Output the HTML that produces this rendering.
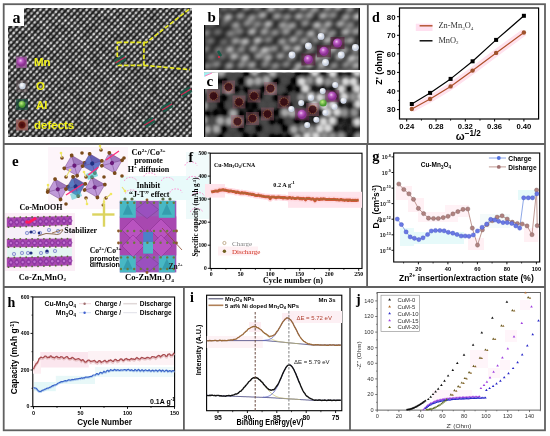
<!DOCTYPE html>
<html><head><meta charset="utf-8"><style>
html,body{margin:0;padding:0;background:#fff;width:550px;height:436px;overflow:hidden;}
svg{display:block;will-change:transform;}
</style></head><body>
<svg width="550" height="436" viewBox="0 0 550 436">
<rect width="550" height="436" fill="#fff"/>
<defs>
<radialGradient id="dotg"><stop offset="0" stop-color="#f6f6f6"/><stop offset="0.5" stop-color="#c4c4c4"/><stop offset="1" stop-color="#707070" stop-opacity="0"/></radialGradient>
<linearGradient id="strg" x1="0" y1="0" x2="0" y2="1"><stop offset="0" stop-color="#6a6a6a" stop-opacity="0"/><stop offset="0.5" stop-color="#7a7a7a"/><stop offset="1" stop-color="#6a6a6a" stop-opacity="0"/></linearGradient>
<pattern id="latt" width="4.4" height="4.3" patternUnits="userSpaceOnUse" patternTransform="rotate(-48)">
<rect width="4.4" height="4.3" fill="#2a2a2a"/>
<rect x="0" y="0.7" width="4.4" height="2.9" fill="url(#strg)"/>
<ellipse cx="2.2" cy="2.15" rx="2.15" ry="1.85" fill="url(#dotg)"/>
</pattern>
<filter id="noiseA" x="0" y="0" width="100%" height="100%"><feTurbulence type="fractalNoise" baseFrequency="0.12" numOctaves="2" seed="4" result="n"/><feColorMatrix in="n" type="matrix" values="0 0 0 0 0  0 0 0 0 0  0 0 0 0 0  1.6 0 0 0 -0.55"/></filter>
<radialGradient id="ballMn" cx="0.4" cy="0.35"><stop offset="0" stop-color="#f0c8f0"/><stop offset="0.4" stop-color="#c060c8"/><stop offset="1" stop-color="#8a3090"/></radialGradient>
<radialGradient id="ballO" cx="0.4" cy="0.35"><stop offset="0" stop-color="#ffffff"/><stop offset="1" stop-color="#c8d0e0"/></radialGradient>
<radialGradient id="ballAl" cx="0.4" cy="0.35"><stop offset="0" stop-color="#c0f080"/><stop offset="1" stop-color="#4a9a30"/></radialGradient>
<radialGradient id="ballD" cx="0.5" cy="0.5"><stop offset="0" stop-color="#3a0808"/><stop offset="0.7" stop-color="#601818"/><stop offset="1" stop-color="#a06040"/></radialGradient>
<filter id="blur1" x="-5%" y="-5%" width="110%" height="110%"><feGaussianBlur stdDeviation="2.2"/></filter>
<filter id="blur2" x="-5%" y="-5%" width="110%" height="110%"><feGaussianBlur stdDeviation="1.5"/></filter>
<filter id="blur05"><feGaussianBlur stdDeviation="0.5"/></filter>
<clipPath id="clipA"><rect x="8" y="8" width="184" height="129"/></clipPath>
<clipPath id="clipB"><rect x="204" y="8" width="156" height="62"/></clipPath>
<clipPath id="clipC"><rect x="204" y="72.5" width="156" height="64.5"/></clipPath>
</defs>
<rect x="3.7" y="4.2" width="541.3" height="426.1" fill="none" stroke="#606060" stroke-width="1.8" />
<line x1="3.7" y1="144" x2="545" y2="144" stroke="#606060" stroke-width="1.8" />
<line x1="3.7" y1="287" x2="545" y2="287" stroke="#606060" stroke-width="1.8" />
<line x1="367.8" y1="4.2" x2="367.8" y2="144" stroke="#606060" stroke-width="1.8" />
<line x1="367.1" y1="144" x2="367.1" y2="287" stroke="#606060" stroke-width="1.8" />
<line x1="183.9" y1="287" x2="183.9" y2="430.3" stroke="#606060" stroke-width="1.8" />
<line x1="350" y1="287" x2="350" y2="430.3" stroke="#606060" stroke-width="1.8" />
<rect x="48" y="147" width="80" height="62" fill="#fdf5fa" stroke="none" stroke-width="1" />
<rect x="120" y="176" width="89" height="24" fill="#e8fafa" stroke="none" stroke-width="1" />
<rect x="186" y="152" width="23" height="24" fill="#f2fbfb" stroke="none" stroke-width="1" />
<rect x="186" y="200" width="23" height="19" fill="#eefafa" stroke="none" stroke-width="1" />
<path d="M124.5 181 a6 3.6 0 0 1 12 0" fill="none" stroke="#ff94d4" stroke-width="1" stroke-dasharray="1.6,1.3"/>
<path d="M161.5 181 a6 3.6 0 0 1 12 0" fill="none" stroke="#ff94d4" stroke-width="1" stroke-dasharray="1.6,1.3"/>
<path d="M187 180 a6 3.6 0 0 1 12 0" fill="none" stroke="#ff94d4" stroke-width="1" stroke-dasharray="1.6,1.3"/>
<path d="M185 165.5 a6 3.6 0 0 1 12 0" fill="none" stroke="#ff94d4" stroke-width="1" stroke-dasharray="1.6,1.3"/>
<path d="M125.5 193.5 a6 3.6 0 0 1 12 0" fill="none" stroke="#ff94d4" stroke-width="1" stroke-dasharray="1.6,1.3"/>
<path d="M170 192.5 a6 3.6 0 0 1 12 0" fill="none" stroke="#ff94d4" stroke-width="1" stroke-dasharray="1.6,1.3"/>
<path d="M190.5 212 a6 3.6 0 0 1 12 0" fill="none" stroke="#ff94d4" stroke-width="1" stroke-dasharray="1.6,1.3"/>
<path d="M192 196 a6 3.6 0 0 1 12 0" fill="none" stroke="#ff94d4" stroke-width="1" stroke-dasharray="1.6,1.3"/>
<path d="M144 176.5 a6 3.6 0 0 1 12 0" fill="none" stroke="#ff94d4" stroke-width="1" stroke-dasharray="1.6,1.3"/>
<g clip-path="url(#clipA)">
<rect x="8" y="8" width="184" height="129" fill="url(#latt)" stroke="none" stroke-width="1" />
<rect x="8" y="8" width="184" height="129" fill="#000" stroke="none" stroke-width="1" filter="url(#noiseA)" opacity="0.4"/>
</g>
<rect x="8" y="8" width="16" height="18" fill="#ffffff" stroke="none" stroke-width="1" />
<text x="12.5" y="22.5" font-family='"Liberation Serif",serif' font-size="16" font-weight="bold" fill="#000" text-anchor="start" >a</text>
<g fill="none" stroke="#e8e820" stroke-width="1.7" stroke-dasharray="4.5,2">
<rect x="117.3" y="42.3" width="26.6" height="23"/>
<polyline points="143.9,42.3 146.2,42.7 190,8.6"/>
<polyline points="143.9,65.3 190,69.7"/>
</g>
<rect x="16" y="56.5" width="11" height="11.5" fill="#9a5a9a" stroke="none" stroke-width="1" opacity="0.8"/>
<rect x="16" y="80" width="12" height="12" fill="#6a5a60" stroke="none" stroke-width="1" opacity="0.45"/>
<rect x="16" y="99" width="12" height="11" fill="#1a4a3a" stroke="none" stroke-width="1" opacity="0.75"/>
<rect x="16" y="119.5" width="12" height="11" fill="#9a6060" stroke="none" stroke-width="1" opacity="0.85"/>
<circle cx="21.5" cy="62" r="4.6" fill="url(#ballMn)" stroke="none" stroke-width="0.5" />
<circle cx="22.4" cy="86" r="3.2" fill="url(#ballO)" stroke="none" stroke-width="0.5" />
<circle cx="22" cy="104.3" r="3.4" fill="url(#ballAl)" stroke="none" stroke-width="0.5" />
<circle cx="22" cy="125" r="4.2" fill="url(#ballD)" stroke="none" stroke-width="0.5" />
<text x="34" y="66" font-family='"Liberation Sans",sans-serif' font-size="11.5" font-weight="bold" fill="#f2f21a" text-anchor="start" >Mn</text>
<text x="36" y="90.3" font-family='"Liberation Sans",sans-serif' font-size="11.5" font-weight="bold" fill="#f2f21a" text-anchor="start" >O</text>
<text x="36" y="108.5" font-family='"Liberation Sans",sans-serif' font-size="11.5" font-weight="bold" fill="#f2f21a" text-anchor="start" >Al</text>
<text x="34" y="129" font-family='"Liberation Sans",sans-serif' font-size="11.5" font-weight="bold" fill="#f2f21a" text-anchor="start" >defects</text>
<g opacity="0.9"><rect x="114.8" y="56.75" width="11" height="6.5" fill="#1a5a48" transform="rotate(-30 120.3 60)"/>
<line x1="115.3" y1="63" x2="125.3" y2="57" stroke="#e02050" stroke-width="1.2" />
</g>
<g opacity="0.9"><rect x="180.5" y="88.75" width="11" height="6.5" fill="#1a5a48" transform="rotate(-30 186 92)"/>
<line x1="181" y1="95" x2="191" y2="89" stroke="#e02050" stroke-width="1.2" />
</g>
<g opacity="0.9"><rect x="161.5" y="103.75" width="11" height="6.5" fill="#1a5a48" transform="rotate(-30 167 107)"/>
<line x1="162" y1="110" x2="172" y2="104" stroke="#e02050" stroke-width="1.2" />
</g>
<g opacity="0.9"><rect x="143.8" y="118.95" width="11" height="6.5" fill="#1a5a48" transform="rotate(-30 149.3 122.2)"/>
<line x1="144.3" y1="125.2" x2="154.3" y2="119.2" stroke="#e02050" stroke-width="1.2" />
</g>
<g clip-path="url(#clipB)">
<rect x="204" y="8" width="156" height="62" fill="#1c1c1c" stroke="none" stroke-width="1" />
<g filter="url(#blur1)">
<ellipse cx="199" cy="8.5" rx="4.7" ry="3.1" fill="rgb(135,135,135)" transform="rotate(-15 199 8.5)"/>
<ellipse cx="211.5" cy="7.3" rx="4.7" ry="3.1" fill="rgb(148,148,148)" transform="rotate(-15 211.5 7.3)"/>
<ellipse cx="224.1" cy="8" rx="4.7" ry="3.1" fill="rgb(129,129,129)" transform="rotate(-15 224.1 8)"/>
<ellipse cx="234" cy="6.8" rx="4.7" ry="3.1" fill="rgb(166,166,166)" transform="rotate(-15 234 6.8)"/>
<ellipse cx="246.7" cy="7" rx="4.7" ry="3.1" fill="rgb(197,197,197)" transform="rotate(-15 246.7 7)"/>
<ellipse cx="257.2" cy="7.4" rx="4.7" ry="3.1" fill="rgb(146,146,146)" transform="rotate(-15 257.2 7.4)"/>
<ellipse cx="271.1" cy="8.6" rx="4.7" ry="3.1" fill="rgb(206,206,206)" transform="rotate(-15 271.1 8.6)"/>
<ellipse cx="281.5" cy="6.9" rx="4.7" ry="3.1" fill="rgb(169,169,169)" transform="rotate(-15 281.5 6.9)"/>
<ellipse cx="292.8" cy="7.1" rx="4.7" ry="3.1" fill="rgb(214,214,214)" transform="rotate(-15 292.8 7.1)"/>
<ellipse cx="304" cy="7.2" rx="4.7" ry="3.1" fill="rgb(206,206,206)" transform="rotate(-15 304 7.2)"/>
<ellipse cx="314.9" cy="9" rx="4.7" ry="3.1" fill="rgb(182,182,182)" transform="rotate(-15 314.9 9)"/>
<ellipse cx="327.8" cy="7.6" rx="4.7" ry="3.1" fill="rgb(185,185,185)" transform="rotate(-15 327.8 7.6)"/>
<ellipse cx="338.3" cy="6.9" rx="4.7" ry="3.1" fill="rgb(213,213,213)" transform="rotate(-15 338.3 6.9)"/>
<ellipse cx="350" cy="8.7" rx="4.7" ry="3.1" fill="rgb(169,169,169)" transform="rotate(-15 350 8.7)"/>
<ellipse cx="363.8" cy="8.9" rx="4.7" ry="3.1" fill="rgb(209,209,209)" transform="rotate(-15 363.8 8.9)"/>
<ellipse cx="206.6" cy="16.4" rx="4.7" ry="3.1" fill="rgb(143,143,143)" transform="rotate(-15 206.6 16.4)"/>
<ellipse cx="216.3" cy="16.1" rx="4.7" ry="3.1" fill="rgb(151,151,151)" transform="rotate(-15 216.3 16.1)"/>
<ellipse cx="228.1" cy="17.2" rx="4.7" ry="3.1" fill="rgb(202,202,202)" transform="rotate(-15 228.1 17.2)"/>
<ellipse cx="240.3" cy="15.9" rx="4.7" ry="3.1" fill="rgb(172,172,172)" transform="rotate(-15 240.3 15.9)"/>
<ellipse cx="251.9" cy="17.4" rx="4.7" ry="3.1" fill="rgb(169,169,169)" transform="rotate(-15 251.9 17.4)"/>
<ellipse cx="262.4" cy="15.2" rx="4.7" ry="3.1" fill="rgb(194,194,194)" transform="rotate(-15 262.4 15.2)"/>
<ellipse cx="276.9" cy="16.2" rx="4.7" ry="3.1" fill="rgb(180,180,180)" transform="rotate(-15 276.9 16.2)"/>
<ellipse cx="287.2" cy="16.8" rx="4.7" ry="3.1" fill="rgb(162,162,162)" transform="rotate(-15 287.2 16.8)"/>
<ellipse cx="298.9" cy="16.3" rx="4.7" ry="3.1" fill="rgb(191,191,191)" transform="rotate(-15 298.9 16.3)"/>
<ellipse cx="309.2" cy="15.4" rx="4.7" ry="3.1" fill="rgb(174,174,174)" transform="rotate(-15 309.2 15.4)"/>
<ellipse cx="323.1" cy="15.8" rx="4.7" ry="3.1" fill="rgb(193,193,193)" transform="rotate(-15 323.1 15.8)"/>
<ellipse cx="332.8" cy="15.2" rx="4.7" ry="3.1" fill="rgb(157,157,157)" transform="rotate(-15 332.8 15.2)"/>
<ellipse cx="345.9" cy="16.9" rx="4.7" ry="3.1" fill="rgb(180,180,180)" transform="rotate(-15 345.9 16.9)"/>
<ellipse cx="357.2" cy="16.6" rx="4.7" ry="3.1" fill="rgb(218,218,218)" transform="rotate(-15 357.2 16.6)"/>
<ellipse cx="369.6" cy="16" rx="4.7" ry="3.1" fill="rgb(226,226,226)" transform="rotate(-15 369.6 16)"/>
<ellipse cx="201.4" cy="24.6" rx="4.7" ry="3.1" fill="rgb(153,153,153)" transform="rotate(-15 201.4 24.6)"/>
<ellipse cx="211.6" cy="24.1" rx="4.7" ry="3.1" fill="rgb(110,110,110)" transform="rotate(-15 211.6 24.1)"/>
<ellipse cx="224.3" cy="23.6" rx="4.7" ry="3.1" fill="rgb(99,99,99)" transform="rotate(-15 224.3 23.6)"/>
<ellipse cx="235.7" cy="25.1" rx="4.7" ry="3.1" fill="rgb(174,174,174)" transform="rotate(-15 235.7 25.1)"/>
<ellipse cx="247.4" cy="23.3" rx="4.7" ry="3.1" fill="rgb(160,160,160)" transform="rotate(-15 247.4 23.3)"/>
<ellipse cx="257.4" cy="24.2" rx="4.7" ry="3.1" fill="rgb(155,155,155)" transform="rotate(-15 257.4 24.2)"/>
<ellipse cx="268.3" cy="24" rx="4.7" ry="3.1" fill="rgb(207,207,207)" transform="rotate(-15 268.3 24)"/>
<ellipse cx="282.7" cy="25" rx="4.7" ry="3.1" fill="rgb(179,179,179)" transform="rotate(-15 282.7 25)"/>
<ellipse cx="292.1" cy="25.5" rx="4.7" ry="3.1" fill="rgb(184,184,184)" transform="rotate(-15 292.1 25.5)"/>
<ellipse cx="305.1" cy="23.3" rx="4.7" ry="3.1" fill="rgb(163,163,163)" transform="rotate(-15 305.1 23.3)"/>
<ellipse cx="317" cy="25.1" rx="4.7" ry="3.1" fill="rgb(212,212,212)" transform="rotate(-15 317 25.1)"/>
<ellipse cx="327.9" cy="24.2" rx="4.7" ry="3.1" fill="rgb(192,192,192)" transform="rotate(-15 327.9 24.2)"/>
<ellipse cx="340.2" cy="23.9" rx="4.7" ry="3.1" fill="rgb(190,190,190)" transform="rotate(-15 340.2 23.9)"/>
<ellipse cx="350.1" cy="25" rx="4.7" ry="3.1" fill="rgb(155,155,155)" transform="rotate(-15 350.1 25)"/>
<ellipse cx="363" cy="25.5" rx="4.7" ry="3.1" fill="rgb(157,157,157)" transform="rotate(-15 363 25.5)"/>
<ellipse cx="206.1" cy="32.9" rx="4.7" ry="3.1" fill="rgb(151,151,151)" transform="rotate(-15 206.1 32.9)"/>
<ellipse cx="217.7" cy="32" rx="4.7" ry="3.1" fill="rgb(122,122,122)" transform="rotate(-15 217.7 32)"/>
<ellipse cx="230.4" cy="33.6" rx="4.7" ry="3.1" fill="rgb(149,149,149)" transform="rotate(-15 230.4 33.6)"/>
<ellipse cx="239.4" cy="31.6" rx="4.7" ry="3.1" fill="rgb(143,143,143)" transform="rotate(-15 239.4 31.6)"/>
<ellipse cx="252" cy="31.7" rx="4.7" ry="3.1" fill="rgb(203,203,203)" transform="rotate(-15 252 31.7)"/>
<ellipse cx="264.3" cy="31.7" rx="4.7" ry="3.1" fill="rgb(181,181,181)" transform="rotate(-15 264.3 31.7)"/>
<ellipse cx="274.9" cy="32.6" rx="4.7" ry="3.1" fill="rgb(160,160,160)" transform="rotate(-15 274.9 32.6)"/>
<ellipse cx="286" cy="31.8" rx="4.7" ry="3.1" fill="rgb(173,173,173)" transform="rotate(-15 286 31.8)"/>
<ellipse cx="299.2" cy="32.7" rx="4.7" ry="3.1" fill="rgb(151,151,151)" transform="rotate(-15 299.2 32.7)"/>
<ellipse cx="310.8" cy="33.5" rx="4.7" ry="3.1" fill="rgb(204,204,204)" transform="rotate(-15 310.8 33.5)"/>
<ellipse cx="322.7" cy="31.4" rx="4.7" ry="3.1" fill="rgb(183,183,183)" transform="rotate(-15 322.7 31.4)"/>
<ellipse cx="332.1" cy="33.2" rx="4.7" ry="3.1" fill="rgb(164,164,164)" transform="rotate(-15 332.1 33.2)"/>
<ellipse cx="345.6" cy="32" rx="4.7" ry="3.1" fill="rgb(202,202,202)" transform="rotate(-15 345.6 32)"/>
<ellipse cx="356" cy="31.5" rx="4.7" ry="3.1" fill="rgb(182,182,182)" transform="rotate(-15 356 31.5)"/>
<ellipse cx="367.6" cy="33.6" rx="4.7" ry="3.1" fill="rgb(177,177,177)" transform="rotate(-15 367.6 33.6)"/>
<ellipse cx="200" cy="40.9" rx="4.7" ry="3.1" fill="rgb(157,157,157)" transform="rotate(-15 200 40.9)"/>
<ellipse cx="210.4" cy="41" rx="4.7" ry="3.1" fill="rgb(128,128,128)" transform="rotate(-15 210.4 41)"/>
<ellipse cx="223.9" cy="41.9" rx="4.7" ry="3.1" fill="rgb(116,116,116)" transform="rotate(-15 223.9 41.9)"/>
<ellipse cx="235.4" cy="40.9" rx="4.7" ry="3.1" fill="rgb(180,180,180)" transform="rotate(-15 235.4 40.9)"/>
<ellipse cx="245.1" cy="41.6" rx="4.7" ry="3.1" fill="rgb(210,210,210)" transform="rotate(-15 245.1 41.6)"/>
<ellipse cx="257.6" cy="40.4" rx="4.7" ry="3.1" fill="rgb(212,212,212)" transform="rotate(-15 257.6 40.4)"/>
<ellipse cx="268.4" cy="39.8" rx="4.7" ry="3.1" fill="rgb(149,149,149)" transform="rotate(-15 268.4 39.8)"/>
<ellipse cx="282.1" cy="41.4" rx="4.7" ry="3.1" fill="rgb(177,177,177)" transform="rotate(-15 282.1 41.4)"/>
<ellipse cx="293.2" cy="39.6" rx="4.7" ry="3.1" fill="rgb(192,192,192)" transform="rotate(-15 293.2 39.6)"/>
<ellipse cx="304.2" cy="40.8" rx="4.7" ry="3.1" fill="rgb(176,176,176)" transform="rotate(-15 304.2 40.8)"/>
<ellipse cx="315.7" cy="40.1" rx="4.7" ry="3.1" fill="rgb(153,153,153)" transform="rotate(-15 315.7 40.1)"/>
<ellipse cx="327.4" cy="40.2" rx="4.7" ry="3.1" fill="rgb(201,201,201)" transform="rotate(-15 327.4 40.2)"/>
<ellipse cx="340.2" cy="41.3" rx="4.7" ry="3.1" fill="rgb(185,185,185)" transform="rotate(-15 340.2 41.3)"/>
<ellipse cx="350" cy="40.5" rx="4.7" ry="3.1" fill="rgb(188,188,188)" transform="rotate(-15 350 40.5)"/>
<ellipse cx="362.8" cy="41.9" rx="4.7" ry="3.1" fill="rgb(162,162,162)" transform="rotate(-15 362.8 41.9)"/>
<ellipse cx="205.7" cy="49" rx="4.7" ry="3.1" fill="rgb(142,142,142)" transform="rotate(-15 205.7 49)"/>
<ellipse cx="218.6" cy="49.7" rx="4.7" ry="3.1" fill="rgb(137,137,137)" transform="rotate(-15 218.6 49.7)"/>
<ellipse cx="229.8" cy="49.4" rx="4.7" ry="3.1" fill="rgb(200,200,200)" transform="rotate(-15 229.8 49.4)"/>
<ellipse cx="241.2" cy="49.4" rx="4.7" ry="3.1" fill="rgb(158,158,158)" transform="rotate(-15 241.2 49.4)"/>
<ellipse cx="253.5" cy="48.7" rx="4.7" ry="3.1" fill="rgb(185,185,185)" transform="rotate(-15 253.5 48.7)"/>
<ellipse cx="264.8" cy="50.1" rx="4.7" ry="3.1" fill="rgb(213,213,213)" transform="rotate(-15 264.8 50.1)"/>
<ellipse cx="273.9" cy="48.6" rx="4.7" ry="3.1" fill="rgb(167,167,167)" transform="rotate(-15 273.9 48.6)"/>
<ellipse cx="286.7" cy="48.1" rx="4.7" ry="3.1" fill="rgb(185,185,185)" transform="rotate(-15 286.7 48.1)"/>
<ellipse cx="297.3" cy="48.5" rx="4.7" ry="3.1" fill="rgb(214,214,214)" transform="rotate(-15 297.3 48.5)"/>
<ellipse cx="310.9" cy="48.9" rx="4.7" ry="3.1" fill="rgb(157,157,157)" transform="rotate(-15 310.9 48.9)"/>
<ellipse cx="323.2" cy="49.5" rx="4.7" ry="3.1" fill="rgb(165,165,165)" transform="rotate(-15 323.2 49.5)"/>
<ellipse cx="332.9" cy="49.3" rx="4.7" ry="3.1" fill="rgb(200,200,200)" transform="rotate(-15 332.9 49.3)"/>
<ellipse cx="344.3" cy="50.1" rx="4.7" ry="3.1" fill="rgb(176,176,176)" transform="rotate(-15 344.3 50.1)"/>
<ellipse cx="355.9" cy="49.8" rx="4.7" ry="3.1" fill="rgb(165,165,165)" transform="rotate(-15 355.9 49.8)"/>
<ellipse cx="368.7" cy="48.3" rx="4.7" ry="3.1" fill="rgb(198,198,198)" transform="rotate(-15 368.7 48.3)"/>
<ellipse cx="199.3" cy="56.9" rx="4.7" ry="3.1" fill="rgb(157,157,157)" transform="rotate(-15 199.3 56.9)"/>
<ellipse cx="211.5" cy="57" rx="4.7" ry="3.1" fill="rgb(136,136,136)" transform="rotate(-15 211.5 57)"/>
<ellipse cx="222.5" cy="56.4" rx="4.7" ry="3.1" fill="rgb(121,121,121)" transform="rotate(-15 222.5 56.4)"/>
<ellipse cx="234.1" cy="56.5" rx="4.7" ry="3.1" fill="rgb(207,207,207)" transform="rotate(-15 234.1 56.5)"/>
<ellipse cx="245" cy="57.9" rx="4.7" ry="3.1" fill="rgb(207,207,207)" transform="rotate(-15 245 57.9)"/>
<ellipse cx="258.6" cy="56" rx="4.7" ry="3.1" fill="rgb(178,178,178)" transform="rotate(-15 258.6 56)"/>
<ellipse cx="268.2" cy="57.5" rx="4.7" ry="3.1" fill="rgb(193,193,193)" transform="rotate(-15 268.2 57.5)"/>
<ellipse cx="280.4" cy="56" rx="4.7" ry="3.1" fill="rgb(184,184,184)" transform="rotate(-15 280.4 56)"/>
<ellipse cx="291.6" cy="56.7" rx="4.7" ry="3.1" fill="rgb(179,179,179)" transform="rotate(-15 291.6 56.7)"/>
<ellipse cx="305.6" cy="56.9" rx="4.7" ry="3.1" fill="rgb(158,158,158)" transform="rotate(-15 305.6 56.9)"/>
<ellipse cx="316.9" cy="58" rx="4.7" ry="3.1" fill="rgb(187,187,187)" transform="rotate(-15 316.9 58)"/>
<ellipse cx="326.2" cy="56.5" rx="4.7" ry="3.1" fill="rgb(179,179,179)" transform="rotate(-15 326.2 56.5)"/>
<ellipse cx="339.4" cy="56.5" rx="4.7" ry="3.1" fill="rgb(209,209,209)" transform="rotate(-15 339.4 56.5)"/>
<ellipse cx="351.8" cy="58.2" rx="4.7" ry="3.1" fill="rgb(216,216,216)" transform="rotate(-15 351.8 58.2)"/>
<ellipse cx="361" cy="57.4" rx="4.7" ry="3.1" fill="rgb(161,161,161)" transform="rotate(-15 361 57.4)"/>
<ellipse cx="207" cy="66" rx="4.7" ry="3.1" fill="rgb(145,145,145)" transform="rotate(-15 207 66)"/>
<ellipse cx="216.5" cy="64.3" rx="4.7" ry="3.1" fill="rgb(150,150,150)" transform="rotate(-15 216.5 64.3)"/>
<ellipse cx="229.3" cy="65.7" rx="4.7" ry="3.1" fill="rgb(173,173,173)" transform="rotate(-15 229.3 65.7)"/>
<ellipse cx="241.5" cy="65" rx="4.7" ry="3.1" fill="rgb(160,160,160)" transform="rotate(-15 241.5 65)"/>
<ellipse cx="251.8" cy="64.9" rx="4.7" ry="3.1" fill="rgb(186,186,186)" transform="rotate(-15 251.8 64.9)"/>
<ellipse cx="265" cy="64.4" rx="4.7" ry="3.1" fill="rgb(149,149,149)" transform="rotate(-15 265 64.4)"/>
<ellipse cx="275.4" cy="65.8" rx="4.7" ry="3.1" fill="rgb(158,158,158)" transform="rotate(-15 275.4 65.8)"/>
<ellipse cx="286.3" cy="64.3" rx="4.7" ry="3.1" fill="rgb(149,149,149)" transform="rotate(-15 286.3 64.3)"/>
<ellipse cx="298.6" cy="65.8" rx="4.7" ry="3.1" fill="rgb(194,194,194)" transform="rotate(-15 298.6 65.8)"/>
<ellipse cx="309.2" cy="64.4" rx="4.7" ry="3.1" fill="rgb(214,214,214)" transform="rotate(-15 309.2 64.4)"/>
<ellipse cx="321.9" cy="65.2" rx="4.7" ry="3.1" fill="rgb(199,199,199)" transform="rotate(-15 321.9 65.2)"/>
<ellipse cx="334.1" cy="65.5" rx="4.7" ry="3.1" fill="rgb(158,158,158)" transform="rotate(-15 334.1 65.5)"/>
<ellipse cx="346" cy="64.7" rx="4.7" ry="3.1" fill="rgb(156,156,156)" transform="rotate(-15 346 64.7)"/>
<ellipse cx="356.2" cy="65.5" rx="4.7" ry="3.1" fill="rgb(199,199,199)" transform="rotate(-15 356.2 65.5)"/>
<ellipse cx="367.2" cy="65.9" rx="4.7" ry="3.1" fill="rgb(191,191,191)" transform="rotate(-15 367.2 65.9)"/>
<ellipse cx="199" cy="74.4" rx="4.7" ry="3.1" fill="rgb(147,147,147)" transform="rotate(-15 199 74.4)"/>
<ellipse cx="212.8" cy="74" rx="4.7" ry="3.1" fill="rgb(108,108,108)" transform="rotate(-15 212.8 74)"/>
<ellipse cx="224" cy="74.6" rx="4.7" ry="3.1" fill="rgb(131,131,131)" transform="rotate(-15 224 74.6)"/>
<ellipse cx="236" cy="74.7" rx="4.7" ry="3.1" fill="rgb(168,168,168)" transform="rotate(-15 236 74.7)"/>
<ellipse cx="247.7" cy="74.6" rx="4.7" ry="3.1" fill="rgb(197,197,197)" transform="rotate(-15 247.7 74.6)"/>
<ellipse cx="256.5" cy="73.2" rx="4.7" ry="3.1" fill="rgb(186,186,186)" transform="rotate(-15 256.5 73.2)"/>
<ellipse cx="269.9" cy="74.2" rx="4.7" ry="3.1" fill="rgb(190,190,190)" transform="rotate(-15 269.9 74.2)"/>
<ellipse cx="280.2" cy="74.6" rx="4.7" ry="3.1" fill="rgb(183,183,183)" transform="rotate(-15 280.2 74.6)"/>
<ellipse cx="293.9" cy="72.9" rx="4.7" ry="3.1" fill="rgb(217,217,217)" transform="rotate(-15 293.9 72.9)"/>
<ellipse cx="304.6" cy="74.3" rx="4.7" ry="3.1" fill="rgb(200,200,200)" transform="rotate(-15 304.6 74.3)"/>
<ellipse cx="317.1" cy="73.3" rx="4.7" ry="3.1" fill="rgb(156,156,156)" transform="rotate(-15 317.1 73.3)"/>
<ellipse cx="327.3" cy="72.8" rx="4.7" ry="3.1" fill="rgb(189,189,189)" transform="rotate(-15 327.3 72.8)"/>
<ellipse cx="340.1" cy="73.3" rx="4.7" ry="3.1" fill="rgb(162,162,162)" transform="rotate(-15 340.1 73.3)"/>
<ellipse cx="349.4" cy="73.4" rx="4.7" ry="3.1" fill="rgb(195,195,195)" transform="rotate(-15 349.4 73.4)"/>
<ellipse cx="361" cy="74" rx="4.7" ry="3.1" fill="rgb(170,170,170)" transform="rotate(-15 361 74)"/>
</g>
<rect x="204" y="8" width="1.2" height="62" fill="#000" stroke="none" stroke-width="1" />
<rect x="358.5" y="8" width="1.5" height="62" fill="#111" stroke="none" stroke-width="1" />
</g>
<rect x="204" y="8" width="15" height="17" fill="#ffffff" stroke="none" stroke-width="1" />
<text x="207.5" y="22" font-family='"Liberation Serif",serif' font-size="15" font-weight="bold" fill="#000" text-anchor="start" >b</text>
<rect x="330.5" y="37" width="14" height="12" fill="#4a1030" stroke="none" stroke-width="1" opacity="0.55"/>
<rect x="317" y="45.3" width="14" height="12" fill="#4a1030" stroke="none" stroke-width="1" opacity="0.55"/>
<rect x="301.4" y="53.5" width="14" height="12" fill="#4a1030" stroke="none" stroke-width="1" opacity="0.55"/>
<circle cx="321" cy="36.4" r="3.4" fill="url(#ballO)" stroke="none" stroke-width="0.5" />
<circle cx="308.4" cy="46" r="3.4" fill="url(#ballO)" stroke="none" stroke-width="0.5" />
<circle cx="292" cy="55" r="3.4" fill="url(#ballO)" stroke="none" stroke-width="0.5" />
<circle cx="325.5" cy="62.5" r="3.4" fill="url(#ballO)" stroke="none" stroke-width="0.5" />
<circle cx="341.2" cy="55" r="3.4" fill="url(#ballO)" stroke="none" stroke-width="0.5" />
<circle cx="355.4" cy="47.5" r="3.4" fill="url(#ballO)" stroke="none" stroke-width="0.5" />
<circle cx="337.5" cy="43" r="4.6" fill="url(#ballMn)" stroke="none" stroke-width="0.5" />
<circle cx="324" cy="51.3" r="4.6" fill="url(#ballMn)" stroke="none" stroke-width="0.5" />
<circle cx="308.4" cy="59.5" r="4.6" fill="url(#ballMn)" stroke="none" stroke-width="0.5" />
<line x1="218" y1="51" x2="221" y2="56" stroke="#1a5a48" stroke-width="2.5" />
<circle cx="219" cy="57" r="0.9" fill="#ff2040" stroke="none" stroke-width="0.5" />
<g clip-path="url(#clipC)">
<rect x="204" y="72.5" width="156" height="64.5" fill="#404040" stroke="none" stroke-width="1" />
<g filter="url(#blur2)">
<ellipse cx="203.1" cy="73.3" rx="3.9" ry="4.1" fill="#484848"/>
<ellipse cx="211.2" cy="73.3" rx="3.9" ry="4.1" fill="#484848"/>
<ellipse cx="221" cy="72.4" rx="3.9" ry="4.1" fill="#a8a8a8"/>
<ellipse cx="229" cy="73" rx="3.9" ry="4.1" fill="#484848"/>
<ellipse cx="237.5" cy="72.9" rx="3.9" ry="4.1" fill="#484848"/>
<ellipse cx="246.3" cy="72.6" rx="3.9" ry="4.1" fill="#050505"/>
<ellipse cx="254.6" cy="72.1" rx="3.9" ry="4.1" fill="#a8a8a8"/>
<ellipse cx="263.7" cy="72.9" rx="3.9" ry="4.1" fill="#484848"/>
<ellipse cx="272.7" cy="73.1" rx="3.9" ry="4.1" fill="#a8a8a8"/>
<ellipse cx="279.6" cy="72.1" rx="3.9" ry="4.1" fill="#484848"/>
<ellipse cx="288.6" cy="72.4" rx="3.9" ry="4.1" fill="#484848"/>
<ellipse cx="298.1" cy="72.2" rx="3.9" ry="4.1" fill="#050505"/>
<ellipse cx="305.7" cy="72.5" rx="3.9" ry="4.1" fill="#141414"/>
<ellipse cx="314.8" cy="72.6" rx="3.9" ry="4.1" fill="#d8d8d8"/>
<ellipse cx="322.8" cy="72.2" rx="3.9" ry="4.1" fill="#141414"/>
<ellipse cx="332.7" cy="73.5" rx="3.9" ry="4.1" fill="#d8d8d8"/>
<ellipse cx="339.8" cy="72.3" rx="3.9" ry="4.1" fill="#141414"/>
<ellipse cx="348.8" cy="72.1" rx="3.9" ry="4.1" fill="#141414"/>
<ellipse cx="357.2" cy="72.4" rx="3.9" ry="4.1" fill="#d8d8d8"/>
<ellipse cx="207.2" cy="80.9" rx="3.9" ry="4.1" fill="#050505"/>
<ellipse cx="216" cy="81.6" rx="3.9" ry="4.1" fill="#050505"/>
<ellipse cx="223.6" cy="81" rx="3.9" ry="4.1" fill="#050505"/>
<ellipse cx="233.7" cy="80.2" rx="3.9" ry="4.1" fill="#484848"/>
<ellipse cx="240.7" cy="81.1" rx="3.9" ry="4.1" fill="#050505"/>
<ellipse cx="249.9" cy="81.8" rx="3.9" ry="4.1" fill="#a8a8a8"/>
<ellipse cx="258.2" cy="81" rx="3.9" ry="4.1" fill="#a8a8a8"/>
<ellipse cx="266.6" cy="80.2" rx="3.9" ry="4.1" fill="#a8a8a8"/>
<ellipse cx="276.6" cy="80.9" rx="3.9" ry="4.1" fill="#050505"/>
<ellipse cx="284.7" cy="80.5" rx="3.9" ry="4.1" fill="#484848"/>
<ellipse cx="294.2" cy="81" rx="3.9" ry="4.1" fill="#050505"/>
<ellipse cx="301.7" cy="81.6" rx="3.9" ry="4.1" fill="#d8d8d8"/>
<ellipse cx="309.7" cy="80.4" rx="3.9" ry="4.1" fill="#909090"/>
<ellipse cx="319.3" cy="80.6" rx="3.9" ry="4.1" fill="#d8d8d8"/>
<ellipse cx="328.2" cy="81.9" rx="3.9" ry="4.1" fill="#909090"/>
<ellipse cx="336.2" cy="81.6" rx="3.9" ry="4.1" fill="#909090"/>
<ellipse cx="345.6" cy="81.5" rx="3.9" ry="4.1" fill="#d8d8d8"/>
<ellipse cx="353.5" cy="81.7" rx="3.9" ry="4.1" fill="#d8d8d8"/>
<ellipse cx="362.5" cy="80.5" rx="3.9" ry="4.1" fill="#141414"/>
<ellipse cx="202.5" cy="89.2" rx="3.9" ry="4.1" fill="#a8a8a8"/>
<ellipse cx="211" cy="88.4" rx="3.9" ry="4.1" fill="#484848"/>
<ellipse cx="219.3" cy="89.9" rx="3.9" ry="4.1" fill="#484848"/>
<ellipse cx="228.9" cy="90" rx="3.9" ry="4.1" fill="#a8a8a8"/>
<ellipse cx="236.4" cy="89.9" rx="3.9" ry="4.1" fill="#050505"/>
<ellipse cx="246.8" cy="89.6" rx="3.9" ry="4.1" fill="#050505"/>
<ellipse cx="253.7" cy="88" rx="3.9" ry="4.1" fill="#484848"/>
<ellipse cx="263.8" cy="88.5" rx="3.9" ry="4.1" fill="#050505"/>
<ellipse cx="271.5" cy="89.6" rx="3.9" ry="4.1" fill="#a8a8a8"/>
<ellipse cx="281.1" cy="89.9" rx="3.9" ry="4.1" fill="#484848"/>
<ellipse cx="289.7" cy="88" rx="3.9" ry="4.1" fill="#050505"/>
<ellipse cx="298.3" cy="89.2" rx="3.9" ry="4.1" fill="#050505"/>
<ellipse cx="305.5" cy="88.7" rx="3.9" ry="4.1" fill="#d8d8d8"/>
<ellipse cx="314.8" cy="88.9" rx="3.9" ry="4.1" fill="#141414"/>
<ellipse cx="322.6" cy="88.4" rx="3.9" ry="4.1" fill="#141414"/>
<ellipse cx="331.2" cy="88.8" rx="3.9" ry="4.1" fill="#141414"/>
<ellipse cx="341.2" cy="89.1" rx="3.9" ry="4.1" fill="#d8d8d8"/>
<ellipse cx="349.5" cy="88.5" rx="3.9" ry="4.1" fill="#141414"/>
<ellipse cx="357" cy="88.7" rx="3.9" ry="4.1" fill="#d8d8d8"/>
<ellipse cx="206.8" cy="96.6" rx="3.9" ry="4.1" fill="#484848"/>
<ellipse cx="214.9" cy="96.9" rx="3.9" ry="4.1" fill="#050505"/>
<ellipse cx="224.1" cy="97.4" rx="3.9" ry="4.1" fill="#050505"/>
<ellipse cx="232.2" cy="96.3" rx="3.9" ry="4.1" fill="#484848"/>
<ellipse cx="241.4" cy="96.2" rx="3.9" ry="4.1" fill="#484848"/>
<ellipse cx="250.6" cy="97.9" rx="3.9" ry="4.1" fill="#050505"/>
<ellipse cx="259.5" cy="96.1" rx="3.9" ry="4.1" fill="#050505"/>
<ellipse cx="268.1" cy="97" rx="3.9" ry="4.1" fill="#484848"/>
<ellipse cx="275.9" cy="97.8" rx="3.9" ry="4.1" fill="#050505"/>
<ellipse cx="284.9" cy="96.4" rx="3.9" ry="4.1" fill="#050505"/>
<ellipse cx="294.1" cy="96.9" rx="3.9" ry="4.1" fill="#484848"/>
<ellipse cx="301.5" cy="97.5" rx="3.9" ry="4.1" fill="#909090"/>
<ellipse cx="310.8" cy="96.5" rx="3.9" ry="4.1" fill="#d8d8d8"/>
<ellipse cx="320" cy="97.6" rx="3.9" ry="4.1" fill="#d8d8d8"/>
<ellipse cx="327.5" cy="96.2" rx="3.9" ry="4.1" fill="#909090"/>
<ellipse cx="335.6" cy="96.4" rx="3.9" ry="4.1" fill="#141414"/>
<ellipse cx="344.2" cy="96.8" rx="3.9" ry="4.1" fill="#d8d8d8"/>
<ellipse cx="352.9" cy="96.8" rx="3.9" ry="4.1" fill="#909090"/>
<ellipse cx="361.3" cy="96.3" rx="3.9" ry="4.1" fill="#d8d8d8"/>
<ellipse cx="203.8" cy="105.8" rx="3.9" ry="4.1" fill="#a8a8a8"/>
<ellipse cx="210.8" cy="105.7" rx="3.9" ry="4.1" fill="#484848"/>
<ellipse cx="221" cy="105.1" rx="3.9" ry="4.1" fill="#050505"/>
<ellipse cx="229" cy="105.6" rx="3.9" ry="4.1" fill="#484848"/>
<ellipse cx="237.4" cy="105" rx="3.9" ry="4.1" fill="#050505"/>
<ellipse cx="246.1" cy="105.1" rx="3.9" ry="4.1" fill="#050505"/>
<ellipse cx="254.5" cy="105.8" rx="3.9" ry="4.1" fill="#050505"/>
<ellipse cx="262.7" cy="104.6" rx="3.9" ry="4.1" fill="#484848"/>
<ellipse cx="271.4" cy="105.7" rx="3.9" ry="4.1" fill="#484848"/>
<ellipse cx="281.2" cy="105.6" rx="3.9" ry="4.1" fill="#050505"/>
<ellipse cx="288.9" cy="105.6" rx="3.9" ry="4.1" fill="#050505"/>
<ellipse cx="297.8" cy="105.7" rx="3.9" ry="4.1" fill="#484848"/>
<ellipse cx="305.9" cy="104.2" rx="3.9" ry="4.1" fill="#141414"/>
<ellipse cx="314.4" cy="105.1" rx="3.9" ry="4.1" fill="#d8d8d8"/>
<ellipse cx="324" cy="105.3" rx="3.9" ry="4.1" fill="#d8d8d8"/>
<ellipse cx="332.7" cy="104.7" rx="3.9" ry="4.1" fill="#d8d8d8"/>
<ellipse cx="340.3" cy="104.6" rx="3.9" ry="4.1" fill="#141414"/>
<ellipse cx="349.8" cy="105.8" rx="3.9" ry="4.1" fill="#141414"/>
<ellipse cx="358.2" cy="104.1" rx="3.9" ry="4.1" fill="#d8d8d8"/>
<ellipse cx="206.9" cy="113.8" rx="3.9" ry="4.1" fill="#050505"/>
<ellipse cx="215.9" cy="112.7" rx="3.9" ry="4.1" fill="#050505"/>
<ellipse cx="224" cy="112.1" rx="3.9" ry="4.1" fill="#050505"/>
<ellipse cx="233.2" cy="113.5" rx="3.9" ry="4.1" fill="#a8a8a8"/>
<ellipse cx="241.2" cy="114" rx="3.9" ry="4.1" fill="#050505"/>
<ellipse cx="250.2" cy="112.7" rx="3.9" ry="4.1" fill="#050505"/>
<ellipse cx="259.8" cy="113.4" rx="3.9" ry="4.1" fill="#050505"/>
<ellipse cx="266.9" cy="113.6" rx="3.9" ry="4.1" fill="#050505"/>
<ellipse cx="275.7" cy="112.6" rx="3.9" ry="4.1" fill="#050505"/>
<ellipse cx="284.9" cy="112.6" rx="3.9" ry="4.1" fill="#a8a8a8"/>
<ellipse cx="292.4" cy="113.1" rx="3.9" ry="4.1" fill="#a8a8a8"/>
<ellipse cx="301.5" cy="113.7" rx="3.9" ry="4.1" fill="#909090"/>
<ellipse cx="310.8" cy="112.8" rx="3.9" ry="4.1" fill="#141414"/>
<ellipse cx="319.4" cy="112.6" rx="3.9" ry="4.1" fill="#141414"/>
<ellipse cx="327.8" cy="112.4" rx="3.9" ry="4.1" fill="#d8d8d8"/>
<ellipse cx="336.8" cy="112" rx="3.9" ry="4.1" fill="#d8d8d8"/>
<ellipse cx="344.3" cy="112.7" rx="3.9" ry="4.1" fill="#909090"/>
<ellipse cx="354.4" cy="112.6" rx="3.9" ry="4.1" fill="#909090"/>
<ellipse cx="361.8" cy="113.9" rx="3.9" ry="4.1" fill="#141414"/>
<ellipse cx="203.3" cy="120.2" rx="3.9" ry="4.1" fill="#a8a8a8"/>
<ellipse cx="212.1" cy="121.8" rx="3.9" ry="4.1" fill="#484848"/>
<ellipse cx="220.3" cy="120.8" rx="3.9" ry="4.1" fill="#a8a8a8"/>
<ellipse cx="229.1" cy="121.2" rx="3.9" ry="4.1" fill="#a8a8a8"/>
<ellipse cx="237.9" cy="121.9" rx="3.9" ry="4.1" fill="#a8a8a8"/>
<ellipse cx="246.8" cy="121.5" rx="3.9" ry="4.1" fill="#050505"/>
<ellipse cx="255.2" cy="120.7" rx="3.9" ry="4.1" fill="#484848"/>
<ellipse cx="264" cy="121.8" rx="3.9" ry="4.1" fill="#484848"/>
<ellipse cx="272.2" cy="121" rx="3.9" ry="4.1" fill="#050505"/>
<ellipse cx="280.7" cy="121.8" rx="3.9" ry="4.1" fill="#050505"/>
<ellipse cx="288.4" cy="121.5" rx="3.9" ry="4.1" fill="#484848"/>
<ellipse cx="297" cy="120.3" rx="3.9" ry="4.1" fill="#050505"/>
<ellipse cx="306.3" cy="121.7" rx="3.9" ry="4.1" fill="#141414"/>
<ellipse cx="315.4" cy="120.1" rx="3.9" ry="4.1" fill="#141414"/>
<ellipse cx="323.5" cy="121.5" rx="3.9" ry="4.1" fill="#d8d8d8"/>
<ellipse cx="332.4" cy="120.7" rx="3.9" ry="4.1" fill="#d8d8d8"/>
<ellipse cx="340.6" cy="120" rx="3.9" ry="4.1" fill="#141414"/>
<ellipse cx="348.9" cy="121.3" rx="3.9" ry="4.1" fill="#141414"/>
<ellipse cx="357.3" cy="122" rx="3.9" ry="4.1" fill="#d8d8d8"/>
<ellipse cx="207.1" cy="129.6" rx="3.9" ry="4.1" fill="#a8a8a8"/>
<ellipse cx="216.5" cy="129.1" rx="3.9" ry="4.1" fill="#a8a8a8"/>
<ellipse cx="223.7" cy="128.9" rx="3.9" ry="4.1" fill="#050505"/>
<ellipse cx="232.6" cy="128.7" rx="3.9" ry="4.1" fill="#484848"/>
<ellipse cx="241.1" cy="128.2" rx="3.9" ry="4.1" fill="#050505"/>
<ellipse cx="249.6" cy="128" rx="3.9" ry="4.1" fill="#484848"/>
<ellipse cx="259" cy="128.1" rx="3.9" ry="4.1" fill="#050505"/>
<ellipse cx="266.8" cy="129" rx="3.9" ry="4.1" fill="#484848"/>
<ellipse cx="277.1" cy="128.8" rx="3.9" ry="4.1" fill="#484848"/>
<ellipse cx="284.7" cy="128.2" rx="3.9" ry="4.1" fill="#050505"/>
<ellipse cx="293.9" cy="129.6" rx="3.9" ry="4.1" fill="#a8a8a8"/>
<ellipse cx="302.9" cy="128.8" rx="3.9" ry="4.1" fill="#909090"/>
<ellipse cx="311.1" cy="129.8" rx="3.9" ry="4.1" fill="#909090"/>
<ellipse cx="319.8" cy="128.7" rx="3.9" ry="4.1" fill="#d8d8d8"/>
<ellipse cx="327.9" cy="128.2" rx="3.9" ry="4.1" fill="#d8d8d8"/>
<ellipse cx="336" cy="128.4" rx="3.9" ry="4.1" fill="#141414"/>
<ellipse cx="345.2" cy="128.6" rx="3.9" ry="4.1" fill="#141414"/>
<ellipse cx="354.1" cy="129.9" rx="3.9" ry="4.1" fill="#141414"/>
<ellipse cx="362.5" cy="128.2" rx="3.9" ry="4.1" fill="#141414"/>
<ellipse cx="202.3" cy="137.3" rx="3.9" ry="4.1" fill="#a8a8a8"/>
<ellipse cx="212.2" cy="137.3" rx="3.9" ry="4.1" fill="#484848"/>
<ellipse cx="220.9" cy="137.2" rx="3.9" ry="4.1" fill="#050505"/>
<ellipse cx="228.1" cy="137.7" rx="3.9" ry="4.1" fill="#484848"/>
<ellipse cx="237.7" cy="137.9" rx="3.9" ry="4.1" fill="#484848"/>
<ellipse cx="245.8" cy="136.4" rx="3.9" ry="4.1" fill="#050505"/>
<ellipse cx="255.4" cy="137.8" rx="3.9" ry="4.1" fill="#050505"/>
<ellipse cx="262.2" cy="136.9" rx="3.9" ry="4.1" fill="#484848"/>
<ellipse cx="272.6" cy="137.7" rx="3.9" ry="4.1" fill="#050505"/>
<ellipse cx="279.8" cy="137.5" rx="3.9" ry="4.1" fill="#050505"/>
<ellipse cx="288.6" cy="137.9" rx="3.9" ry="4.1" fill="#050505"/>
<ellipse cx="297.6" cy="137.8" rx="3.9" ry="4.1" fill="#a8a8a8"/>
<ellipse cx="307" cy="136.5" rx="3.9" ry="4.1" fill="#d8d8d8"/>
<ellipse cx="315.8" cy="136.3" rx="3.9" ry="4.1" fill="#d8d8d8"/>
<ellipse cx="324.4" cy="136.3" rx="3.9" ry="4.1" fill="#909090"/>
<ellipse cx="332.5" cy="136.5" rx="3.9" ry="4.1" fill="#909090"/>
<ellipse cx="341.2" cy="136.3" rx="3.9" ry="4.1" fill="#909090"/>
<ellipse cx="350" cy="137" rx="3.9" ry="4.1" fill="#141414"/>
<ellipse cx="358.4" cy="137.2" rx="3.9" ry="4.1" fill="#909090"/>
</g>
<rect x="204" y="72.5" width="1.2" height="64.5" fill="#000" stroke="none" stroke-width="1" />
</g>
<rect x="207" y="89.5" width="13" height="13" fill="#a06070" stroke="none" stroke-width="1" opacity="0.4"/>
<rect x="222" y="80.5" width="13" height="13" fill="#a06070" stroke="none" stroke-width="1" opacity="0.4"/>
<rect x="247.5" y="89.5" width="13" height="13" fill="#a06070" stroke="none" stroke-width="1" opacity="0.4"/>
<rect x="264" y="82" width="13" height="13" fill="#a06070" stroke="none" stroke-width="1" opacity="0.4"/>
<rect x="232.5" y="95.5" width="13" height="13" fill="#a06070" stroke="none" stroke-width="1" opacity="0.4"/>
<rect x="277.5" y="95.5" width="13" height="13" fill="#a06070" stroke="none" stroke-width="1" opacity="0.4"/>
<rect x="246" y="112" width="13" height="13" fill="#a06070" stroke="none" stroke-width="1" opacity="0.4"/>
<rect x="261" y="107.5" width="13" height="13" fill="#a06070" stroke="none" stroke-width="1" opacity="0.4"/>
<rect x="231" y="115" width="13" height="13" fill="#a06070" stroke="none" stroke-width="1" opacity="0.4"/>
<rect x="306.1" y="103" width="13" height="13" fill="#a06070" stroke="none" stroke-width="1" opacity="0.4"/>
<rect x="295" y="108.4" width="14" height="12" fill="#6a2050" stroke="none" stroke-width="1" opacity="0.45"/>
<rect x="325.2" y="90.2" width="14" height="12" fill="#6a2050" stroke="none" stroke-width="1" opacity="0.45"/>
<circle cx="213.5" cy="96" r="4.2" fill="#34080f" stroke="#b07040" stroke-width="0.9" stroke-dasharray="1.2,0.8" opacity="0.85"/>
<circle cx="228.5" cy="87" r="4.2" fill="#34080f" stroke="#b07040" stroke-width="0.9" stroke-dasharray="1.2,0.8" opacity="0.85"/>
<circle cx="254" cy="96" r="4.2" fill="#34080f" stroke="#b07040" stroke-width="0.9" stroke-dasharray="1.2,0.8" opacity="0.85"/>
<circle cx="270.5" cy="88.5" r="4.2" fill="#34080f" stroke="#b07040" stroke-width="0.9" stroke-dasharray="1.2,0.8" opacity="0.85"/>
<circle cx="239" cy="102" r="4.2" fill="#34080f" stroke="#b07040" stroke-width="0.9" stroke-dasharray="1.2,0.8" opacity="0.85"/>
<circle cx="284" cy="102" r="4.2" fill="#34080f" stroke="#b07040" stroke-width="0.9" stroke-dasharray="1.2,0.8" opacity="0.85"/>
<circle cx="252.5" cy="118.5" r="4.2" fill="#34080f" stroke="#b07040" stroke-width="0.9" stroke-dasharray="1.2,0.8" opacity="0.85"/>
<circle cx="267.5" cy="114" r="4.2" fill="#34080f" stroke="#b07040" stroke-width="0.9" stroke-dasharray="1.2,0.8" opacity="0.85"/>
<circle cx="237.5" cy="121.5" r="4.2" fill="#34080f" stroke="#b07040" stroke-width="0.9" stroke-dasharray="1.2,0.8" opacity="0.85"/>
<circle cx="312.6" cy="109.5" r="4.2" fill="#34080f" stroke="#b07040" stroke-width="0.9" stroke-dasharray="1.2,0.8" opacity="0.85"/>
<circle cx="335.2" cy="84.9" r="3" fill="url(#ballO)" stroke="none" stroke-width="0.5" />
<circle cx="322.7" cy="90.9" r="3" fill="url(#ballO)" stroke="none" stroke-width="0.5" />
<circle cx="311" cy="97.7" r="3" fill="url(#ballO)" stroke="none" stroke-width="0.5" />
<circle cx="301.2" cy="103" r="3" fill="url(#ballO)" stroke="none" stroke-width="0.5" />
<circle cx="291.3" cy="109" r="3" fill="url(#ballO)" stroke="none" stroke-width="0.5" />
<circle cx="334.5" cy="106.8" r="3" fill="url(#ballO)" stroke="none" stroke-width="0.5" />
<circle cx="325.4" cy="112.8" r="3" fill="url(#ballO)" stroke="none" stroke-width="0.5" />
<circle cx="343.5" cy="100.7" r="3" fill="url(#ballO)" stroke="none" stroke-width="0.5" />
<circle cx="316.3" cy="119.7" r="3" fill="url(#ballO)" stroke="none" stroke-width="0.5" />
<circle cx="307.2" cy="125" r="3" fill="url(#ballO)" stroke="none" stroke-width="0.5" />
<circle cx="302" cy="114.4" r="4.6" fill="url(#ballMn)" stroke="none" stroke-width="0.5" />
<circle cx="332.2" cy="96.2" r="4.6" fill="url(#ballMn)" stroke="none" stroke-width="0.5" />
<circle cx="323.1" cy="103" r="3.6" fill="url(#ballAl)" stroke="none" stroke-width="0.5" />
<rect x="204" y="72.5" width="14" height="16.5" fill="#ffffff" stroke="none" stroke-width="1" />
<polygon points="204,72.5 212,72.5 204,77" fill="#a0f0f0"/>
<line x1="205" y1="76" x2="212" y2="73" stroke="#ff80c0" stroke-width="1" />
<text x="206.5" y="86" font-family='"Liberation Serif",serif' font-size="15" font-weight="bold" fill="#000" text-anchor="start" >c</text>
<rect x="399.5" y="8" width="139.1" height="111" fill="none" stroke="#000" stroke-width="1.2" />
<line x1="397" y1="109.6" x2="399.5" y2="109.6" stroke="#000" stroke-width="1" />
<text x="395.5" y="112.4" font-family='"Liberation Sans",sans-serif' font-size="7.8" font-weight="bold" fill="#000" text-anchor="end" >30</text>
<line x1="397" y1="91" x2="399.5" y2="91" stroke="#000" stroke-width="1" />
<text x="395.5" y="93.8" font-family='"Liberation Sans",sans-serif' font-size="7.8" font-weight="bold" fill="#000" text-anchor="end" >40</text>
<line x1="397" y1="72.4" x2="399.5" y2="72.4" stroke="#000" stroke-width="1" />
<text x="395.5" y="75.2" font-family='"Liberation Sans",sans-serif' font-size="7.8" font-weight="bold" fill="#000" text-anchor="end" >50</text>
<line x1="397" y1="53.9" x2="399.5" y2="53.9" stroke="#000" stroke-width="1" />
<text x="395.5" y="56.7" font-family='"Liberation Sans",sans-serif' font-size="7.8" font-weight="bold" fill="#000" text-anchor="end" >60</text>
<line x1="397" y1="35.3" x2="399.5" y2="35.3" stroke="#000" stroke-width="1" />
<text x="395.5" y="38.1" font-family='"Liberation Sans",sans-serif' font-size="7.8" font-weight="bold" fill="#000" text-anchor="end" >70</text>
<line x1="397" y1="16.7" x2="399.5" y2="16.7" stroke="#000" stroke-width="1" />
<text x="395.5" y="19.5" font-family='"Liberation Sans",sans-serif' font-size="7.8" font-weight="bold" fill="#000" text-anchor="end" >80</text>
<line x1="398" y1="100.3" x2="399.5" y2="100.3" stroke="#000" stroke-width="0.8" />
<line x1="398" y1="81.7" x2="399.5" y2="81.7" stroke="#000" stroke-width="0.8" />
<line x1="398" y1="63.1" x2="399.5" y2="63.1" stroke="#000" stroke-width="0.8" />
<line x1="398" y1="44.6" x2="399.5" y2="44.6" stroke="#000" stroke-width="0.8" />
<line x1="398" y1="26" x2="399.5" y2="26" stroke="#000" stroke-width="0.8" />
<line x1="406.7" y1="119" x2="406.7" y2="121.5" stroke="#000" stroke-width="1" />
<text x="406.7" y="128.7" font-family='"Liberation Sans",sans-serif' font-size="7.7" font-weight="bold" fill="#000" text-anchor="middle" >0.24</text>
<line x1="436" y1="119" x2="436" y2="121.5" stroke="#000" stroke-width="1" />
<text x="436" y="128.7" font-family='"Liberation Sans",sans-serif' font-size="7.7" font-weight="bold" fill="#000" text-anchor="middle" >0.28</text>
<line x1="465.3" y1="119" x2="465.3" y2="121.5" stroke="#000" stroke-width="1" />
<text x="465.3" y="128.7" font-family='"Liberation Sans",sans-serif' font-size="7.7" font-weight="bold" fill="#000" text-anchor="middle" >0.32</text>
<line x1="494.6" y1="119" x2="494.6" y2="121.5" stroke="#000" stroke-width="1" />
<text x="494.6" y="128.7" font-family='"Liberation Sans",sans-serif' font-size="7.7" font-weight="bold" fill="#000" text-anchor="middle" >0.36</text>
<line x1="523.9" y1="119" x2="523.9" y2="121.5" stroke="#000" stroke-width="1" />
<text x="523.9" y="128.7" font-family='"Liberation Sans",sans-serif' font-size="7.7" font-weight="bold" fill="#000" text-anchor="middle" >0.40</text>
<line x1="421.4" y1="119" x2="421.4" y2="120.7" stroke="#000" stroke-width="0.8" />
<line x1="450.6" y1="119" x2="450.6" y2="120.7" stroke="#000" stroke-width="0.8" />
<line x1="480" y1="119" x2="480" y2="120.7" stroke="#000" stroke-width="0.8" />
<line x1="509.2" y1="119" x2="509.2" y2="120.7" stroke="#000" stroke-width="0.8" />
<polyline points="411.8,109 430.1,99 450.6,86.4 472.6,70.6 496.1,52.9 523.9,32.5" fill="none" stroke="#ffe2ee" stroke-width="7" stroke-linejoin="round" />
<polyline points="411.8,104 430.1,92.9 450.6,78.9 472.6,61.3 496.1,39.9 523.9,15.8" fill="none" stroke="#000" stroke-width="1.2" stroke-linejoin="round" />
<polyline points="411.8,109 430.1,99 450.6,86.4 472.6,70.6 496.1,52.9 523.9,32.5" fill="none" stroke="#b0502a" stroke-width="1.2" stroke-linejoin="round" />
<rect x="409.8" y="102" width="4" height="4" fill="#000" stroke="none" stroke-width="1" />
<rect x="428.1" y="90.9" width="4" height="4" fill="#000" stroke="none" stroke-width="1" />
<rect x="448.6" y="76.9" width="4" height="4" fill="#000" stroke="none" stroke-width="1" />
<rect x="470.6" y="59.3" width="4" height="4" fill="#000" stroke="none" stroke-width="1" />
<rect x="494.1" y="37.9" width="4" height="4" fill="#000" stroke="none" stroke-width="1" />
<rect x="521.9" y="13.8" width="4" height="4" fill="#000" stroke="none" stroke-width="1" />
<circle cx="411.8" cy="109" r="2.2" fill="#a0522d" stroke="none" stroke-width="0.5" />
<circle cx="430.1" cy="99" r="2.2" fill="#a0522d" stroke="none" stroke-width="0.5" />
<circle cx="450.6" cy="86.4" r="2.2" fill="#a0522d" stroke="none" stroke-width="0.5" />
<circle cx="472.6" cy="70.6" r="2.2" fill="#a0522d" stroke="none" stroke-width="0.5" />
<circle cx="496.1" cy="52.9" r="2.2" fill="#a0522d" stroke="none" stroke-width="0.5" />
<circle cx="523.9" cy="32.5" r="2.2" fill="#a0522d" stroke="none" stroke-width="0.5" />
<rect x="415.8" y="23.7" width="16.7" height="7.3" fill="#ffe0f0" stroke="none" stroke-width="1" />
<line x1="419.6" y1="25.8" x2="432.5" y2="25.8" stroke="#b0502a" stroke-width="1.4" />
<text x="438.4" y="28.4" font-family='"Liberation Serif",serif' font-size="8.4" font-weight="normal" fill="#333" text-anchor="start" >Zn-Mn<tspan font-size="5" dy="1.5">3</tspan><tspan dy="-1.5">O</tspan><tspan font-size="5" dy="1.5">4</tspan></text>
<line x1="419.6" y1="40.8" x2="432.5" y2="40.8" stroke="#000" stroke-width="1.4" />
<text x="438.4" y="42.9" font-family='"Liberation Serif",serif' font-size="8.4" font-weight="normal" fill="#333" text-anchor="start" >MnO<tspan font-size="5" dy="1.5">2</tspan></text>
<text x="0" y="0" font-family='"Liberation Sans",sans-serif' font-size="8.8" font-weight="bold" fill="#000" text-anchor="middle" transform="translate(382.4,67.5) rotate(-90)">Z' (ohm)</text>
<text x="455.8" y="139.5" font-family='"Liberation Sans",sans-serif' font-size="10.5" font-weight="bold" fill="#000" text-anchor="start" >&#969;<tspan font-size="8.2" dy="-3.2">&#8722;1/2</tspan></text>
<text x="372" y="22" font-family='"Liberation Serif",serif' font-size="14" font-weight="bold" fill="#000" text-anchor="start" >d</text>
<rect x="210.2" y="153.2" width="151.8" height="115.3" fill="none" stroke="#000" stroke-width="1.1" />
<line x1="207.8" y1="268.3" x2="210.2" y2="268.3" stroke="#000" stroke-width="0.9" />
<text x="206.8" y="270.3" font-family='"Liberation Serif",serif' font-size="5.5" font-weight="bold" fill="#000" text-anchor="end" >0</text>
<line x1="207.8" y1="245.2" x2="210.2" y2="245.2" stroke="#000" stroke-width="0.9" />
<text x="206.8" y="247.2" font-family='"Liberation Serif",serif' font-size="5.5" font-weight="bold" fill="#000" text-anchor="end" >100</text>
<line x1="207.8" y1="222.2" x2="210.2" y2="222.2" stroke="#000" stroke-width="0.9" />
<text x="206.8" y="224.2" font-family='"Liberation Serif",serif' font-size="5.5" font-weight="bold" fill="#000" text-anchor="end" >200</text>
<line x1="207.8" y1="199.1" x2="210.2" y2="199.1" stroke="#000" stroke-width="0.9" />
<text x="206.8" y="201.1" font-family='"Liberation Serif",serif' font-size="5.5" font-weight="bold" fill="#000" text-anchor="end" >300</text>
<line x1="207.8" y1="176.1" x2="210.2" y2="176.1" stroke="#000" stroke-width="0.9" />
<text x="206.8" y="178.1" font-family='"Liberation Serif",serif' font-size="5.5" font-weight="bold" fill="#000" text-anchor="end" >400</text>
<line x1="207.8" y1="153" x2="210.2" y2="153" stroke="#000" stroke-width="0.9" />
<text x="206.8" y="155" font-family='"Liberation Serif",serif' font-size="5.5" font-weight="bold" fill="#000" text-anchor="end" >500</text>
<line x1="211.2" y1="268.5" x2="211.2" y2="270.8" stroke="#000" stroke-width="0.9" />
<text x="211.2" y="276" font-family='"Liberation Serif",serif' font-size="5.8" font-weight="bold" fill="#000" text-anchor="middle" >0</text>
<line x1="240.7" y1="268.5" x2="240.7" y2="270.8" stroke="#000" stroke-width="0.9" />
<text x="240.7" y="276" font-family='"Liberation Serif",serif' font-size="5.8" font-weight="bold" fill="#000" text-anchor="middle" >50</text>
<line x1="270.2" y1="268.5" x2="270.2" y2="270.8" stroke="#000" stroke-width="0.9" />
<text x="270.2" y="276" font-family='"Liberation Serif",serif' font-size="5.8" font-weight="bold" fill="#000" text-anchor="middle" >100</text>
<line x1="299.7" y1="268.5" x2="299.7" y2="270.8" stroke="#000" stroke-width="0.9" />
<text x="299.7" y="276" font-family='"Liberation Serif",serif' font-size="5.8" font-weight="bold" fill="#000" text-anchor="middle" >150</text>
<line x1="329.2" y1="268.5" x2="329.2" y2="270.8" stroke="#000" stroke-width="0.9" />
<text x="329.2" y="276" font-family='"Liberation Serif",serif' font-size="5.8" font-weight="bold" fill="#000" text-anchor="middle" >200</text>
<line x1="358.7" y1="268.5" x2="358.7" y2="270.8" stroke="#000" stroke-width="0.9" />
<text x="358.7" y="276" font-family='"Liberation Serif",serif' font-size="5.8" font-weight="bold" fill="#000" text-anchor="middle" >250</text>
<line x1="225.9" y1="268.5" x2="225.9" y2="270" stroke="#000" stroke-width="0.7" />
<line x1="255.4" y1="268.5" x2="255.4" y2="270" stroke="#000" stroke-width="0.7" />
<line x1="284.9" y1="268.5" x2="284.9" y2="270" stroke="#000" stroke-width="0.7" />
<line x1="314.4" y1="268.5" x2="314.4" y2="270" stroke="#000" stroke-width="0.7" />
<line x1="343.9" y1="268.5" x2="343.9" y2="270" stroke="#000" stroke-width="0.7" />
<rect x="205" y="184" width="20" height="13.6" fill="#ffe4ec" stroke="none" stroke-width="1" />
<rect x="288" y="191.8" width="74" height="16" fill="#ffe4ec" stroke="none" stroke-width="1" />
<polyline points="211.2,192.2 212.4,191.7 213.6,191.6 214.7,191.2 215.9,190.9 217.1,191.2 218.3,191 219.5,190 220.6,190.3 221.8,190.1 223,189.6 224.2,190.3 225.4,190.1 226.5,190.6 227.7,190.7 228.9,191.3 230.1,191 231.3,191 232.4,191.5 233.6,191.5 234.8,191.7 236,192.5 237.2,192 238.3,192.3 239.5,192.8 240.7,193.2 241.9,192.6 243.1,193.2 244.2,193.1 245.4,193.1 246.6,193.5 247.8,193.5 249,194.1 250.1,193.9 251.3,194.4 252.5,194.2 253.7,194.4 254.9,195.3 256,195.4 257.2,195.6 258.4,195 259.6,195.7 260.8,195.7 261.9,196.2 263.1,196.2 264.3,196.5 265.5,196.7 266.7,196.7 267.8,196.8 269,196.7 270.2,198.7 271.4,196.9 272.6,197 273.7,197 274.9,197.3 276.1,197.8 277.3,197.2 278.5,197.1 279.6,197.2 280.8,197.6 282,197.5 283.2,198 284.4,197.5 285.5,197.8 286.7,198.1 287.9,198.3 289.1,197.6 290.3,197.6 291.4,198.4 292.6,197.8 293.8,198.2 295,198.5 296.2,198.4 297.3,198 298.5,198 299.7,198.8 300.9,198.3 302.1,198.9 303.2,198.3 304.4,198.7 305.6,199.8 306.8,198.2 308,198.6 309.1,198.2 310.3,198.9 311.5,199.2 312.7,198.7 313.9,199.3 315,200.8 316.2,199 317.4,198.9 318.6,199.4 319.8,199.5 320.9,198.8 322.1,199.3 323.3,198.8 324.5,198.9 325.7,199.4 326.8,199.4 328,199.4 329.2,199.3 330.4,199.4 331.6,199.5 332.7,199.4 333.9,199.2 335.1,199.6 336.3,199.7 337.5,199.5 338.6,200 339.8,200 341,199.4 342.2,199.9 343.4,199.9 344.5,200.4 345.7,200.1 346.9,200 348.1,200.5 349.3,200 350.4,200.1 351.6,200.6 352.8,200.2 354,200.4 355.2,200.2 356.3,200.5 357.5,200.3 358.7,200.3" fill="none" stroke="#ffd8e0" stroke-width="6" stroke-linejoin="round" />
<polyline points="211.2,192.2 212.4,191.7 213.6,191.6 214.7,191.2 215.9,190.9 217.1,191.2 218.3,191 219.5,190 220.6,190.3 221.8,190.1 223,189.6 224.2,190.3 225.4,190.1 226.5,190.6 227.7,190.7 228.9,191.3 230.1,191 231.3,191 232.4,191.5 233.6,191.5 234.8,191.7 236,192.5 237.2,192 238.3,192.3 239.5,192.8 240.7,193.2 241.9,192.6 243.1,193.2 244.2,193.1 245.4,193.1 246.6,193.5 247.8,193.5 249,194.1 250.1,193.9 251.3,194.4 252.5,194.2 253.7,194.4 254.9,195.3 256,195.4 257.2,195.6 258.4,195 259.6,195.7 260.8,195.7 261.9,196.2 263.1,196.2 264.3,196.5 265.5,196.7 266.7,196.7 267.8,196.8 269,196.7 270.2,198.7 271.4,196.9 272.6,197 273.7,197 274.9,197.3 276.1,197.8 277.3,197.2 278.5,197.1 279.6,197.2 280.8,197.6 282,197.5 283.2,198 284.4,197.5 285.5,197.8 286.7,198.1 287.9,198.3 289.1,197.6 290.3,197.6 291.4,198.4 292.6,197.8 293.8,198.2 295,198.5 296.2,198.4 297.3,198 298.5,198 299.7,198.8 300.9,198.3 302.1,198.9 303.2,198.3 304.4,198.7 305.6,199.8 306.8,198.2 308,198.6 309.1,198.2 310.3,198.9 311.5,199.2 312.7,198.7 313.9,199.3 315,200.8 316.2,199 317.4,198.9 318.6,199.4 319.8,199.5 320.9,198.8 322.1,199.3 323.3,198.8 324.5,198.9 325.7,199.4 326.8,199.4 328,199.4 329.2,199.3 330.4,199.4 331.6,199.5 332.7,199.4 333.9,199.2 335.1,199.6 336.3,199.7 337.5,199.5 338.6,200 339.8,200 341,199.4 342.2,199.9 343.4,199.9 344.5,200.4 345.7,200.1 346.9,200 348.1,200.5 349.3,200 350.4,200.1 351.6,200.6 352.8,200.2 354,200.4 355.2,200.2 356.3,200.5 357.5,200.3 358.7,200.3" fill="none" stroke="#d05a3a" stroke-width="3.0" stroke-linejoin="round" />
<polyline points="211.2,192.2 212.4,191.7 213.6,191.6 214.7,191.2 215.9,190.9 217.1,191.2 218.3,191 219.5,190 220.6,190.3 221.8,190.1 223,189.6 224.2,190.3 225.4,190.1 226.5,190.6 227.7,190.7 228.9,191.3 230.1,191 231.3,191 232.4,191.5 233.6,191.5 234.8,191.7 236,192.5 237.2,192 238.3,192.3 239.5,192.8 240.7,193.2 241.9,192.6 243.1,193.2 244.2,193.1 245.4,193.1 246.6,193.5 247.8,193.5 249,194.1 250.1,193.9 251.3,194.4 252.5,194.2 253.7,194.4 254.9,195.3 256,195.4 257.2,195.6 258.4,195 259.6,195.7 260.8,195.7 261.9,196.2 263.1,196.2 264.3,196.5 265.5,196.7 266.7,196.7 267.8,196.8 269,196.7 270.2,198.7 271.4,196.9 272.6,197 273.7,197 274.9,197.3 276.1,197.8 277.3,197.2 278.5,197.1 279.6,197.2 280.8,197.6 282,197.5 283.2,198 284.4,197.5 285.5,197.8 286.7,198.1 287.9,198.3 289.1,197.6 290.3,197.6 291.4,198.4 292.6,197.8 293.8,198.2 295,198.5 296.2,198.4 297.3,198 298.5,198 299.7,198.8 300.9,198.3 302.1,198.9 303.2,198.3 304.4,198.7 305.6,199.8 306.8,198.2 308,198.6 309.1,198.2 310.3,198.9 311.5,199.2 312.7,198.7 313.9,199.3 315,200.8 316.2,199 317.4,198.9 318.6,199.4 319.8,199.5 320.9,198.8 322.1,199.3 323.3,198.8 324.5,198.9 325.7,199.4 326.8,199.4 328,199.4 329.2,199.3 330.4,199.4 331.6,199.5 332.7,199.4 333.9,199.2 335.1,199.6 336.3,199.7 337.5,199.5 338.6,200 339.8,200 341,199.4 342.2,199.9 343.4,199.9 344.5,200.4 345.7,200.1 346.9,200 348.1,200.5 349.3,200 350.4,200.1 351.6,200.6 352.8,200.2 354,200.4 355.2,200.2 356.3,200.5 357.5,200.3 358.7,200.3" fill="none" stroke="#8a7030" stroke-width="1.0" stroke-linejoin="round" opacity="0.7"/>
<text x="213.9" y="167.1" font-family='"Liberation Serif",serif' font-size="6.8" font-weight="bold" fill="#000" text-anchor="start" textLength="41.4" lengthAdjust="spacingAndGlyphs">Cu-Mn<tspan font-size="4.6" dy="1.3">3</tspan><tspan dy="-1.3">O</tspan><tspan font-size="4.6" dy="1.3">4</tspan><tspan dy="-1.3">/CNA</tspan></text>
<text x="273.3" y="186.5" font-family='"Liberation Serif",serif' font-size="6.2" font-weight="bold" fill="#000" text-anchor="start" >0.2 A g<tspan font-size="4.5" dy="-2.5">-1</tspan></text>
<circle cx="224.4" cy="243" r="1.6" fill="none" stroke="#a08050" stroke-width="0.6" />
<text x="232" y="245.5" font-family='"Liberation Serif",serif' font-size="7" font-weight="normal" fill="#808080" text-anchor="start" >Charge</text>
<rect x="218" y="246.5" width="40" height="9" fill="#fff0f3" stroke="none" stroke-width="1" />
<circle cx="224.4" cy="251.3" r="1.7" fill="#706020" stroke="none" stroke-width="0.5" />
<text x="232" y="253.8" font-family='"Liberation Serif",serif' font-size="7" font-weight="normal" fill="#d03020" text-anchor="start" >Discharge</text>
<text x="0" y="0" font-family='"Liberation Serif",serif' font-size="7.2" font-weight="bold" fill="#000" text-anchor="middle" transform="translate(198,217) rotate(-90)" textLength="79" lengthAdjust="spacingAndGlyphs">Specific capacity (mAh g<tspan font-size="4.5" dy="-2.5">-1</tspan><tspan dy="2.5">)</tspan></text>
<text x="293" y="283" font-family='"Liberation Serif",serif' font-size="8" font-weight="bold" fill="#000" text-anchor="middle" textLength="60" lengthAdjust="spacingAndGlyphs">Cycle number (n)</text>
<text x="188.5" y="162" font-family='"Liberation Serif",serif' font-size="14" font-weight="bold" fill="#000" text-anchor="start" >f</text>
<rect x="393.7" y="153" width="146" height="109" fill="none" stroke="#000" stroke-width="1.1" />
<line x1="391.5" y1="156.9" x2="393.7" y2="156.9" stroke="#000" stroke-width="0.9" />
<text x="390.8" y="159.3" font-family='"Liberation Sans",sans-serif' font-size="5.2" font-weight="bold" fill="#222" text-anchor="end" >10<tspan font-size="3.6" dy="-2.6">-8</tspan></text>
<line x1="391.5" y1="172.5" x2="393.7" y2="172.5" stroke="#000" stroke-width="0.9" />
<text x="390.8" y="174.9" font-family='"Liberation Sans",sans-serif' font-size="5.2" font-weight="bold" fill="#222" text-anchor="end" >10<tspan font-size="3.6" dy="-2.6">-9</tspan></text>
<line x1="391.5" y1="188.1" x2="393.7" y2="188.1" stroke="#000" stroke-width="0.9" />
<text x="390.8" y="190.5" font-family='"Liberation Sans",sans-serif' font-size="5.2" font-weight="bold" fill="#222" text-anchor="end" >10<tspan font-size="3.6" dy="-2.6">-10</tspan></text>
<line x1="391.5" y1="203.6" x2="393.7" y2="203.6" stroke="#000" stroke-width="0.9" />
<text x="390.8" y="206" font-family='"Liberation Sans",sans-serif' font-size="5.2" font-weight="bold" fill="#222" text-anchor="end" >10<tspan font-size="3.6" dy="-2.6">-11</tspan></text>
<line x1="391.5" y1="219.2" x2="393.7" y2="219.2" stroke="#000" stroke-width="0.9" />
<text x="390.8" y="221.6" font-family='"Liberation Sans",sans-serif' font-size="5.2" font-weight="bold" fill="#222" text-anchor="end" >10<tspan font-size="3.6" dy="-2.6">-12</tspan></text>
<line x1="391.5" y1="234.8" x2="393.7" y2="234.8" stroke="#000" stroke-width="0.9" />
<text x="390.8" y="237.2" font-family='"Liberation Sans",sans-serif' font-size="5.2" font-weight="bold" fill="#222" text-anchor="end" >10<tspan font-size="3.6" dy="-2.6">-13</tspan></text>
<line x1="391.5" y1="250.3" x2="393.7" y2="250.3" stroke="#000" stroke-width="0.9" />
<text x="390.8" y="252.7" font-family='"Liberation Sans",sans-serif' font-size="5.2" font-weight="bold" fill="#222" text-anchor="end" >10<tspan font-size="3.6" dy="-2.6">-14</tspan></text>
<line x1="418.4" y1="262" x2="418.4" y2="264.3" stroke="#000" stroke-width="0.9" />
<text x="418.4" y="270.6" font-family='"Liberation Sans",sans-serif' font-size="5.6" font-weight="bold" fill="#000" text-anchor="middle" >20</text>
<line x1="447.9" y1="262" x2="447.9" y2="264.3" stroke="#000" stroke-width="0.9" />
<text x="447.9" y="270.6" font-family='"Liberation Sans",sans-serif' font-size="5.6" font-weight="bold" fill="#000" text-anchor="middle" >40</text>
<line x1="477.4" y1="262" x2="477.4" y2="264.3" stroke="#000" stroke-width="0.9" />
<text x="477.4" y="270.6" font-family='"Liberation Sans",sans-serif' font-size="5.6" font-weight="bold" fill="#000" text-anchor="middle" >60</text>
<line x1="506.9" y1="262" x2="506.9" y2="264.3" stroke="#000" stroke-width="0.9" />
<text x="506.9" y="270.6" font-family='"Liberation Sans",sans-serif' font-size="5.6" font-weight="bold" fill="#000" text-anchor="middle" >80</text>
<line x1="536.4" y1="262" x2="536.4" y2="264.3" stroke="#000" stroke-width="0.9" />
<text x="536.4" y="270.6" font-family='"Liberation Sans",sans-serif' font-size="5.6" font-weight="bold" fill="#000" text-anchor="middle" >100</text>
<line x1="403.6" y1="262" x2="403.6" y2="263.5" stroke="#000" stroke-width="0.7" />
<line x1="433.1" y1="262" x2="433.1" y2="263.5" stroke="#000" stroke-width="0.7" />
<line x1="462.6" y1="262" x2="462.6" y2="263.5" stroke="#000" stroke-width="0.7" />
<line x1="492.1" y1="262" x2="492.1" y2="263.5" stroke="#000" stroke-width="0.7" />
<line x1="521.6" y1="262" x2="521.6" y2="263.5" stroke="#000" stroke-width="0.7" />
<rect x="396" y="186" width="16" height="14" fill="#fff0f4" stroke="none" stroke-width="1" />
<rect x="408" y="198" width="16" height="14" fill="#fff0f4" stroke="none" stroke-width="1" />
<rect x="418" y="212" width="40" height="10" fill="#fff2f6" stroke="none" stroke-width="1" />
<rect x="445" y="205" width="24" height="12" fill="#fff2f6" stroke="none" stroke-width="1" />
<rect x="400" y="228" width="14" height="18" fill="#e8fafa" stroke="none" stroke-width="1" />
<rect x="414" y="232" width="50" height="12" fill="#e6fafa" stroke="none" stroke-width="1" />
<rect x="518" y="190" width="18" height="10" fill="#e6fafa" stroke="none" stroke-width="1" />
<rect x="468" y="238" width="16" height="12" fill="#fff0f4" stroke="none" stroke-width="1" />
<rect x="524" y="228" width="14" height="14" fill="#fff0f4" stroke="none" stroke-width="1" />
<rect x="480" y="214" width="30" height="14" fill="#f4fafa" stroke="none" stroke-width="1" />
<polyline points="398.8,184 403.8,189.5 408.9,193.8 413.5,199.3 418.4,208.4 423.6,213.6 428.5,218.2 433.5,218.5 438.3,218.5 443.2,217.6 448,216.3 452.9,213.9 457.9,211.6 463,209.4 467.8,209 472.3,228.1 477.5,245.1 482.4,229.9 487,224.6 492.2,220.7 497.1,217.2 502.1,215.8 507.2,219.1 512.3,222.2 517.3,223.5 522.2,224 527,225.9 532,234.7 536.6,190.1 537.2,225.7" fill="none" stroke="#b08078" stroke-width="0.8" stroke-linejoin="round" />
<polyline points="397.3,219.1 401.4,224.6 406.1,231.9 410.2,236.9 414.4,238.3 418.8,239.6 423,237.8 427.6,234.5 431.3,231 435.5,230.5 439.9,230.5 444.1,230.8 448.3,232.3 452.8,233.2 457,234.5 461.2,236 465.2,236 469,236.3 473.3,235 477.5,231 482.1,227.3 486.7,224 490.7,219.4 494.7,220 498.6,221.3 503,222.6 507.2,222.6 511.8,223.5 515.8,225.9 519.7,228.1 523.7,197.8 528.3,197.8 532.5,197.8 536.9,193.8" fill="none" stroke="#7090e0" stroke-width="0.8" stroke-linejoin="round" />
<circle cx="398.8" cy="184" r="2.1" fill="#b08280" stroke="#7a5a58" stroke-width="0.4" />
<circle cx="403.8" cy="189.5" r="2.1" fill="#b08280" stroke="#7a5a58" stroke-width="0.4" />
<circle cx="408.9" cy="193.8" r="2.1" fill="#b08280" stroke="#7a5a58" stroke-width="0.4" />
<circle cx="413.5" cy="199.3" r="2.1" fill="#b08280" stroke="#7a5a58" stroke-width="0.4" />
<circle cx="418.4" cy="208.4" r="2.1" fill="#b08280" stroke="#7a5a58" stroke-width="0.4" />
<circle cx="423.6" cy="213.6" r="2.1" fill="#b08280" stroke="#7a5a58" stroke-width="0.4" />
<circle cx="428.5" cy="218.2" r="2.1" fill="#b08280" stroke="#7a5a58" stroke-width="0.4" />
<circle cx="433.5" cy="218.5" r="2.1" fill="#b08280" stroke="#7a5a58" stroke-width="0.4" />
<circle cx="438.3" cy="218.5" r="2.1" fill="#b08280" stroke="#7a5a58" stroke-width="0.4" />
<circle cx="443.2" cy="217.6" r="2.1" fill="#b08280" stroke="#7a5a58" stroke-width="0.4" />
<circle cx="448" cy="216.3" r="2.1" fill="#b08280" stroke="#7a5a58" stroke-width="0.4" />
<circle cx="452.9" cy="213.9" r="2.1" fill="#b08280" stroke="#7a5a58" stroke-width="0.4" />
<circle cx="457.9" cy="211.6" r="2.1" fill="#b08280" stroke="#7a5a58" stroke-width="0.4" />
<circle cx="463" cy="209.4" r="2.1" fill="#b08280" stroke="#7a5a58" stroke-width="0.4" />
<circle cx="467.8" cy="209" r="2.1" fill="#b08280" stroke="#7a5a58" stroke-width="0.4" />
<circle cx="472.3" cy="228.1" r="2.1" fill="#b08280" stroke="#7a5a58" stroke-width="0.4" />
<circle cx="477.5" cy="245.1" r="2.1" fill="#b08280" stroke="#7a5a58" stroke-width="0.4" />
<circle cx="482.4" cy="229.9" r="2.1" fill="#b08280" stroke="#7a5a58" stroke-width="0.4" />
<circle cx="487" cy="224.6" r="2.1" fill="#b08280" stroke="#7a5a58" stroke-width="0.4" />
<circle cx="492.2" cy="220.7" r="2.1" fill="#b08280" stroke="#7a5a58" stroke-width="0.4" />
<circle cx="497.1" cy="217.2" r="2.1" fill="#b08280" stroke="#7a5a58" stroke-width="0.4" />
<circle cx="502.1" cy="215.8" r="2.1" fill="#b08280" stroke="#7a5a58" stroke-width="0.4" />
<circle cx="507.2" cy="219.1" r="2.1" fill="#b08280" stroke="#7a5a58" stroke-width="0.4" />
<circle cx="512.3" cy="222.2" r="2.1" fill="#b08280" stroke="#7a5a58" stroke-width="0.4" />
<circle cx="517.3" cy="223.5" r="2.1" fill="#b08280" stroke="#7a5a58" stroke-width="0.4" />
<circle cx="522.2" cy="224" r="2.1" fill="#b08280" stroke="#7a5a58" stroke-width="0.4" />
<circle cx="527" cy="225.9" r="2.1" fill="#b08280" stroke="#7a5a58" stroke-width="0.4" />
<circle cx="532" cy="234.7" r="2.1" fill="#b08280" stroke="#7a5a58" stroke-width="0.4" />
<circle cx="536.6" cy="190.1" r="2.1" fill="#b08280" stroke="#7a5a58" stroke-width="0.4" />
<circle cx="537.2" cy="225.7" r="2.1" fill="#b08280" stroke="#7a5a58" stroke-width="0.4" />
<circle cx="397.3" cy="219.1" r="2.1" fill="#6a78e4" stroke="#4050c0" stroke-width="0.4" />
<circle cx="401.4" cy="224.6" r="2.1" fill="#6a78e4" stroke="#4050c0" stroke-width="0.4" />
<circle cx="406.1" cy="231.9" r="2.1" fill="#6a78e4" stroke="#4050c0" stroke-width="0.4" />
<circle cx="410.2" cy="236.9" r="2.1" fill="#6a78e4" stroke="#4050c0" stroke-width="0.4" />
<circle cx="414.4" cy="238.3" r="2.1" fill="#6a78e4" stroke="#4050c0" stroke-width="0.4" />
<circle cx="418.8" cy="239.6" r="2.1" fill="#6a78e4" stroke="#4050c0" stroke-width="0.4" />
<circle cx="423" cy="237.8" r="2.1" fill="#6a78e4" stroke="#4050c0" stroke-width="0.4" />
<circle cx="427.6" cy="234.5" r="2.1" fill="#6a78e4" stroke="#4050c0" stroke-width="0.4" />
<circle cx="431.3" cy="231" r="2.1" fill="#6a78e4" stroke="#4050c0" stroke-width="0.4" />
<circle cx="435.5" cy="230.5" r="2.1" fill="#6a78e4" stroke="#4050c0" stroke-width="0.4" />
<circle cx="439.9" cy="230.5" r="2.1" fill="#6a78e4" stroke="#4050c0" stroke-width="0.4" />
<circle cx="444.1" cy="230.8" r="2.1" fill="#6a78e4" stroke="#4050c0" stroke-width="0.4" />
<circle cx="448.3" cy="232.3" r="2.1" fill="#6a78e4" stroke="#4050c0" stroke-width="0.4" />
<circle cx="452.8" cy="233.2" r="2.1" fill="#6a78e4" stroke="#4050c0" stroke-width="0.4" />
<circle cx="457" cy="234.5" r="2.1" fill="#6a78e4" stroke="#4050c0" stroke-width="0.4" />
<circle cx="461.2" cy="236" r="2.1" fill="#6a78e4" stroke="#4050c0" stroke-width="0.4" />
<circle cx="465.2" cy="236" r="2.1" fill="#6a78e4" stroke="#4050c0" stroke-width="0.4" />
<circle cx="469" cy="236.3" r="2.1" fill="#6a78e4" stroke="#4050c0" stroke-width="0.4" />
<circle cx="473.3" cy="235" r="2.1" fill="#6a78e4" stroke="#4050c0" stroke-width="0.4" />
<circle cx="477.5" cy="231" r="2.1" fill="#6a78e4" stroke="#4050c0" stroke-width="0.4" />
<circle cx="482.1" cy="227.3" r="2.1" fill="#6a78e4" stroke="#4050c0" stroke-width="0.4" />
<circle cx="486.7" cy="224" r="2.1" fill="#6a78e4" stroke="#4050c0" stroke-width="0.4" />
<circle cx="490.7" cy="219.4" r="2.1" fill="#6a78e4" stroke="#4050c0" stroke-width="0.4" />
<circle cx="494.7" cy="220" r="2.1" fill="#6a78e4" stroke="#4050c0" stroke-width="0.4" />
<circle cx="498.6" cy="221.3" r="2.1" fill="#6a78e4" stroke="#4050c0" stroke-width="0.4" />
<circle cx="503" cy="222.6" r="2.1" fill="#6a78e4" stroke="#4050c0" stroke-width="0.4" />
<circle cx="507.2" cy="222.6" r="2.1" fill="#6a78e4" stroke="#4050c0" stroke-width="0.4" />
<circle cx="511.8" cy="223.5" r="2.1" fill="#6a78e4" stroke="#4050c0" stroke-width="0.4" />
<circle cx="515.8" cy="225.9" r="2.1" fill="#6a78e4" stroke="#4050c0" stroke-width="0.4" />
<circle cx="519.7" cy="228.1" r="2.1" fill="#6a78e4" stroke="#4050c0" stroke-width="0.4" />
<circle cx="523.7" cy="197.8" r="2.1" fill="#6a78e4" stroke="#4050c0" stroke-width="0.4" />
<circle cx="528.3" cy="197.8" r="2.1" fill="#6a78e4" stroke="#4050c0" stroke-width="0.4" />
<circle cx="532.5" cy="197.8" r="2.1" fill="#6a78e4" stroke="#4050c0" stroke-width="0.4" />
<circle cx="536.9" cy="193.8" r="2.1" fill="#6a78e4" stroke="#4050c0" stroke-width="0.4" />
<line x1="488.9" y1="158" x2="506" y2="158" stroke="#7090e0" stroke-width="0.8" />
<circle cx="498.8" cy="158" r="1.9" fill="#5070e0" stroke="none" stroke-width="0.5" />
<line x1="488.9" y1="166.9" x2="506" y2="166.9" stroke="#b08078" stroke-width="0.8" />
<circle cx="498.8" cy="166.9" r="1.9" fill="#a07070" stroke="none" stroke-width="0.5" />
<text x="508.3" y="160.6" font-family='"Liberation Sans",sans-serif' font-size="7" font-weight="bold" fill="#000" text-anchor="start" textLength="23.2" lengthAdjust="spacingAndGlyphs">Charge</text>
<text x="508.3" y="169.5" font-family='"Liberation Sans",sans-serif' font-size="7" font-weight="bold" fill="#000" text-anchor="start" textLength="28.3" lengthAdjust="spacingAndGlyphs">Disharge</text>
<text x="420.7" y="167" font-family='"Liberation Sans",sans-serif' font-size="6.5" font-weight="bold" fill="#000" text-anchor="start" >Cu-Mn<tspan font-size="4.5" dy="1.5">3</tspan><tspan dy="-1.5">O</tspan><tspan font-size="4.5" dy="1.5">4</tspan></text>
<text x="0" y="0" font-family='"Liberation Sans",sans-serif' font-size="8.9" font-weight="bold" fill="#000" text-anchor="middle" transform="translate(379.3,206.8) rotate(-90)" textLength="43.6" lengthAdjust="spacingAndGlyphs">D<tspan font-size="5" dy="1.8">Zn</tspan><tspan dy="-1.8"> (cm</tspan><tspan font-size="5.5" dy="-3.2">2</tspan><tspan dy="3.2">s</tspan><tspan font-size="5.5" dy="-3.2">-1</tspan><tspan dy="3.2">)</tspan></text>
<text x="399" y="281" font-family='"Liberation Sans",sans-serif' font-size="9.5" font-weight="bold" fill="#000" text-anchor="start" textLength="134.7" lengthAdjust="spacingAndGlyphs">Zn<tspan font-size="6" dy="-3.8">2+</tspan><tspan dy="3.8"> insertion/extraction state (%)</tspan></text>
<text x="372.2" y="161.3" font-family='"Liberation Serif",serif' font-size="14.5" font-weight="bold" fill="#000" text-anchor="start" >g</text>
<rect x="32.8" y="297" width="141.8" height="109.6" fill="none" stroke="#000" stroke-width="1.1" />
<line x1="30.5" y1="406.6" x2="32.8" y2="406.6" stroke="#000" stroke-width="0.9" />
<text x="29.5" y="408.4" font-family='"Liberation Sans",sans-serif' font-size="5.2" font-weight="bold" fill="#000" text-anchor="end" >0</text>
<line x1="30.5" y1="370" x2="32.8" y2="370" stroke="#000" stroke-width="0.9" />
<text x="29.5" y="371.8" font-family='"Liberation Sans",sans-serif' font-size="5.2" font-weight="bold" fill="#000" text-anchor="end" >200</text>
<line x1="30.5" y1="333.4" x2="32.8" y2="333.4" stroke="#000" stroke-width="0.9" />
<text x="29.5" y="335.2" font-family='"Liberation Sans",sans-serif' font-size="5.2" font-weight="bold" fill="#000" text-anchor="end" >400</text>
<line x1="30.5" y1="296.8" x2="32.8" y2="296.8" stroke="#000" stroke-width="0.9" />
<text x="29.5" y="298.6" font-family='"Liberation Sans",sans-serif' font-size="5.2" font-weight="bold" fill="#000" text-anchor="end" >600</text>
<line x1="31.5" y1="388.3" x2="32.8" y2="388.3" stroke="#000" stroke-width="0.7" />
<line x1="31.5" y1="351.7" x2="32.8" y2="351.7" stroke="#000" stroke-width="0.7" />
<line x1="31.5" y1="315.1" x2="32.8" y2="315.1" stroke="#000" stroke-width="0.7" />
<line x1="33.5" y1="406.6" x2="33.5" y2="408.9" stroke="#000" stroke-width="0.9" />
<text x="33.5" y="415" font-family='"Liberation Sans",sans-serif' font-size="5.5" font-weight="bold" fill="#000" text-anchor="middle" >0</text>
<line x1="80.5" y1="406.6" x2="80.5" y2="408.9" stroke="#000" stroke-width="0.9" />
<text x="80.5" y="415" font-family='"Liberation Sans",sans-serif' font-size="5.5" font-weight="bold" fill="#000" text-anchor="middle" >50</text>
<line x1="127.5" y1="406.6" x2="127.5" y2="408.9" stroke="#000" stroke-width="0.9" />
<text x="127.5" y="415" font-family='"Liberation Sans",sans-serif' font-size="5.5" font-weight="bold" fill="#000" text-anchor="middle" >100</text>
<line x1="174.5" y1="406.6" x2="174.5" y2="408.9" stroke="#000" stroke-width="0.9" />
<text x="174.5" y="415" font-family='"Liberation Sans",sans-serif' font-size="5.5" font-weight="bold" fill="#000" text-anchor="middle" >150</text>
<line x1="57" y1="406.6" x2="57" y2="408" stroke="#000" stroke-width="0.7" />
<line x1="104" y1="406.6" x2="104" y2="408" stroke="#000" stroke-width="0.7" />
<line x1="151" y1="406.6" x2="151" y2="408" stroke="#000" stroke-width="0.7" />
<rect x="40.3" y="352" width="48.5" height="15.5" fill="#fbe6ee" stroke="none" stroke-width="1" />
<rect x="33" y="361" width="8" height="12.7" fill="#fdeef2" stroke="none" stroke-width="1" />
<rect x="88" y="351" width="86" height="14" fill="#fdf2f5" stroke="none" stroke-width="1" />
<rect x="34" y="382" width="21.8" height="9.2" fill="#e4f8f8" stroke="none" stroke-width="1" />
<rect x="55.8" y="375.8" width="39.2" height="8.2" fill="#e8f8f8" stroke="none" stroke-width="1" />
<rect x="95" y="367" width="79" height="10" fill="#eef9fa" stroke="none" stroke-width="1" />
<polyline points="33.5,370.6 34.4,368.1 35.4,366.6 36.3,365.1 37.3,364.1 38.2,362.1 39.1,360 40.1,359.4 41,358.8 42,359 42.9,359.2 43.8,358.7 44.8,357.2 45.7,357.7 46.7,358.8 47.6,358.8 48.5,358.3 49.5,358.5 50.4,357.3 51.4,357.3 52.3,358.9 53.2,359 54.2,359.7 55.1,358.6 56.1,357.9 57,358.1 57.9,359.2 58.9,359.1 59.8,359.4 60.8,358.4 61.7,358.4 62.6,358.8 63.6,359.7 64.5,359.6 65.5,358.7 66.4,358.4 67.3,357.8 68.3,359.4 69.2,360 70.2,360.1 71.1,359.7 72,359 73,359.3 73.9,360.2 74.9,360.5 75.8,360.7 76.7,360.8 77.7,360.5 78.6,360.4 79.6,360.3 80.5,361.3 81.4,362.5 82.4,360.8 83.3,361.4 84.3,362.4 85.2,363.5 86.1,363.3 87.1,362.6 88,361.4 89,361.3 89.9,362.3 90.8,363.3 91.8,362.3 92.7,362.4 93.7,361.8 94.6,362.3 95.5,363.3 96.5,363.6 97.4,364.1 98.4,362.8 99.3,361.9 100.2,362.5 101.2,363.9 102.1,362.9 103.1,363.1 104,362 104.9,361.4 105.9,362.9 106.8,363.5 107.8,363.2 108.7,361.8 109.6,361.8 110.6,361.3 111.5,362.3 112.5,363.1 113.4,363 114.3,361.5 115.3,360.7 116.2,361.3 117.2,362.7 118.1,362.3 119,361.8 120,360.7 120.9,360 121.9,360.5 122.8,361.7 123.7,361.9 124.7,360.5 125.6,360.4 126.6,359.8 127.5,360.9 128.4,360.9 129.4,361.2 130.3,361 131.3,359.6 132.2,360.3 133.1,360.6 134.1,361.1 135,360.6 136,359.4 136.9,359.3 137.8,360 138.8,360.4 139.7,360.8 140.7,359.5 141.6,358.6 142.5,359.3 143.5,359.6 144.4,359.8 145.4,359.9 146.3,359.6 147.2,358.5 148.2,359 149.1,359.2 150.1,359.9 151,358.9 151.9,358.5 152.9,358 153.8,358.1 154.8,358.7 155.7,359.4 156.6,358.5 157.6,357.7 158.5,356.8 159.5,357 160.4,358.2 161.3,357.7 162.3,357 163.2,356.3 164.2,356.3 165.1,356.6 166,357.8 167,357.9 167.9,355.5 168.9,355.4 169.8,355.7 170.7,357.1 171.7,356.6 172.6,356.8 173.6,354.4 174.5,355" fill="none" stroke="#e8c4c8" stroke-width="1.4" stroke-linejoin="round" />
<polyline points="33.5,369.1 34.4,366.6 35.4,365.2 36.3,363.4 37.3,362.9 38.2,361 39.1,358.6 40.1,357.9 41,357.1 42,357.5 42.9,357.8 43.8,357.2 44.8,356.1 45.7,356.1 46.7,357 47.6,357.6 48.5,357.1 49.5,357.3 50.4,355.8 51.4,356.1 52.3,357.3 53.2,357.2 54.2,357.9 55.1,357.2 56.1,356.6 57,356.3 57.9,357.6 58.9,357.5 59.8,357.9 60.8,356.7 61.7,356.8 62.6,357.1 63.6,358.3 64.5,358.1 65.5,357.3 66.4,356.7 67.3,356.6 68.3,358.1 69.2,358.9 70.2,358.5 71.1,358.6 72,357.4 73,357.7 73.9,358.4 74.9,359.3 75.8,359.5 76.7,359.2 77.7,358.8 78.6,358.6 79.6,359.2 80.5,359.9 81.4,360.7 82.4,359.7 83.3,359.9 84.3,361.3 85.2,362.2 86.1,362 87.1,361 88,360.2 89,360.1 89.9,360.7 90.8,361.5 91.8,361.1 92.7,361.1 93.7,360.6 94.6,360.5 95.5,361.7 96.5,362.2 97.4,362.3 98.4,361.1 99.3,360.6 100.2,360.9 101.2,362.4 102.1,361.8 103.1,361.5 104,360.8 104.9,360.3 105.9,361.4 106.8,362 107.8,361.6 108.7,360.3 109.6,360.6 110.6,359.9 111.5,360.5 112.5,361.3 113.4,361.3 114.3,360 115.3,359.4 116.2,359.7 117.2,360.9 118.1,360.6 119,360.5 120,359.4 120.9,358.9 121.9,359.2 122.8,360.3 123.7,360.5 124.7,359.4 125.6,358.8 126.6,358.5 127.5,359.7 128.4,359.5 129.4,360 130.3,359.2 131.3,358.4 132.2,359.1 133.1,358.9 134.1,359.3 135,359.3 136,358.2 136.9,357.5 137.8,358.4 138.8,358.9 139.7,359.2 140.7,358.3 141.6,357.5 142.5,357.6 143.5,358.2 144.4,358.3 145.4,358.5 146.3,357.9 147.2,357.4 148.2,357.5 149.1,357.9 150.1,358.3 151,357.8 151.9,356.7 152.9,356.7 153.8,356.8 154.8,357 155.7,357.7 156.6,357 157.6,356 158.5,355.5 159.5,355.6 160.4,356.9 161.3,356.1 162.3,355.4 163.2,354.6 164.2,354.6 165.1,355 166,356.3 167,356.2 167.9,354.4 168.9,354.1 169.8,354 170.7,355.3 171.7,355.2 172.6,355.1 173.6,353.3 174.5,353.8" fill="none" stroke="#a84c50" stroke-width="1.3" stroke-linejoin="round" />
<polyline points="33.5,388.4 34.4,388.8 35.4,388.9 36.3,389.4 37.3,390.4 38.2,391.6 39.1,392.2 40.1,392.3 41,392.3 42,391.3 42.9,391.1 43.8,390.9 44.8,390 45.7,390.1 46.7,389.2 47.6,389.1 48.5,389 49.5,388.2 50.4,388.1 51.4,387.5 52.3,386.6 53.2,386.7 54.2,385.9 55.1,385.7 56.1,385.5 57,384.9 57.9,384.1 58.9,383.7 59.8,383.3 60.8,382.8 61.7,382.5 62.6,382.6 63.6,382.1 64.5,381.8 65.5,381.5 66.4,381.7 67.3,381.5 68.3,380.8 69.2,380.7 70.2,381.1 71.1,380.9 72,380.3 73,380.6 73.9,380.4 74.9,380 75.8,380.2 76.7,379.8 77.7,379.7 78.6,379.6 79.6,379.2 80.5,379.5 81.4,378.7 82.4,379.2 83.3,378.6 84.3,378.9 85.2,378.1 86.1,378.1 87.1,378 88,378 89,377.8 89.9,377.6 90.8,377.2 91.8,377.3 92.7,376.3 93.7,375.9 94.6,375.9 95.5,375.7 96.5,374.4 97.4,374.7 98.4,375.3 99.3,374.5 100.2,373.3 101.2,373.4 102.1,374.1 103.1,373.3 104,372.1 104.9,373 105.9,373 106.8,371.6 107.8,371.1 108.7,372.2 109.6,371.8 110.6,370.5 111.5,371 112.5,371.2 113.4,371.3 114.3,370.3 115.3,370.7 116.2,371.4 117.2,370.7 118.1,370.6 119,371.3 120,371.3 120.9,370.7 121.9,371 122.8,371.1 123.7,370.7 124.7,370.4 125.6,370.8 126.6,371.3 127.5,370.4 128.4,370.2 129.4,371 130.3,371.4 131.3,370.6 132.2,371 133.1,371.6 134.1,371.5 135,370.3 136,371.1 136.9,371.8 137.8,370.8 138.8,370.4 139.7,371.5 140.7,371.8 141.6,370.8 142.5,370.8 143.5,372 144.4,371.6 145.4,370.8 146.3,371.1 147.2,371.5 148.2,371.6 149.1,370.5 150.1,371.7 151,372.1 151.9,371.3 152.9,371.1 153.8,372.1 154.8,371.8 155.7,371 156.6,371.4 157.6,372.3 158.5,371.5 159.5,370.7 160.4,371.4 161.3,372.2 162.3,371 163.2,371.3 164.2,372.3 165.1,371.8 166,371.1 167,371.3 167.9,372.5 168.9,371.9 169.8,371.5 170.7,371.7 171.7,372.6 172.6,371.4 173.6,371.6 174.5,372.1" fill="none" stroke="#b8d4f0" stroke-width="1.4" stroke-linejoin="round" />
<polyline points="33.5,387.4 34.4,387.9 35.4,388 36.3,388.4 37.3,389.5 38.2,390.7 39.1,391.3 40.1,391.4 41,391.4 42,390.4 42.9,390.2 43.8,389.9 44.8,389.1 45.7,389.1 46.7,388.3 47.6,388.2 48.5,388.1 49.5,387.3 50.4,387.2 51.4,386.6 52.3,385.7 53.2,385.8 54.2,385 55.1,384.8 56.1,384.6 57,384 57.9,383.2 58.9,382.8 59.8,382.4 60.8,381.9 61.7,381.6 62.6,381.7 63.6,381.2 64.5,380.9 65.5,380.6 66.4,380.8 67.3,380.6 68.3,379.9 69.2,379.8 70.2,380.2 71.1,380 72,379.4 73,379.7 73.9,379.5 74.9,379.1 75.8,379.2 76.7,378.9 77.7,378.8 78.6,378.7 79.6,378.3 80.5,378.5 81.4,377.8 82.4,378.3 83.3,377.7 84.3,378 85.2,377.2 86.1,377.2 87.1,377.1 88,377.1 89,376.9 89.9,376.7 90.8,376.3 91.8,376.3 92.7,375.3 93.7,375 94.6,375 95.5,374.8 96.5,373.5 97.4,373.7 98.4,374.4 99.3,373.6 100.2,372.4 101.2,372.5 102.1,373.2 103.1,372.4 104,371.2 104.9,372.1 105.9,372 106.8,370.7 107.8,370.2 108.7,371.3 109.6,370.9 110.6,369.6 111.5,370.1 112.5,370.3 113.4,370.3 114.3,369.4 115.3,369.8 116.2,370.5 117.2,369.8 118.1,369.7 119,370.4 120,370.4 120.9,369.8 121.9,370 122.8,370.2 123.7,369.8 124.7,369.5 125.6,369.9 126.6,370.4 127.5,369.5 128.4,369.3 129.4,370.1 130.3,370.5 131.3,369.7 132.2,370.1 133.1,370.7 134.1,370.6 135,369.4 136,370.1 136.9,370.9 137.8,369.9 138.8,369.4 139.7,370.6 140.7,370.9 141.6,369.9 142.5,369.9 143.5,371.1 144.4,370.6 145.4,369.8 146.3,370.2 147.2,370.6 148.2,370.6 149.1,369.6 150.1,370.8 151,371.2 151.9,370.4 152.9,370.2 153.8,371.2 154.8,370.8 155.7,370 156.6,370.4 157.6,371.3 158.5,370.6 159.5,369.8 160.4,370.5 161.3,371.3 162.3,370.1 163.2,370.4 164.2,371.4 165.1,370.9 166,370.2 167,370.4 167.9,371.6 168.9,370.9 169.8,370.6 170.7,370.8 171.7,371.7 172.6,370.5 173.6,370.7 174.5,371.2" fill="none" stroke="#3a64c8" stroke-width="1.2" stroke-linejoin="round" />
<text x="76" y="306.3" font-family='"Liberation Sans",sans-serif' font-size="6.8" font-weight="bold" fill="#000" text-anchor="end" >Cu-Mn<tspan font-size="4.5" dy="1.2">3</tspan><tspan dy="-1.2">O</tspan><tspan font-size="4.5" dy="1.2">4</tspan></text>
<text x="76" y="315.3" font-family='"Liberation Sans",sans-serif' font-size="6.8" font-weight="bold" fill="#000" text-anchor="end" >Mn<tspan font-size="4.5" dy="1.2">3</tspan><tspan dy="-1.2">O</tspan><tspan font-size="4.5" dy="1.2">4</tspan></text>
<line x1="79" y1="303.7" x2="91" y2="303.7" stroke="#e8c8d0" stroke-width="0.8" />
<circle cx="84.6" cy="303.7" r="1.2" fill="#a07070" stroke="none" stroke-width="0.5" />
<line x1="79" y1="312.7" x2="91" y2="312.7" stroke="#c8d8f0" stroke-width="0.8" />
<circle cx="84.6" cy="312.7" r="1.2" fill="#4060d0" stroke="none" stroke-width="0.5" />
<text x="94.7" y="306.3" font-family='"Liberation Sans",sans-serif' font-size="6.6" font-weight="bold" fill="#000" text-anchor="start" >Charge /</text>
<text x="94.7" y="315.3" font-family='"Liberation Sans",sans-serif' font-size="6.6" font-weight="bold" fill="#000" text-anchor="start" >Charge /</text>
<line x1="123.3" y1="303.7" x2="137" y2="303.7" stroke="#e0d8d8" stroke-width="1.5" />
<line x1="123.3" y1="312.7" x2="137" y2="312.7" stroke="#e0e0e8" stroke-width="1" />
<text x="139.7" y="306.3" font-family='"Liberation Sans",sans-serif' font-size="6.6" font-weight="bold" fill="#000" text-anchor="start" >Discharge</text>
<text x="139.7" y="315.3" font-family='"Liberation Sans",sans-serif' font-size="6.6" font-weight="bold" fill="#000" text-anchor="start" >Discharge</text>
<text x="150" y="403.5" font-family='"Liberation Sans",sans-serif' font-size="7" font-weight="bold" fill="#000" text-anchor="start" >0.1A g<tspan font-size="4.5" dy="-3">-1</tspan></text>
<text x="0" y="0" font-family='"Liberation Sans",sans-serif' font-size="8.8" font-weight="bold" fill="#000" text-anchor="middle" transform="translate(16.6,357.7) rotate(-90)" textLength="73.3" lengthAdjust="spacingAndGlyphs">Capacity (mAh g<tspan font-size="5.5" dy="-3">-1</tspan><tspan dy="3">)</tspan></text>
<text x="104.6" y="424.6" font-family='"Liberation Sans",sans-serif' font-size="8.2" font-weight="bold" fill="#000" text-anchor="middle" textLength="54.8" lengthAdjust="spacingAndGlyphs">Cycle Number</text>
<text x="7.5" y="306.5" font-family='"Liberation Serif",serif' font-size="14" font-weight="bold" fill="#000" text-anchor="start" >h</text>
<rect x="206.6" y="295.2" width="135.2" height="115.5" fill="none" stroke="#000" stroke-width="1.1" />
<line x1="218" y1="410.7" x2="218" y2="413" stroke="#000" stroke-width="0.9" />
<text x="218" y="419.5" font-family='"Liberation Sans",sans-serif' font-size="6.8" font-weight="bold" fill="#000" text-anchor="middle" >95</text>
<line x1="247.4" y1="410.7" x2="247.4" y2="413" stroke="#000" stroke-width="0.9" />
<text x="247.4" y="419.5" font-family='"Liberation Sans",sans-serif' font-size="6.8" font-weight="bold" fill="#000" text-anchor="middle" >90</text>
<line x1="276.8" y1="410.7" x2="276.8" y2="413" stroke="#000" stroke-width="0.9" />
<text x="276.8" y="419.5" font-family='"Liberation Sans",sans-serif' font-size="6.8" font-weight="bold" fill="#000" text-anchor="middle" >85</text>
<line x1="306.2" y1="410.7" x2="306.2" y2="413" stroke="#000" stroke-width="0.9" />
<text x="306.2" y="419.5" font-family='"Liberation Sans",sans-serif' font-size="6.8" font-weight="bold" fill="#000" text-anchor="middle" >80</text>
<line x1="335.6" y1="410.7" x2="335.6" y2="413" stroke="#000" stroke-width="0.9" />
<text x="335.6" y="419.5" font-family='"Liberation Sans",sans-serif' font-size="6.8" font-weight="bold" fill="#000" text-anchor="middle" >75</text>
<line x1="232.7" y1="410.7" x2="232.7" y2="412.2" stroke="#000" stroke-width="0.7" />
<line x1="262.1" y1="410.7" x2="262.1" y2="412.2" stroke="#000" stroke-width="0.7" />
<line x1="291.5" y1="410.7" x2="291.5" y2="412.2" stroke="#000" stroke-width="0.7" />
<line x1="320.9" y1="410.7" x2="320.9" y2="412.2" stroke="#000" stroke-width="0.7" />
<rect x="206.8" y="336" width="56" height="12" fill="#fdf2f5" stroke="none" stroke-width="1" />
<rect x="249" y="322" width="12" height="10" fill="#fdeef3" stroke="none" stroke-width="1" />
<rect x="290" y="311" width="52" height="12" fill="#fdf0f4" stroke="none" stroke-width="1" />
<rect x="282" y="313" width="12" height="8" fill="#fdeef3" stroke="none" stroke-width="1" />
<polyline points="206.8,340.6 207.8,340.6 208.8,340.6 209.8,340.6 210.8,340.6 211.8,340.6 212.8,340.6 213.8,340.6 214.8,340.6 215.8,340.6 216.8,340.6 217.8,340.6 218.8,340.6 219.8,340.6 220.8,340.6 221.8,340.6 222.8,340.6 223.8,340.6 224.8,340.6 225.8,340.6 226.8,340.6 227.8,340.6 228.8,340.6 229.8,340.6 230.8,340.6 231.8,340.6 232.8,340.6 233.8,340.6 234.8,340.6 235.8,340.6 236.8,340.6 237.8,340.6 238.8,340.6 239.8,340.6 240.8,340.6 241.8,340.6 242.8,340.6 243.8,340.6 244.8,340.6 245.8,340.6 246.8,340.6 247.8,340.6 248.8,340.6 249.8,340.6 250.8,340.6 251.8,340.6 252.8,340.6 253.8,340.6 254.8,340.6 255.8,340.6 256.8,340.6 257.8,340.6 258.8,340.6 259.8,340.6 260.8,340.6 261.8,340.6 262.8,340.6 263.8,340.6 264.8,340.6 265.8,340.6 266.8,340.7 267.8,340.8 268.8,340.9 269.8,341 270.8,341.1 271.8,341.2 272.8,341.3 273.8,341.3 274.8,341.4 275.8,341.5 276.8,341.6 277.8,341.7 278.8,341.8 279.8,341.9 280.8,342 281.8,342.1 282.8,342.2 283.8,342.3 284.8,342.4 285.8,342.5 286.8,342.6 287.8,342.7 288.8,342.8 289.8,342.9 290.8,343 291.8,343.1 292.8,343.2 293.8,343.3 294.8,343.4 295.8,343.5 296.8,343.5 297.8,343.6 298.8,343.7 299.8,343.8 300.8,343.9 301.8,344 302.8,344.1 303.8,344.2 304.8,344.3 305.8,344.4 306.8,344.5 307.8,344.6 308.8,344.7 309.8,344.8 310.8,344.9 311.8,345 312.8,345 313.8,345 314.8,345 315.8,345 316.8,345 317.8,345 318.8,345 319.8,345 320.8,345 321.8,345 322.8,345 323.8,345 324.8,345 325.8,345 326.8,345 327.8,345 328.8,345 329.8,345 330.8,345 331.8,345 332.8,345 333.8,345 334.8,345 335.8,345 336.8,345 337.8,345 338.8,345 339.8,345 340.8,345" fill="none" stroke="#303070" stroke-width="0.8" stroke-linejoin="round" />
<polyline points="206.8,395.2 207.8,395.3 208.8,395.3 209.8,395.3 210.8,395.4 211.8,395.4 212.8,395.5 213.8,395.5 214.8,395.5 215.8,395.6 216.8,395.6 217.8,395.7 218.8,395.7 219.8,395.7 220.8,395.8 221.8,395.8 222.8,395.8 223.8,395.9 224.8,395.9 225.8,396 226.8,396 227.8,396 228.8,396.1 229.8,396.1 230.8,396.2 231.8,396.2 232.8,396.2 233.8,396.3 234.8,396.3 235.8,396.3 236.8,396.4 237.8,396.4 238.8,396.5 239.8,396.5 240.8,396.5 241.8,396.6 242.8,396.6 243.8,396.7 244.8,396.7 245.8,396.7 246.8,396.8 247.8,396.8 248.8,396.8 249.8,396.9 250.8,396.9 251.8,397 252.8,397 253.8,397 254.8,397.1 255.8,397.1 256.8,397.2 257.8,397.2 258.8,397.2 259.8,397.3 260.8,397.3 261.8,397.3 262.8,397.4 263.8,397.4 264.8,397.5 265.8,397.5 266.8,397.5 267.8,397.6 268.8,397.6 269.8,397.7 270.8,397.7 271.8,397.8 272.8,397.8 273.8,397.9 274.8,397.9 275.8,398 276.8,398.1 277.8,398.1 278.8,398.2 279.8,398.3 280.8,398.3 281.8,398.4 282.8,398.4 283.8,398.5 284.8,398.6 285.8,398.6 286.8,398.7 287.8,398.8 288.8,398.8 289.8,398.9 290.8,399 291.8,399 292.8,399.1 293.8,399.1 294.8,399.2 295.8,399.3 296.8,399.3 297.8,399.4 298.8,399.5 299.8,399.5 300.8,399.6 301.8,399.7 302.8,399.7 303.8,399.8 304.8,399.8 305.8,399.9 306.8,400 307.8,400 308.8,400.1 309.8,400.2 310.8,400.2 311.8,400.3 312.8,400.3 313.8,400.3 314.8,400.3 315.8,400.3 316.8,400.3 317.8,400.3 318.8,400.3 319.8,400.3 320.8,400.3 321.8,400.3 322.8,400.3 323.8,400.3 324.8,400.3 325.8,400.3 326.8,400.3 327.8,400.3 328.8,400.3 329.8,400.3 330.8,400.3 331.8,400.3 332.8,400.3 333.8,400.3 334.8,400.3 335.8,400.3 336.8,400.3 337.8,400.3 338.8,400.3 339.8,400.3 340.8,400.3" fill="none" stroke="#303070" stroke-width="0.8" stroke-linejoin="round" />
<polyline points="250.8,327.6 251.8,327.1 252.8,326.8 253.8,326.6 254.8,326.6 255.8,326.8 256.8,327.2 257.8,327.7 258.8,328.3 259.8,329.1 260.8,329.9 261.8,330.8 262.8,331.7 263.8,332.7 264.8,333.6 265.8,334.5 266.8,335.4 267.8,336.3 268.8,337.1 269.8,337.8 270.8,338.5 271.8,339.1 272.8,339.6 273.8,340 274.8,340.4 275.8,340.8 276.8,341 277.8,341.3 278.8,341.5 279.8,341.7 280.8,341.8 281.8,342 282.8,342.1 283.8,342.2 284.8,342.4 285.8,342.5 286.8,342.6 287.8,342.7 288.8,342.8 289.8,342.9 290.8,343 291.8,343.1 292.8,343.2 293.8,343.3 294.8,343.4 295.8,343.5 296.8,343.5 297.8,343.6 298.8,343.7 299.8,343.8" fill="none" stroke="#c8c070" stroke-width="0.7" stroke-linejoin="round" />
<polyline points="250.8,379.8 251.8,379 252.8,378.3 253.8,377.9 254.8,377.7 255.8,377.7 256.8,378 257.8,378.4 258.8,379.1 259.8,379.9 260.8,380.9 261.8,382 262.8,383.2 263.8,384.5 264.8,385.8 265.8,387.1 266.8,388.4 267.8,389.6 268.8,390.7 269.8,391.8 270.8,392.8 271.8,393.7 272.8,394.4 273.8,395.1 274.8,395.7 275.8,396.3 276.8,396.7 277.8,397.1 278.8,397.4 279.8,397.6 280.8,397.9 281.8,398 282.8,398.2 283.8,398.3 284.8,398.4 285.8,398.5 286.8,398.6 287.8,398.7 288.8,398.8 289.8,398.9 290.8,398.9 291.8,399 292.8,399.1 293.8,399.1 294.8,399.2 295.8,399.3 296.8,399.3 297.8,399.4 298.8,399.5 299.8,399.5" fill="none" stroke="#c8c070" stroke-width="0.7" stroke-linejoin="round" />
<polyline points="262.8,340.5 263.8,340.4 264.8,340.3 265.8,340.1 266.8,340 267.8,339.9 268.8,339.6 269.8,339.2 270.8,338.8 271.8,338.2 272.8,337.4 273.8,336.4 274.8,335.3 275.8,334 276.8,332.5 277.8,330.9 278.8,329.2 279.8,327.4 280.8,325.6 281.8,323.8 282.8,322.2 283.8,320.7 284.8,319.6 285.8,318.7 286.8,318.2 287.8,318.1 288.8,318.4 289.8,319.1 290.8,320.1 291.8,321.5 292.8,323.1 293.8,325 294.8,326.9 295.8,328.9 296.8,330.9 297.8,332.8 298.8,334.6 299.8,336.3" fill="none" stroke="#6068c8" stroke-width="0.8" stroke-linejoin="round" />
<polyline points="262.8,397.2 263.8,397.1 264.8,397.1 265.8,396.9 266.8,396.7 267.8,396.5 268.8,396.1 269.8,395.6 270.8,395 271.8,394.2 272.8,393.3 273.8,392.2 274.8,390.8 275.8,389.3 276.8,387.5 277.8,385.5 278.8,383.3 279.8,381 280.8,378.6 281.8,376.2 282.8,373.8 283.8,371.6 284.8,369.5 285.8,367.8 286.8,366.4 287.8,365.4 288.8,364.8 289.8,364.8 290.8,365.3 291.8,366.2 292.8,367.6 293.8,369.3 294.8,371.4 295.8,373.7 296.8,376.2 297.8,378.7 298.8,381.3 299.8,383.7" fill="none" stroke="#6068c8" stroke-width="0.8" stroke-linejoin="round" />
<polyline points="206.8,340.7 207.8,340.8 208.8,340.8 209.8,340.3 210.8,340.9 211.8,340.9 212.8,340.6 213.8,340.6 214.8,340.3 215.8,340.4 216.8,340.8 217.8,340.8 218.8,340.7 219.8,340.2 220.8,340.4 221.8,340.9 222.8,340.4 223.8,340.6 224.8,340.3 225.8,340.6 226.8,340.7 227.8,340.3 228.8,340.1 229.8,340.1 230.8,339.8 231.8,339.9 232.8,340 233.8,339.4 234.8,339.4 235.8,339.2 236.8,338.6 237.8,337.6 238.8,337.3 239.8,336.4 240.8,335.8 241.8,335 242.8,334.6 243.8,333.3 244.8,332.5 245.8,331.3 246.8,330.8 247.8,329.4 248.8,328.6 249.8,328.3 250.8,327.5 251.8,327.1 252.8,326.6 253.8,326.3 254.8,326.8 255.8,326.6 256.8,327.5 257.8,327.6 258.8,328.4 259.8,329 260.8,329.5 261.8,330.4 262.8,331.8 263.8,332.6 264.8,333.4 265.8,333.8 266.8,334.5 267.8,335.2 268.8,336.2 269.8,336.5 270.8,336.2 271.8,336.1 272.8,335.7 273.8,335 274.8,334.6 275.8,333.2 276.8,331.6 277.8,330.7 278.8,328.8 279.8,327.3 280.8,325.5 281.8,323.6 282.8,321.9 283.8,320.9 284.8,319.4 285.8,318.8 286.8,317.8 287.8,317.9 288.8,318.3 289.8,319.2 290.8,320 291.8,321.7 292.8,323 293.8,325.2 294.8,327.2 295.8,328.9 296.8,330.7 297.8,333.1 298.8,334.8 299.8,336.5 300.8,338 301.8,339.2 302.8,340.3 303.8,341.3 304.8,341.7 305.8,342.6 306.8,343 307.8,343.8 308.8,344 309.8,344 310.8,344.4 311.8,344.5 312.8,344.8 313.8,345 314.8,344.8 315.8,344.6 316.8,344.8 317.8,344.7 318.8,344.9 319.8,345.1 320.8,345 321.8,345.1 322.8,345.2 323.8,345.2 324.8,344.9 325.8,345.1 326.8,345.3 327.8,345.1 328.8,345.3 329.8,344.7 330.8,345.1 331.8,345.1 332.8,344.9 333.8,344.8 334.8,345.3 335.8,345.3 336.8,345.1 337.8,345.3 338.8,344.9 339.8,345.3 340.8,344.9" fill="none" stroke="#9a6838" stroke-width="1.3" stroke-linejoin="round" />
<polyline points="206.8,395.4 207.8,395.6 208.8,395.6 209.8,395.3 210.8,395.5 211.8,395.2 212.8,395.3 213.8,395.6 214.8,395.3 215.8,395.9 216.8,395.4 217.8,395.4 218.8,395.4 219.8,396 220.8,395.6 221.8,396 222.8,396.1 223.8,395.9 224.8,396.1 225.8,396.2 226.8,395.7 227.8,395.6 228.8,395.4 229.8,395.7 230.8,395.7 231.8,395.3 232.8,395.2 233.8,394.9 234.8,394.3 235.8,393.9 236.8,394 237.8,393.4 238.8,392.6 239.8,391.4 240.8,391.2 241.8,390.1 242.8,389.2 243.8,387.6 244.8,386.8 245.8,385.5 246.8,384.4 247.8,383.2 248.8,381.7 249.8,381 250.8,380.1 251.8,378.8 252.8,378.1 253.8,377.7 254.8,378.1 255.8,377.4 256.8,378 257.8,378.2 258.8,379.3 259.8,379.8 260.8,381.1 261.8,381.9 262.8,382.8 263.8,384.6 264.8,385.6 265.8,386.5 266.8,387.8 267.8,388.5 268.8,389.5 269.8,389.7 270.8,390.2 271.8,390 272.8,389.7 273.8,389.8 274.8,388.7 275.8,387.4 276.8,386 277.8,384.7 278.8,382.7 279.8,380.5 280.8,378.4 281.8,376 282.8,373.6 283.8,371.5 284.8,369.7 285.8,367.7 286.8,366.3 287.8,365.4 288.8,365 289.8,365 290.8,365.4 291.8,366.4 292.8,367.8 293.8,369.5 294.8,371.7 295.8,373.7 296.8,376.4 297.8,378.7 298.8,381.4 299.8,383.5 300.8,386.1 301.8,388.2 302.8,390.5 303.8,392.2 304.8,393.4 305.8,395.1 306.8,396.2 307.8,396.7 308.8,397.6 309.8,398.2 310.8,398.7 311.8,399 312.8,399.6 313.8,399.9 314.8,400.3 315.8,400 316.8,400.1 317.8,400.4 318.8,399.9 319.8,400 320.8,400.2 321.8,400.6 322.8,400.2 323.8,400.4 324.8,400 325.8,400.3 326.8,400.6 327.8,400.2 328.8,400 329.8,400.3 330.8,400 331.8,400.6 332.8,400.3 333.8,400.2 334.8,400.2 335.8,400.6 336.8,400.1 337.8,400.3 338.8,400.2 339.8,400.3 340.8,400.3" fill="none" stroke="#111" stroke-width="1.4" stroke-linejoin="round" />
<line x1="255.2" y1="312" x2="255.2" y2="410.5" stroke="#6a4a40" stroke-width="1.0" stroke-dasharray="2.5,1.5"/>
<line x1="288.9" y1="311" x2="288.9" y2="410.5" stroke="#808080" stroke-width="1.0" stroke-dasharray="2.5,1.5"/>
<line x1="208.5" y1="298.8" x2="223.3" y2="298.8" stroke="#2a2a50" stroke-width="0.9" />
<line x1="208.5" y1="305.3" x2="223.3" y2="305.3" stroke="#b08058" stroke-width="1.6" />
<text x="225" y="301.2" font-family='"Liberation Sans",sans-serif' font-size="6" font-weight="bold" fill="#000" text-anchor="start" textLength="29.5" lengthAdjust="spacingAndGlyphs">Mn<tspan font-size="4" dy="1.2">3</tspan><tspan dy="-1.2">O</tspan><tspan font-size="4" dy="1.2">4</tspan><tspan dy="-1.2"> NPs</tspan></text>
<text x="225" y="307.7" font-family='"Liberation Sans",sans-serif' font-size="6" font-weight="bold" fill="#000" text-anchor="start" textLength="74" lengthAdjust="spacingAndGlyphs">5 at% Ni doped Mn<tspan font-size="4" dy="1.2">3</tspan><tspan dy="-1.2">O</tspan><tspan font-size="4" dy="1.2">4</tspan><tspan dy="-1.2"> NPs</tspan></text>
<text x="335.5" y="302" font-family='"Liberation Sans",sans-serif' font-size="6" font-weight="bold" fill="#000" text-anchor="end" >Mn 3s</text>
<text x="296.4" y="320" font-family='"Liberation Sans",sans-serif' font-size="6" font-weight="normal" fill="#b04030" text-anchor="start" >&#916;E = 5.72 eV</text>
<text x="294" y="364.3" font-family='"Liberation Sans",sans-serif' font-size="6" font-weight="normal" fill="#222" text-anchor="start" >&#916;E = 5.79 eV</text>
<text x="0" y="0" font-family='"Liberation Sans",sans-serif' font-size="7.2" font-weight="bold" fill="#000" text-anchor="middle" transform="translate(200.5,350) rotate(-90)">Intensity (A.U.)</text>
<text x="236.5" y="425" font-family='"Liberation Sans",sans-serif' font-size="8.4" font-weight="bold" fill="#000" text-anchor="start" textLength="67" lengthAdjust="spacingAndGlyphs">Binding Energy(eV)</text>
<text x="190" y="302" font-family='"Liberation Serif",serif' font-size="14" font-weight="bold" fill="#000" text-anchor="start" >i</text>
<rect x="377.2" y="292.5" width="163.2" height="117.6" fill="none" stroke="#555" stroke-width="0.9" />
<line x1="375.2" y1="410.1" x2="377.2" y2="410.1" stroke="#444" stroke-width="0.7" />
<text x="373.5" y="411.9" font-family='"Liberation Sans",sans-serif' font-size="5.6" font-weight="normal" fill="#333" text-anchor="end" >0</text>
<line x1="377.2" y1="410.1" x2="377.2" y2="412.1" stroke="#444" stroke-width="0.7" />
<text x="377.2" y="417.6" font-family='"Liberation Sans",sans-serif' font-size="5.6" font-weight="normal" fill="#333" text-anchor="middle" >0</text>
<line x1="375.2" y1="394.5" x2="377.2" y2="394.5" stroke="#444" stroke-width="0.7" />
<text x="373.5" y="396.3" font-family='"Liberation Sans",sans-serif' font-size="5.6" font-weight="normal" fill="#333" text-anchor="end" >20</text>
<line x1="398.9" y1="410.1" x2="398.9" y2="412.1" stroke="#444" stroke-width="0.7" />
<text x="398.9" y="417.6" font-family='"Liberation Sans",sans-serif' font-size="5.6" font-weight="normal" fill="#333" text-anchor="middle" >20</text>
<line x1="375.2" y1="378.9" x2="377.2" y2="378.9" stroke="#444" stroke-width="0.7" />
<text x="373.5" y="380.7" font-family='"Liberation Sans",sans-serif' font-size="5.6" font-weight="normal" fill="#333" text-anchor="end" >40</text>
<line x1="420.7" y1="410.1" x2="420.7" y2="412.1" stroke="#444" stroke-width="0.7" />
<text x="420.7" y="417.6" font-family='"Liberation Sans",sans-serif' font-size="5.6" font-weight="normal" fill="#333" text-anchor="middle" >40</text>
<line x1="375.2" y1="363.3" x2="377.2" y2="363.3" stroke="#444" stroke-width="0.7" />
<text x="373.5" y="365.1" font-family='"Liberation Sans",sans-serif' font-size="5.6" font-weight="normal" fill="#333" text-anchor="end" >60</text>
<line x1="442.4" y1="410.1" x2="442.4" y2="412.1" stroke="#444" stroke-width="0.7" />
<text x="442.4" y="417.6" font-family='"Liberation Sans",sans-serif' font-size="5.6" font-weight="normal" fill="#333" text-anchor="middle" >60</text>
<line x1="375.2" y1="347.7" x2="377.2" y2="347.7" stroke="#444" stroke-width="0.7" />
<text x="373.5" y="349.5" font-family='"Liberation Sans",sans-serif' font-size="5.6" font-weight="normal" fill="#333" text-anchor="end" >80</text>
<line x1="464.2" y1="410.1" x2="464.2" y2="412.1" stroke="#444" stroke-width="0.7" />
<text x="464.2" y="417.6" font-family='"Liberation Sans",sans-serif' font-size="5.6" font-weight="normal" fill="#333" text-anchor="middle" >80</text>
<line x1="375.2" y1="332.1" x2="377.2" y2="332.1" stroke="#444" stroke-width="0.7" />
<text x="373.5" y="333.9" font-family='"Liberation Sans",sans-serif' font-size="5.6" font-weight="normal" fill="#333" text-anchor="end" >100</text>
<line x1="485.9" y1="410.1" x2="485.9" y2="412.1" stroke="#444" stroke-width="0.7" />
<text x="485.9" y="417.6" font-family='"Liberation Sans",sans-serif' font-size="5.6" font-weight="normal" fill="#333" text-anchor="middle" >100</text>
<line x1="375.2" y1="316.5" x2="377.2" y2="316.5" stroke="#444" stroke-width="0.7" />
<text x="373.5" y="318.3" font-family='"Liberation Sans",sans-serif' font-size="5.6" font-weight="normal" fill="#333" text-anchor="end" >120</text>
<line x1="507.7" y1="410.1" x2="507.7" y2="412.1" stroke="#444" stroke-width="0.7" />
<text x="507.7" y="417.6" font-family='"Liberation Sans",sans-serif' font-size="5.6" font-weight="normal" fill="#333" text-anchor="middle" >120</text>
<line x1="375.2" y1="300.9" x2="377.2" y2="300.9" stroke="#444" stroke-width="0.7" />
<text x="373.5" y="302.7" font-family='"Liberation Sans",sans-serif' font-size="5.6" font-weight="normal" fill="#333" text-anchor="end" >140</text>
<line x1="529.5" y1="410.1" x2="529.5" y2="412.1" stroke="#444" stroke-width="0.7" />
<text x="529.5" y="417.6" font-family='"Liberation Sans",sans-serif' font-size="5.6" font-weight="normal" fill="#333" text-anchor="middle" >140</text>
<line x1="376" y1="402.3" x2="377.2" y2="402.3" stroke="#444" stroke-width="0.6" />
<line x1="388.1" y1="410.1" x2="388.1" y2="411.3" stroke="#444" stroke-width="0.6" />
<line x1="376" y1="386.7" x2="377.2" y2="386.7" stroke="#444" stroke-width="0.6" />
<line x1="409.8" y1="410.1" x2="409.8" y2="411.3" stroke="#444" stroke-width="0.6" />
<line x1="376" y1="371.1" x2="377.2" y2="371.1" stroke="#444" stroke-width="0.6" />
<line x1="431.6" y1="410.1" x2="431.6" y2="411.3" stroke="#444" stroke-width="0.6" />
<line x1="376" y1="355.5" x2="377.2" y2="355.5" stroke="#444" stroke-width="0.6" />
<line x1="453.3" y1="410.1" x2="453.3" y2="411.3" stroke="#444" stroke-width="0.6" />
<line x1="376" y1="339.9" x2="377.2" y2="339.9" stroke="#444" stroke-width="0.6" />
<line x1="475.1" y1="410.1" x2="475.1" y2="411.3" stroke="#444" stroke-width="0.6" />
<line x1="376" y1="324.3" x2="377.2" y2="324.3" stroke="#444" stroke-width="0.6" />
<line x1="496.8" y1="410.1" x2="496.8" y2="411.3" stroke="#444" stroke-width="0.6" />
<line x1="376" y1="308.7" x2="377.2" y2="308.7" stroke="#444" stroke-width="0.6" />
<line x1="518.6" y1="410.1" x2="518.6" y2="411.3" stroke="#444" stroke-width="0.6" />
<line x1="376" y1="293.1" x2="377.2" y2="293.1" stroke="#444" stroke-width="0.6" />
<line x1="540.3" y1="410.1" x2="540.3" y2="411.3" stroke="#444" stroke-width="0.6" />
<rect x="381" y="295.2" width="38.6" height="36.3" fill="#fff" stroke="#888" stroke-width="0.6" />
<path d="M389.6 298.3 l1.4 2.2 h-2.8z" fill="#111"/>
<text x="397.6" y="301.8" font-family='"Liberation Sans",sans-serif' font-size="5.9" font-weight="normal" fill="#333" text-anchor="start" >CuM-0</text>
<path d="M389.6 305.2 l1.4 2.2 h-2.8z" fill="#b06a2a"/>
<text x="397.6" y="308.7" font-family='"Liberation Sans",sans-serif' font-size="5.9" font-weight="normal" fill="#333" text-anchor="start" >CuM-5</text>
<path d="M389.6 312.1 l1.4 2.2 h-2.8z" fill="#3030c8"/>
<text x="397.6" y="315.6" font-family='"Liberation Sans",sans-serif' font-size="5.9" font-weight="normal" fill="#333" text-anchor="start" >CuM-10</text>
<path d="M389.6 319 l1.4 2.2 h-2.8z" fill="#a040e0"/>
<text x="397.6" y="322.5" font-family='"Liberation Sans",sans-serif' font-size="5.9" font-weight="normal" fill="#333" text-anchor="start" >CuM-15</text>
<path d="M389.6 325.9 l1.4 2.2 h-2.8z" fill="#6a6a20"/>
<text x="397.6" y="329.4" font-family='"Liberation Sans",sans-serif' font-size="5.9" font-weight="normal" fill="#333" text-anchor="start" >CuM-20</text>
<rect x="432" y="390" width="40" height="10" fill="#fff5fa" stroke="none" stroke-width="1" />
<rect x="470" y="350" width="18" height="18" fill="#fff5fa" stroke="none" stroke-width="1" />
<rect x="505" y="330" width="12" height="12" fill="#fff5fa" stroke="none" stroke-width="1" />
<rect x="520" y="300" width="10" height="10" fill="#fff5fa" stroke="none" stroke-width="1" />
<rect x="500" y="360" width="10" height="10" fill="#fff5fa" stroke="none" stroke-width="1" />
<rect x="488" y="368" width="12" height="10" fill="#fff5fa" stroke="none" stroke-width="1" />
<path d="M407 408.4 l1.1 1.9 h-2.2z" fill="#111"/>
<path d="M407.6 408.4 l1.1 1.9 h-2.2z" fill="#111"/>
<path d="M408.3 408.3 l1.1 1.9 h-2.2z" fill="#111"/>
<path d="M408.9 408.2 l1.1 1.9 h-2.2z" fill="#111"/>
<path d="M409.6 408 l1.1 1.9 h-2.2z" fill="#111"/>
<path d="M410.2 407.9 l1.1 1.9 h-2.2z" fill="#111"/>
<path d="M410.8 407.7 l1.1 1.9 h-2.2z" fill="#111"/>
<path d="M411.5 407.5 l1.1 1.9 h-2.2z" fill="#111"/>
<path d="M412.1 407.3 l1.1 1.9 h-2.2z" fill="#111"/>
<path d="M412.7 407 l1.1 1.9 h-2.2z" fill="#111"/>
<path d="M413.4 406.8 l1.1 1.9 h-2.2z" fill="#111"/>
<path d="M414 406.5 l1.1 1.9 h-2.2z" fill="#111"/>
<path d="M414.7 406.2 l1.1 1.9 h-2.2z" fill="#111"/>
<path d="M415.3 405.9 l1.1 1.9 h-2.2z" fill="#111"/>
<path d="M415.9 405.6 l1.1 1.9 h-2.2z" fill="#111"/>
<path d="M416.6 405.3 l1.1 1.9 h-2.2z" fill="#111"/>
<path d="M417.2 404.9 l1.1 1.9 h-2.2z" fill="#111"/>
<path d="M417.8 404.6 l1.1 1.9 h-2.2z" fill="#111"/>
<path d="M418.5 404.2 l1.1 1.9 h-2.2z" fill="#111"/>
<path d="M419.1 403.8 l1.1 1.9 h-2.2z" fill="#111"/>
<path d="M419.8 403.4 l1.1 1.9 h-2.2z" fill="#111"/>
<path d="M420.4 403 l1.1 1.9 h-2.2z" fill="#111"/>
<path d="M421 402.6 l1.1 1.9 h-2.2z" fill="#111"/>
<path d="M421.7 402.2 l1.1 1.9 h-2.2z" fill="#111"/>
<path d="M422.3 401.8 l1.1 1.9 h-2.2z" fill="#111"/>
<path d="M422.9 401.3 l1.1 1.9 h-2.2z" fill="#111"/>
<path d="M423.6 400.8 l1.1 1.9 h-2.2z" fill="#111"/>
<path d="M424.2 400.4 l1.1 1.9 h-2.2z" fill="#111"/>
<path d="M424.9 399.9 l1.1 1.9 h-2.2z" fill="#111"/>
<path d="M425.5 399.4 l1.1 1.9 h-2.2z" fill="#111"/>
<path d="M428.3 397.9 l1.3 2.2 h-2.6z" fill="#111"/>
<path d="M430.7 395.5 l1.3 2.2 h-2.6z" fill="#111"/>
<path d="M433 392.9 l1.3 2.2 h-2.6z" fill="#111"/>
<path d="M435.6 390.2 l1.3 2.2 h-2.6z" fill="#111"/>
<path d="M438.2 387.5 l1.3 2.2 h-2.6z" fill="#111"/>
<path d="M441.4 383.7 l1.3 2.2 h-2.6z" fill="#111"/>
<path d="M444.5 379.5 l1.3 2.2 h-2.6z" fill="#111"/>
<path d="M448.1 374.4 l1.3 2.2 h-2.6z" fill="#111"/>
<path d="M452.8 368.7 l1.3 2.2 h-2.6z" fill="#111"/>
<path d="M457.3 361.7 l1.3 2.2 h-2.6z" fill="#111"/>
<path d="M464 353.5 l1.3 2.2 h-2.6z" fill="#111"/>
<path d="M473.1 343.5 l1.3 2.2 h-2.6z" fill="#111"/>
<path d="M481.8 331.2 l1.3 2.2 h-2.6z" fill="#111"/>
<path d="M492.4 316.6 l1.3 2.2 h-2.6z" fill="#111"/>
<path d="M506.9 300.6 l1.3 2.2 h-2.6z" fill="#111"/>
<path d="M423.5 408.3 l1.2 2 h-2.4z" fill="#a040e0"/>
<path d="M424.9 406.7 l1.2 2 h-2.4z" fill="#a040e0"/>
<path d="M426.4 405.3 l1.2 2 h-2.4z" fill="#a040e0"/>
<path d="M427.8 404.1 l1.2 2 h-2.4z" fill="#a040e0"/>
<path d="M429.2 403 l1.2 2 h-2.4z" fill="#a040e0"/>
<path d="M430.7 402.1 l1.2 2 h-2.4z" fill="#a040e0"/>
<path d="M432.1 401.4 l1.2 2 h-2.4z" fill="#a040e0"/>
<path d="M433.6 400.7 l1.2 2 h-2.4z" fill="#a040e0"/>
<path d="M435 400.1 l1.2 2 h-2.4z" fill="#a040e0"/>
<path d="M436.4 399.6 l1.2 2 h-2.4z" fill="#a040e0"/>
<path d="M437.9 399.1 l1.2 2 h-2.4z" fill="#a040e0"/>
<path d="M439.3 398.8 l1.2 2 h-2.4z" fill="#a040e0"/>
<path d="M440.7 398.4 l1.2 2 h-2.4z" fill="#a040e0"/>
<path d="M442.2 398.1 l1.2 2 h-2.4z" fill="#a040e0"/>
<path d="M443.6 397.9 l1.2 2 h-2.4z" fill="#a040e0"/>
<path d="M445 397.6 l1.2 2 h-2.4z" fill="#a040e0"/>
<path d="M446.5 397.4 l1.2 2 h-2.4z" fill="#a040e0"/>
<path d="M447.9 397.2 l1.2 2 h-2.4z" fill="#a040e0"/>
<path d="M449.3 397.1 l1.2 2 h-2.4z" fill="#a040e0"/>
<path d="M450.8 396.9 l1.2 2 h-2.4z" fill="#a040e0"/>
<path d="M452.2 396.8 l1.2 2 h-2.4z" fill="#a040e0"/>
<path d="M453.7 396.7 l1.2 2 h-2.4z" fill="#a040e0"/>
<path d="M455.1 396.5 l1.2 2 h-2.4z" fill="#a040e0"/>
<path d="M456.5 396.4 l1.2 2 h-2.4z" fill="#a040e0"/>
<path d="M458 396.3 l1.2 2 h-2.4z" fill="#a040e0"/>
<path d="M459.4 396.3 l1.2 2 h-2.4z" fill="#a040e0"/>
<path d="M460.8 396.2 l1.2 2 h-2.4z" fill="#a040e0"/>
<path d="M462.3 396.1 l1.2 2 h-2.4z" fill="#a040e0"/>
<path d="M463.7 396 l1.2 2 h-2.4z" fill="#a040e0"/>
<path d="M465.1 395.9 l1.2 2 h-2.4z" fill="#a040e0"/>
<path d="M466.6 395.9 l1.2 2 h-2.4z" fill="#a040e0"/>
<path d="M468 395.8 l1.2 2 h-2.4z" fill="#a040e0"/>
<path d="M469.4 395.7 l1.2 2 h-2.4z" fill="#a040e0"/>
<path d="M470.9 395.7 l1.2 2 h-2.4z" fill="#a040e0"/>
<path d="M472.3 395.6 l1.2 2 h-2.4z" fill="#a040e0"/>
<path d="M473.8 395.6 l1.2 2 h-2.4z" fill="#a040e0"/>
<path d="M475.2 395.5 l1.2 2 h-2.4z" fill="#a040e0"/>
<path d="M476.6 395.4 l1.2 2 h-2.4z" fill="#a040e0"/>
<path d="M478.1 395.4 l1.2 2 h-2.4z" fill="#a040e0"/>
<path d="M479.5 395.3 l1.2 2 h-2.4z" fill="#a040e0"/>
<path d="M480.9 386.9 l1.3 2.2 h-2.6z" fill="#a040e0"/>
<path d="M484 383.8 l1.3 2.2 h-2.6z" fill="#a040e0"/>
<path d="M486.9 380.5 l1.3 2.2 h-2.6z" fill="#a040e0"/>
<path d="M490 376.3 l1.3 2.2 h-2.6z" fill="#a040e0"/>
<path d="M493.6 370.5 l1.3 2.2 h-2.6z" fill="#a040e0"/>
<path d="M497.6 364.2 l1.3 2.2 h-2.6z" fill="#a040e0"/>
<path d="M502.4 356.3 l1.3 2.2 h-2.6z" fill="#a040e0"/>
<path d="M507.8 347.2 l1.3 2.2 h-2.6z" fill="#a040e0"/>
<path d="M514 335.3 l1.3 2.2 h-2.6z" fill="#a040e0"/>
<path d="M521.8 321.7 l1.3 2.2 h-2.6z" fill="#a040e0"/>
<path d="M531.5 305.2 l1.3 2.2 h-2.6z" fill="#a040e0"/>
<path d="M425.5 407 l1.2 2 h-2.4z" fill="#2828c8"/>
<path d="M426.9 405.9 l1.2 2 h-2.4z" fill="#2828c8"/>
<path d="M428.2 404.9 l1.2 2 h-2.4z" fill="#2828c8"/>
<path d="M429.6 404 l1.2 2 h-2.4z" fill="#2828c8"/>
<path d="M431 403.2 l1.2 2 h-2.4z" fill="#2828c8"/>
<path d="M432.3 402.6 l1.2 2 h-2.4z" fill="#2828c8"/>
<path d="M433.7 402 l1.2 2 h-2.4z" fill="#2828c8"/>
<path d="M435 401.5 l1.2 2 h-2.4z" fill="#2828c8"/>
<path d="M436.4 401 l1.2 2 h-2.4z" fill="#2828c8"/>
<path d="M437.8 400.6 l1.2 2 h-2.4z" fill="#2828c8"/>
<path d="M439.1 400.2 l1.2 2 h-2.4z" fill="#2828c8"/>
<path d="M440.5 399.9 l1.2 2 h-2.4z" fill="#2828c8"/>
<path d="M441.9 399.6 l1.2 2 h-2.4z" fill="#2828c8"/>
<path d="M443.2 399.4 l1.2 2 h-2.4z" fill="#2828c8"/>
<path d="M444.6 399.1 l1.2 2 h-2.4z" fill="#2828c8"/>
<path d="M446 398.9 l1.2 2 h-2.4z" fill="#2828c8"/>
<path d="M447.3 398.7 l1.2 2 h-2.4z" fill="#2828c8"/>
<path d="M448.7 398.6 l1.2 2 h-2.4z" fill="#2828c8"/>
<path d="M450 398.4 l1.2 2 h-2.4z" fill="#2828c8"/>
<path d="M451.4 398.3 l1.2 2 h-2.4z" fill="#2828c8"/>
<path d="M452.8 398.1 l1.2 2 h-2.4z" fill="#2828c8"/>
<path d="M454.1 398 l1.2 2 h-2.4z" fill="#2828c8"/>
<path d="M455.5 397.9 l1.2 2 h-2.4z" fill="#2828c8"/>
<path d="M456.9 397.8 l1.2 2 h-2.4z" fill="#2828c8"/>
<path d="M458.2 397.7 l1.2 2 h-2.4z" fill="#2828c8"/>
<path d="M459.6 397.6 l1.2 2 h-2.4z" fill="#2828c8"/>
<path d="M461 397.6 l1.2 2 h-2.4z" fill="#2828c8"/>
<path d="M462.3 397.5 l1.2 2 h-2.4z" fill="#2828c8"/>
<path d="M463.7 397.4 l1.2 2 h-2.4z" fill="#2828c8"/>
<path d="M465 397.3 l1.2 2 h-2.4z" fill="#2828c8"/>
<path d="M466.4 397.3 l1.2 2 h-2.4z" fill="#2828c8"/>
<path d="M467.8 397.2 l1.2 2 h-2.4z" fill="#2828c8"/>
<path d="M469.1 397.2 l1.2 2 h-2.4z" fill="#2828c8"/>
<path d="M470.5 397.1 l1.2 2 h-2.4z" fill="#2828c8"/>
<path d="M471.9 397 l1.2 2 h-2.4z" fill="#2828c8"/>
<path d="M473.2 397 l1.2 2 h-2.4z" fill="#2828c8"/>
<path d="M474.6 396.9 l1.2 2 h-2.4z" fill="#2828c8"/>
<path d="M476 396.9 l1.2 2 h-2.4z" fill="#2828c8"/>
<path d="M477.3 396.8 l1.2 2 h-2.4z" fill="#2828c8"/>
<path d="M478.7 396.8 l1.2 2 h-2.4z" fill="#2828c8"/>
<path d="M480 396.7 l1.2 2 h-2.4z" fill="#2828c8"/>
<path d="M481.4 396.7 l1.2 2 h-2.4z" fill="#2828c8"/>
<path d="M482.8 396.6 l1.2 2 h-2.4z" fill="#2828c8"/>
<path d="M484.1 396.6 l1.2 2 h-2.4z" fill="#2828c8"/>
<path d="M485.5 396.5 l1.2 2 h-2.4z" fill="#2828c8"/>
<path d="M486.4 388.7 l1.3 2.2 h-2.6z" fill="#2828c8"/>
<path d="M489.6 386.9 l1.3 2.2 h-2.6z" fill="#2828c8"/>
<path d="M493.1 384.7 l1.3 2.2 h-2.6z" fill="#2828c8"/>
<path d="M496.5 382.3 l1.3 2.2 h-2.6z" fill="#2828c8"/>
<path d="M500.4 379.6 l1.3 2.2 h-2.6z" fill="#2828c8"/>
<path d="M504.2 376 l1.3 2.2 h-2.6z" fill="#2828c8"/>
<path d="M508.5 372 l1.3 2.2 h-2.6z" fill="#2828c8"/>
<path d="M513.1 366.9 l1.3 2.2 h-2.6z" fill="#2828c8"/>
<path d="M517.6 361.1 l1.3 2.2 h-2.6z" fill="#2828c8"/>
<path d="M522.2 353.2 l1.3 2.2 h-2.6z" fill="#2828c8"/>
<path d="M527.3 344.2 l1.3 2.2 h-2.6z" fill="#2828c8"/>
<path d="M532.7 333 l1.3 2.2 h-2.6z" fill="#2828c8"/>
<path d="M538.5 319.3 l1.3 2.2 h-2.6z" fill="#2828c8"/>
<path d="M426.7 408.3 l1.2 2 h-2.4z" fill="#5a6a20"/>
<path d="M428 408.2 l1.2 2 h-2.4z" fill="#5a6a20"/>
<path d="M429.4 408 l1.2 2 h-2.4z" fill="#5a6a20"/>
<path d="M430.7 407.7 l1.2 2 h-2.4z" fill="#5a6a20"/>
<path d="M432 407.4 l1.2 2 h-2.4z" fill="#5a6a20"/>
<path d="M433.4 406.9 l1.2 2 h-2.4z" fill="#5a6a20"/>
<path d="M434.7 406.4 l1.2 2 h-2.4z" fill="#5a6a20"/>
<path d="M436 405.8 l1.2 2 h-2.4z" fill="#5a6a20"/>
<path d="M437.4 405.1 l1.2 2 h-2.4z" fill="#5a6a20"/>
<path d="M438.7 404.3 l1.2 2 h-2.4z" fill="#5a6a20"/>
<path d="M440 403.5 l1.2 2 h-2.4z" fill="#5a6a20"/>
<path d="M441.4 402.6 l1.2 2 h-2.4z" fill="#5a6a20"/>
<path d="M442.7 401.6 l1.2 2 h-2.4z" fill="#5a6a20"/>
<path d="M444 400.6 l1.2 2 h-2.4z" fill="#5a6a20"/>
<path d="M445.4 399.5 l1.2 2 h-2.4z" fill="#5a6a20"/>
<path d="M446.7 398.3 l1.2 2 h-2.4z" fill="#5a6a20"/>
<path d="M450.9 393.2 l1.3 2.2 h-2.6z" fill="#6a5a20"/>
<path d="M452.7 393.8 l1.2 2 h-2.4z" fill="#8a6a30"/>
<path d="M454.5 389.1 l1.3 2.2 h-2.6z" fill="#6a5a20"/>
<path d="M456.3 389.7 l1.2 2 h-2.4z" fill="#8a6a30"/>
<path d="M458.2 385.1 l1.3 2.2 h-2.6z" fill="#6a5a20"/>
<path d="M460 385.7 l1.2 2 h-2.4z" fill="#8a6a30"/>
<path d="M461.8 381.4 l1.3 2.2 h-2.6z" fill="#6a5a20"/>
<path d="M463.6 382 l1.2 2 h-2.4z" fill="#8a6a30"/>
<path d="M464.9 376.9 l1.3 2.2 h-2.6z" fill="#6a5a20"/>
<path d="M466.7 377.5 l1.2 2 h-2.4z" fill="#8a6a30"/>
<path d="M469.1 371.1 l1.3 2.2 h-2.6z" fill="#6a5a20"/>
<path d="M470.9 371.7 l1.2 2 h-2.4z" fill="#8a6a30"/>
<path d="M473.6 364.7 l1.3 2.2 h-2.6z" fill="#6a5a20"/>
<path d="M475.4 365.3 l1.2 2 h-2.4z" fill="#8a6a30"/>
<path d="M480 356.5 l1.3 2.2 h-2.6z" fill="#6a5a20"/>
<path d="M481.8 357.1 l1.2 2 h-2.4z" fill="#8a6a30"/>
<path d="M485.5 348.4 l1.3 2.2 h-2.6z" fill="#6a5a20"/>
<path d="M487.3 349 l1.2 2 h-2.4z" fill="#8a6a30"/>
<path d="M493.3 337.5 l1.3 2.2 h-2.6z" fill="#6a5a20"/>
<path d="M495.1 338.1 l1.2 2 h-2.4z" fill="#8a6a30"/>
<path d="M501.5 324.2 l1.3 2.2 h-2.6z" fill="#6a5a20"/>
<path d="M503.3 324.8 l1.2 2 h-2.4z" fill="#8a6a30"/>
<path d="M512.4 309 l1.3 2.2 h-2.6z" fill="#6a5a20"/>
<path d="M514.2 309.6 l1.2 2 h-2.4z" fill="#8a6a30"/>
<path d="M528.2 296.1 l1.3 2.2 h-2.6z" fill="#6a5a20"/>
<path d="M530 296.7 l1.2 2 h-2.4z" fill="#8a6a30"/>
<path d="M525.5 291.6 l1.2 2 h-2.4z" fill="#c07030"/>
<text x="0" y="0" font-family='"Liberation Sans",sans-serif' font-size="6" font-weight="normal" fill="#333" text-anchor="middle" transform="translate(360.8,355.5) rotate(-90)" textLength="28" lengthAdjust="spacingAndGlyphs">-Z'' (Ohm)</text>
<text x="458.9" y="428" font-family='"Liberation Sans",sans-serif' font-size="6" font-weight="normal" fill="#333" text-anchor="middle" textLength="25" lengthAdjust="spacingAndGlyphs">Z' (Ohm)</text>
<text x="356" y="303.6" font-family='"Liberation Serif",serif' font-size="14" font-weight="bold" fill="#000" text-anchor="start" >j</text>
<g transform="rotate(-15 74.4 165.6)">
<polygon points="74.4,155.1 84.9,165.6 74.4,176.1 63.9,165.6" fill="#9a62c4" fill-opacity="0.62" stroke="#6a3a80" stroke-width="0.4"/>
<polygon points="74.4,155.1 84.9,165.6 74.4,165.6" fill="#5a2a80" fill-opacity="0.3"/>
<line x1="63.9" y1="165.6" x2="84.9" y2="165.6" stroke="#6a3a80" stroke-width="0.4" />
<line x1="74.4" y1="155.1" x2="74.4" y2="176.1" stroke="#6a3a80" stroke-width="0.4" />
<circle cx="74.4" cy="165.6" r="2.1" fill="#6a1a7a" stroke="none" stroke-width="0.5" />
<circle cx="74.4" cy="155.1" r="1.9" fill="#7a4a1a" stroke="none" stroke-width="0.5" />
<circle cx="84.9" cy="165.6" r="1.9" fill="#7a4a1a" stroke="none" stroke-width="0.5" />
<circle cx="74.4" cy="176.1" r="1.9" fill="#7a4a1a" stroke="none" stroke-width="0.5" />
<circle cx="63.9" cy="165.6" r="1.9" fill="#7a4a1a" stroke="none" stroke-width="0.5" />
</g>
<g transform="rotate(-15 112 163)">
<polygon points="112,152.5 122.5,163 112,173.5 101.5,163" fill="#9a62c4" fill-opacity="0.62" stroke="#6a3a80" stroke-width="0.4"/>
<polygon points="112,152.5 122.5,163 112,163" fill="#5a2a80" fill-opacity="0.3"/>
<line x1="101.5" y1="163" x2="122.5" y2="163" stroke="#6a3a80" stroke-width="0.4" />
<line x1="112" y1="152.5" x2="112" y2="173.5" stroke="#6a3a80" stroke-width="0.4" />
<circle cx="112" cy="163" r="2.1" fill="#6a1a7a" stroke="none" stroke-width="0.5" />
<circle cx="112" cy="152.5" r="1.9" fill="#7a4a1a" stroke="none" stroke-width="0.5" />
<circle cx="122.5" cy="163" r="1.9" fill="#7a4a1a" stroke="none" stroke-width="0.5" />
<circle cx="112" cy="173.5" r="1.9" fill="#7a4a1a" stroke="none" stroke-width="0.5" />
<circle cx="101.5" cy="163" r="1.9" fill="#7a4a1a" stroke="none" stroke-width="0.5" />
</g>
<g transform="rotate(-15 57.8 189.3)">
<polygon points="57.8,178.8 68.3,189.3 57.8,199.8 47.3,189.3" fill="#9a62c4" fill-opacity="0.62" stroke="#6a3a80" stroke-width="0.4"/>
<polygon points="57.8,178.8 68.3,189.3 57.8,189.3" fill="#5a2a80" fill-opacity="0.3"/>
<line x1="47.3" y1="189.3" x2="68.3" y2="189.3" stroke="#6a3a80" stroke-width="0.4" />
<line x1="57.8" y1="178.8" x2="57.8" y2="199.8" stroke="#6a3a80" stroke-width="0.4" />
<circle cx="57.8" cy="189.3" r="2.1" fill="#6a1a7a" stroke="none" stroke-width="0.5" />
<circle cx="57.8" cy="178.8" r="1.9" fill="#7a4a1a" stroke="none" stroke-width="0.5" />
<circle cx="68.3" cy="189.3" r="1.9" fill="#7a4a1a" stroke="none" stroke-width="0.5" />
<circle cx="57.8" cy="199.8" r="1.9" fill="#7a4a1a" stroke="none" stroke-width="0.5" />
<circle cx="47.3" cy="189.3" r="1.9" fill="#7a4a1a" stroke="none" stroke-width="0.5" />
</g>
<g transform="rotate(-15 94.7 187.3)">
<polygon points="94.7,176.8 105.2,187.3 94.7,197.8 84.2,187.3" fill="#9a62c4" fill-opacity="0.62" stroke="#6a3a80" stroke-width="0.4"/>
<polygon points="94.7,176.8 105.2,187.3 94.7,187.3" fill="#5a2a80" fill-opacity="0.3"/>
<line x1="84.2" y1="187.3" x2="105.2" y2="187.3" stroke="#6a3a80" stroke-width="0.4" />
<line x1="94.7" y1="176.8" x2="94.7" y2="197.8" stroke="#6a3a80" stroke-width="0.4" />
<circle cx="94.7" cy="187.3" r="2.1" fill="#6a1a7a" stroke="none" stroke-width="0.5" />
<circle cx="94.7" cy="176.8" r="1.9" fill="#7a4a1a" stroke="none" stroke-width="0.5" />
<circle cx="105.2" cy="187.3" r="1.9" fill="#7a4a1a" stroke="none" stroke-width="0.5" />
<circle cx="94.7" cy="197.8" r="1.9" fill="#7a4a1a" stroke="none" stroke-width="0.5" />
<circle cx="84.2" cy="187.3" r="1.9" fill="#7a4a1a" stroke="none" stroke-width="0.5" />
</g>
<g transform="rotate(-15 92.2 163.5)">
<polygon points="92.2,153.5 102.2,163.5 92.2,173.5 82.2,163.5" fill="#3a50b8" fill-opacity="0.78" stroke="#6a3a80" stroke-width="0.4"/>
<polygon points="92.2,153.5 102.2,163.5 92.2,163.5" fill="#5a2a80" fill-opacity="0.3"/>
<line x1="82.2" y1="163.5" x2="102.2" y2="163.5" stroke="#6a3a80" stroke-width="0.4" />
<line x1="92.2" y1="153.5" x2="92.2" y2="173.5" stroke="#6a3a80" stroke-width="0.4" />
<circle cx="92.2" cy="163.5" r="2.1" fill="#203080" stroke="none" stroke-width="0.5" />
<circle cx="92.2" cy="153.5" r="1.9" fill="#7a4a1a" stroke="none" stroke-width="0.5" />
<circle cx="102.2" cy="163.5" r="1.9" fill="#7a4a1a" stroke="none" stroke-width="0.5" />
<circle cx="92.2" cy="173.5" r="1.9" fill="#7a4a1a" stroke="none" stroke-width="0.5" />
<circle cx="82.2" cy="163.5" r="1.9" fill="#7a4a1a" stroke="none" stroke-width="0.5" />
</g>
<g transform="rotate(-15 75.6 186.5)">
<polygon points="75.6,176.5 85.6,186.5 75.6,196.5 65.6,186.5" fill="#2a58b0" fill-opacity="0.78" stroke="#6a3a80" stroke-width="0.4"/>
<polygon points="75.6,176.5 85.6,186.5 75.6,186.5" fill="#5a2a80" fill-opacity="0.3"/>
<line x1="65.6" y1="186.5" x2="85.6" y2="186.5" stroke="#6a3a80" stroke-width="0.4" />
<line x1="75.6" y1="176.5" x2="75.6" y2="196.5" stroke="#6a3a80" stroke-width="0.4" />
<circle cx="75.6" cy="186.5" r="2.1" fill="#203080" stroke="none" stroke-width="0.5" />
<circle cx="75.6" cy="176.5" r="1.9" fill="#7a4a1a" stroke="none" stroke-width="0.5" />
<circle cx="85.6" cy="186.5" r="1.9" fill="#7a4a1a" stroke="none" stroke-width="0.5" />
<circle cx="75.6" cy="196.5" r="1.9" fill="#7a4a1a" stroke="none" stroke-width="0.5" />
<circle cx="65.6" cy="186.5" r="1.9" fill="#7a4a1a" stroke="none" stroke-width="0.5" />
</g>
<polygon points="86,174 96,170 98,176 88,180" fill="#30c0c8" fill-opacity="0.6"/>
<polygon points="70,194 80,190 82,196 72,200" fill="#30c0c8" fill-opacity="0.5"/>
<line x1="88.3" y1="175" x2="98.3" y2="167.2" stroke="#ff2a78" stroke-width="1.3" />
<line x1="66" y1="195" x2="83" y2="184" stroke="#ff2a78" stroke-width="1.3" />
<line x1="106" y1="160" x2="119" y2="151" stroke="#ff2a78" stroke-width="1.2" />
<circle cx="62" cy="158" r="1.8" fill="#7a4a1a" stroke="none" stroke-width="0.5" />
<circle cx="82" cy="153" r="1.8" fill="#7a4a1a" stroke="none" stroke-width="0.5" />
<circle cx="101" cy="150" r="1.8" fill="#7a4a1a" stroke="none" stroke-width="0.5" />
<circle cx="66" cy="177" r="1.8" fill="#7a4a1a" stroke="none" stroke-width="0.5" />
<circle cx="86" cy="177" r="1.8" fill="#7a4a1a" stroke="none" stroke-width="0.5" />
<circle cx="104" cy="177" r="1.8" fill="#7a4a1a" stroke="none" stroke-width="0.5" />
<circle cx="122" cy="176" r="1.8" fill="#7a4a1a" stroke="none" stroke-width="0.5" />
<circle cx="48" cy="190" r="1.8" fill="#7a4a1a" stroke="none" stroke-width="0.5" />
<circle cx="86" cy="198" r="1.8" fill="#7a4a1a" stroke="none" stroke-width="0.5" />
<circle cx="106" cy="198" r="1.8" fill="#7a4a1a" stroke="none" stroke-width="0.5" />
<circle cx="66" cy="204" r="1.8" fill="#7a4a1a" stroke="none" stroke-width="0.5" />
<circle cx="124" cy="158" r="1.8" fill="#7a4a1a" stroke="none" stroke-width="0.5" />
<line x1="61" y1="153" x2="62" y2="158" stroke="#e8e070" stroke-width="1.1" />
<circle cx="61" cy="153" r="1.3" fill="#f0e860" stroke="none" stroke-width="0.5" />
<line x1="100" y1="146" x2="101" y2="150" stroke="#e8e070" stroke-width="1.1" />
<circle cx="100" cy="146" r="1.3" fill="#f0e860" stroke="none" stroke-width="0.5" />
<line x1="84" y1="172" x2="86" y2="177" stroke="#e8e070" stroke-width="1.1" />
<circle cx="84" cy="172" r="1.3" fill="#f0e860" stroke="none" stroke-width="0.5" />
<line x1="104" y1="202" x2="104" y2="198" stroke="#e8e070" stroke-width="1.1" />
<circle cx="104" cy="202" r="1.3" fill="#f0e860" stroke="none" stroke-width="0.5" />
<line x1="111" y1="194" x2="106" y2="198" stroke="#e8e070" stroke-width="1.1" />
<circle cx="111" cy="194" r="1.3" fill="#f0e860" stroke="none" stroke-width="0.5" />
<line x1="48" y1="185" x2="48" y2="190" stroke="#e8e070" stroke-width="1.1" />
<circle cx="48" cy="185" r="1.3" fill="#f0e860" stroke="none" stroke-width="0.5" />
<line x1="125" y1="191" x2="122" y2="187" stroke="#e8e070" stroke-width="1.1" />
<circle cx="125" cy="191" r="1.3" fill="#f0e860" stroke="none" stroke-width="0.5" />
<line x1="70" y1="170" x2="66" y2="177" stroke="#e8e070" stroke-width="1.1" />
<circle cx="70" cy="170" r="1.3" fill="#f0e860" stroke="none" stroke-width="0.5" />
<line x1="87" y1="204" x2="86" y2="198" stroke="#e8e070" stroke-width="1.1" />
<circle cx="87" cy="204" r="1.3" fill="#f0e860" stroke="none" stroke-width="0.5" />
<circle cx="103" cy="205" r="1.5" fill="#7a4a1a" stroke="none" stroke-width="0.5" />
<line x1="103" y1="205" x2="104" y2="200" stroke="#e8e070" stroke-width="0.9" />
<text x="19.4" y="210.4" font-family='"Liberation Serif",serif' font-size="8" font-weight="bold" fill="#000" text-anchor="start" textLength="43" lengthAdjust="spacingAndGlyphs">Co-MnOOH</text>
<rect x="5" y="213" width="70" height="58" fill="#fbeef6" stroke="none" stroke-width="1" />
<rect x="7" y="228" width="65" height="11" fill="#f6f0f8" stroke="none" stroke-width="1" />
<rect x="7" y="248" width="65" height="9" fill="#e4f6f2" stroke="none" stroke-width="1" />
<polygon points="6.8,217.5 71.7,216.1 71.7,225.1 6.8,227.2" fill="#a03aa8" fill-opacity="0.92"/>
<polygon points="8,222.3 10.9,218 13.8,222.3 10.9,226.7" fill="#7a2a98" fill-opacity="0.55"/>
<circle cx="10.9" cy="222.3" r="1.2" fill="#c070d0" stroke="none" stroke-width="0.5" />
<circle cx="8.5" cy="217.5" r="0.9" fill="#5a6a3a" stroke="none" stroke-width="0.5" />
<circle cx="8.5" cy="227.2" r="0.9" fill="#5a6a3a" stroke="none" stroke-width="0.5" />
<polygon points="13.9,222.2 16.8,217.8 19.7,222.2 16.8,226.5" fill="#7a2a98" fill-opacity="0.55"/>
<circle cx="16.8" cy="222.2" r="1.2" fill="#c070d0" stroke="none" stroke-width="0.5" />
<circle cx="14.4" cy="217.3" r="0.9" fill="#5a6a3a" stroke="none" stroke-width="0.5" />
<circle cx="14.4" cy="227" r="0.9" fill="#5a6a3a" stroke="none" stroke-width="0.5" />
<polygon points="19.8,222 22.7,217.7 25.6,222 22.7,226.3" fill="#7a2a98" fill-opacity="0.55"/>
<circle cx="22.7" cy="222" r="1.2" fill="#c070d0" stroke="none" stroke-width="0.5" />
<circle cx="20.3" cy="217.2" r="0.9" fill="#5a6a3a" stroke="none" stroke-width="0.5" />
<circle cx="20.3" cy="226.8" r="0.9" fill="#5a6a3a" stroke="none" stroke-width="0.5" />
<polygon points="25.7,221.8 28.6,217.6 31.5,221.8 28.6,226.1" fill="#7a2a98" fill-opacity="0.55"/>
<circle cx="28.6" cy="221.8" r="1.2" fill="#c070d0" stroke="none" stroke-width="0.5" />
<circle cx="26.2" cy="217.1" r="0.9" fill="#5a6a3a" stroke="none" stroke-width="0.5" />
<circle cx="26.2" cy="226.6" r="0.9" fill="#5a6a3a" stroke="none" stroke-width="0.5" />
<polygon points="31.6,221.7 34.5,217.5 37.4,221.7 34.5,225.9" fill="#7a2a98" fill-opacity="0.55"/>
<circle cx="34.5" cy="221.7" r="1.2" fill="#c070d0" stroke="none" stroke-width="0.5" />
<circle cx="32.1" cy="217" r="0.9" fill="#5a6a3a" stroke="none" stroke-width="0.5" />
<circle cx="32.1" cy="226.4" r="0.9" fill="#5a6a3a" stroke="none" stroke-width="0.5" />
<polygon points="37.5,221.5 40.4,217.3 43.3,221.5 40.4,225.7" fill="#7a2a98" fill-opacity="0.55"/>
<circle cx="40.4" cy="221.5" r="1.2" fill="#c070d0" stroke="none" stroke-width="0.5" />
<circle cx="38" cy="216.8" r="0.9" fill="#5a6a3a" stroke="none" stroke-width="0.5" />
<circle cx="38" cy="226.2" r="0.9" fill="#5a6a3a" stroke="none" stroke-width="0.5" />
<polygon points="43.4,221.4 46.3,217.2 49.2,221.4 46.3,225.5" fill="#7a2a98" fill-opacity="0.55"/>
<circle cx="46.3" cy="221.4" r="1.2" fill="#c070d0" stroke="none" stroke-width="0.5" />
<circle cx="43.9" cy="216.7" r="0.9" fill="#5a6a3a" stroke="none" stroke-width="0.5" />
<circle cx="43.9" cy="226" r="0.9" fill="#5a6a3a" stroke="none" stroke-width="0.5" />
<polygon points="49.3,221.2 52.2,217.1 55.1,221.2 52.2,225.3" fill="#7a2a98" fill-opacity="0.55"/>
<circle cx="52.2" cy="221.2" r="1.2" fill="#c070d0" stroke="none" stroke-width="0.5" />
<circle cx="49.8" cy="216.6" r="0.9" fill="#5a6a3a" stroke="none" stroke-width="0.5" />
<circle cx="49.8" cy="225.8" r="0.9" fill="#5a6a3a" stroke="none" stroke-width="0.5" />
<polygon points="55.2,221 58.1,217 61,221 58.1,225.1" fill="#7a2a98" fill-opacity="0.55"/>
<circle cx="58.1" cy="221" r="1.2" fill="#c070d0" stroke="none" stroke-width="0.5" />
<circle cx="55.7" cy="216.5" r="0.9" fill="#5a6a3a" stroke="none" stroke-width="0.5" />
<circle cx="55.7" cy="225.6" r="0.9" fill="#5a6a3a" stroke="none" stroke-width="0.5" />
<polygon points="61.1,220.9 64,216.8 66.9,220.9 64,224.9" fill="#7a2a98" fill-opacity="0.55"/>
<circle cx="64" cy="220.9" r="1.2" fill="#c070d0" stroke="none" stroke-width="0.5" />
<circle cx="61.6" cy="216.3" r="0.9" fill="#5a6a3a" stroke="none" stroke-width="0.5" />
<circle cx="61.6" cy="225.4" r="0.9" fill="#5a6a3a" stroke="none" stroke-width="0.5" />
<polygon points="67,220.7 69.9,216.7 72.8,220.7 69.9,224.8" fill="#7a2a98" fill-opacity="0.55"/>
<circle cx="69.9" cy="220.7" r="1.2" fill="#c070d0" stroke="none" stroke-width="0.5" />
<circle cx="67.5" cy="216.2" r="0.9" fill="#5a6a3a" stroke="none" stroke-width="0.5" />
<circle cx="67.5" cy="225.3" r="0.9" fill="#5a6a3a" stroke="none" stroke-width="0.5" />
<polygon points="6.8,239 71.7,238.6 71.7,246.8 6.8,247.2" fill="#a03aa8" fill-opacity="0.92"/>
<polygon points="8,243.1 10.9,239.5 13.8,243.1 10.9,246.7" fill="#7a2a98" fill-opacity="0.55"/>
<circle cx="10.9" cy="243.1" r="1.2" fill="#c070d0" stroke="none" stroke-width="0.5" />
<circle cx="8.5" cy="239" r="0.9" fill="#5a6a3a" stroke="none" stroke-width="0.5" />
<circle cx="8.5" cy="247.2" r="0.9" fill="#5a6a3a" stroke="none" stroke-width="0.5" />
<polygon points="13.9,243.1 16.8,239.5 19.7,243.1 16.8,246.7" fill="#7a2a98" fill-opacity="0.55"/>
<circle cx="16.8" cy="243.1" r="1.2" fill="#c070d0" stroke="none" stroke-width="0.5" />
<circle cx="14.4" cy="239" r="0.9" fill="#5a6a3a" stroke="none" stroke-width="0.5" />
<circle cx="14.4" cy="247.2" r="0.9" fill="#5a6a3a" stroke="none" stroke-width="0.5" />
<polygon points="19.8,243 22.7,239.4 25.6,243 22.7,246.6" fill="#7a2a98" fill-opacity="0.55"/>
<circle cx="22.7" cy="243" r="1.2" fill="#c070d0" stroke="none" stroke-width="0.5" />
<circle cx="20.3" cy="238.9" r="0.9" fill="#5a6a3a" stroke="none" stroke-width="0.5" />
<circle cx="20.3" cy="247.1" r="0.9" fill="#5a6a3a" stroke="none" stroke-width="0.5" />
<polygon points="25.7,243 28.6,239.4 31.5,243 28.6,246.6" fill="#7a2a98" fill-opacity="0.55"/>
<circle cx="28.6" cy="243" r="1.2" fill="#c070d0" stroke="none" stroke-width="0.5" />
<circle cx="26.2" cy="238.9" r="0.9" fill="#5a6a3a" stroke="none" stroke-width="0.5" />
<circle cx="26.2" cy="247.1" r="0.9" fill="#5a6a3a" stroke="none" stroke-width="0.5" />
<polygon points="31.6,242.9 34.5,239.3 37.4,242.9 34.5,246.5" fill="#7a2a98" fill-opacity="0.55"/>
<circle cx="34.5" cy="242.9" r="1.2" fill="#c070d0" stroke="none" stroke-width="0.5" />
<circle cx="32.1" cy="238.8" r="0.9" fill="#5a6a3a" stroke="none" stroke-width="0.5" />
<circle cx="32.1" cy="247" r="0.9" fill="#5a6a3a" stroke="none" stroke-width="0.5" />
<polygon points="37.5,242.9 40.4,239.3 43.3,242.9 40.4,246.5" fill="#7a2a98" fill-opacity="0.55"/>
<circle cx="40.4" cy="242.9" r="1.2" fill="#c070d0" stroke="none" stroke-width="0.5" />
<circle cx="38" cy="238.8" r="0.9" fill="#5a6a3a" stroke="none" stroke-width="0.5" />
<circle cx="38" cy="247" r="0.9" fill="#5a6a3a" stroke="none" stroke-width="0.5" />
<polygon points="43.4,242.9 46.3,239.3 49.2,242.9 46.3,246.5" fill="#7a2a98" fill-opacity="0.55"/>
<circle cx="46.3" cy="242.9" r="1.2" fill="#c070d0" stroke="none" stroke-width="0.5" />
<circle cx="43.9" cy="238.8" r="0.9" fill="#5a6a3a" stroke="none" stroke-width="0.5" />
<circle cx="43.9" cy="247" r="0.9" fill="#5a6a3a" stroke="none" stroke-width="0.5" />
<polygon points="49.3,242.8 52.2,239.2 55.1,242.8 52.2,246.4" fill="#7a2a98" fill-opacity="0.55"/>
<circle cx="52.2" cy="242.8" r="1.2" fill="#c070d0" stroke="none" stroke-width="0.5" />
<circle cx="49.8" cy="238.7" r="0.9" fill="#5a6a3a" stroke="none" stroke-width="0.5" />
<circle cx="49.8" cy="246.9" r="0.9" fill="#5a6a3a" stroke="none" stroke-width="0.5" />
<polygon points="55.2,242.8 58.1,239.2 61,242.8 58.1,246.4" fill="#7a2a98" fill-opacity="0.55"/>
<circle cx="58.1" cy="242.8" r="1.2" fill="#c070d0" stroke="none" stroke-width="0.5" />
<circle cx="55.7" cy="238.7" r="0.9" fill="#5a6a3a" stroke="none" stroke-width="0.5" />
<circle cx="55.7" cy="246.9" r="0.9" fill="#5a6a3a" stroke="none" stroke-width="0.5" />
<polygon points="61.1,242.8 64,239.2 66.9,242.8 64,246.4" fill="#7a2a98" fill-opacity="0.55"/>
<circle cx="64" cy="242.8" r="1.2" fill="#c070d0" stroke="none" stroke-width="0.5" />
<circle cx="61.6" cy="238.7" r="0.9" fill="#5a6a3a" stroke="none" stroke-width="0.5" />
<circle cx="61.6" cy="246.9" r="0.9" fill="#5a6a3a" stroke="none" stroke-width="0.5" />
<polygon points="67,242.7 69.9,239.1 72.8,242.7 69.9,246.3" fill="#7a2a98" fill-opacity="0.55"/>
<circle cx="69.9" cy="242.7" r="1.2" fill="#c070d0" stroke="none" stroke-width="0.5" />
<circle cx="67.5" cy="238.6" r="0.9" fill="#5a6a3a" stroke="none" stroke-width="0.5" />
<circle cx="67.5" cy="246.8" r="0.9" fill="#5a6a3a" stroke="none" stroke-width="0.5" />
<polygon points="6.8,257.6 71.7,256.2 71.7,265.2 6.8,267.2" fill="#a03aa8" fill-opacity="0.92"/>
<polygon points="8,262.4 10.9,258.1 13.8,262.4 10.9,266.7" fill="#7a2a98" fill-opacity="0.55"/>
<circle cx="10.9" cy="262.4" r="1.2" fill="#c070d0" stroke="none" stroke-width="0.5" />
<circle cx="8.5" cy="257.6" r="0.9" fill="#5a6a3a" stroke="none" stroke-width="0.5" />
<circle cx="8.5" cy="267.2" r="0.9" fill="#5a6a3a" stroke="none" stroke-width="0.5" />
<polygon points="13.9,262.2 16.8,257.9 19.7,262.2 16.8,266.5" fill="#7a2a98" fill-opacity="0.55"/>
<circle cx="16.8" cy="262.2" r="1.2" fill="#c070d0" stroke="none" stroke-width="0.5" />
<circle cx="14.4" cy="257.4" r="0.9" fill="#5a6a3a" stroke="none" stroke-width="0.5" />
<circle cx="14.4" cy="267" r="0.9" fill="#5a6a3a" stroke="none" stroke-width="0.5" />
<polygon points="19.8,262.1 22.7,257.8 25.6,262.1 22.7,266.3" fill="#7a2a98" fill-opacity="0.55"/>
<circle cx="22.7" cy="262.1" r="1.2" fill="#c070d0" stroke="none" stroke-width="0.5" />
<circle cx="20.3" cy="257.3" r="0.9" fill="#5a6a3a" stroke="none" stroke-width="0.5" />
<circle cx="20.3" cy="266.8" r="0.9" fill="#5a6a3a" stroke="none" stroke-width="0.5" />
<polygon points="25.7,261.9 28.6,257.7 31.5,261.9 28.6,266.1" fill="#7a2a98" fill-opacity="0.55"/>
<circle cx="28.6" cy="261.9" r="1.2" fill="#c070d0" stroke="none" stroke-width="0.5" />
<circle cx="26.2" cy="257.2" r="0.9" fill="#5a6a3a" stroke="none" stroke-width="0.5" />
<circle cx="26.2" cy="266.6" r="0.9" fill="#5a6a3a" stroke="none" stroke-width="0.5" />
<polygon points="31.6,261.8 34.5,257.6 37.4,261.8 34.5,265.9" fill="#7a2a98" fill-opacity="0.55"/>
<circle cx="34.5" cy="261.8" r="1.2" fill="#c070d0" stroke="none" stroke-width="0.5" />
<circle cx="32.1" cy="257.1" r="0.9" fill="#5a6a3a" stroke="none" stroke-width="0.5" />
<circle cx="32.1" cy="266.4" r="0.9" fill="#5a6a3a" stroke="none" stroke-width="0.5" />
<polygon points="37.5,261.6 40.4,257.4 43.3,261.6 40.4,265.8" fill="#7a2a98" fill-opacity="0.55"/>
<circle cx="40.4" cy="261.6" r="1.2" fill="#c070d0" stroke="none" stroke-width="0.5" />
<circle cx="38" cy="256.9" r="0.9" fill="#5a6a3a" stroke="none" stroke-width="0.5" />
<circle cx="38" cy="266.3" r="0.9" fill="#5a6a3a" stroke="none" stroke-width="0.5" />
<polygon points="43.4,261.4 46.3,257.3 49.2,261.4 46.3,265.6" fill="#7a2a98" fill-opacity="0.55"/>
<circle cx="46.3" cy="261.4" r="1.2" fill="#c070d0" stroke="none" stroke-width="0.5" />
<circle cx="43.9" cy="256.8" r="0.9" fill="#5a6a3a" stroke="none" stroke-width="0.5" />
<circle cx="43.9" cy="266.1" r="0.9" fill="#5a6a3a" stroke="none" stroke-width="0.5" />
<polygon points="49.3,261.3 52.2,257.2 55.1,261.3 52.2,265.4" fill="#7a2a98" fill-opacity="0.55"/>
<circle cx="52.2" cy="261.3" r="1.2" fill="#c070d0" stroke="none" stroke-width="0.5" />
<circle cx="49.8" cy="256.7" r="0.9" fill="#5a6a3a" stroke="none" stroke-width="0.5" />
<circle cx="49.8" cy="265.9" r="0.9" fill="#5a6a3a" stroke="none" stroke-width="0.5" />
<polygon points="55.2,261.1 58.1,257.1 61,261.1 58.1,265.2" fill="#7a2a98" fill-opacity="0.55"/>
<circle cx="58.1" cy="261.1" r="1.2" fill="#c070d0" stroke="none" stroke-width="0.5" />
<circle cx="55.7" cy="256.6" r="0.9" fill="#5a6a3a" stroke="none" stroke-width="0.5" />
<circle cx="55.7" cy="265.7" r="0.9" fill="#5a6a3a" stroke="none" stroke-width="0.5" />
<polygon points="61.1,261 64,256.9 66.9,261 64,265" fill="#7a2a98" fill-opacity="0.55"/>
<circle cx="64" cy="261" r="1.2" fill="#c070d0" stroke="none" stroke-width="0.5" />
<circle cx="61.6" cy="256.4" r="0.9" fill="#5a6a3a" stroke="none" stroke-width="0.5" />
<circle cx="61.6" cy="265.5" r="0.9" fill="#5a6a3a" stroke="none" stroke-width="0.5" />
<polygon points="67,260.8 69.9,256.8 72.8,260.8 69.9,264.8" fill="#7a2a98" fill-opacity="0.55"/>
<circle cx="69.9" cy="260.8" r="1.2" fill="#c070d0" stroke="none" stroke-width="0.5" />
<circle cx="67.5" cy="256.3" r="0.9" fill="#5a6a3a" stroke="none" stroke-width="0.5" />
<circle cx="67.5" cy="265.3" r="0.9" fill="#5a6a3a" stroke="none" stroke-width="0.5" />
<circle cx="27" cy="233" r="1.7" fill="#d4d4f0" stroke="#6070c0" stroke-width="0.6" />
<circle cx="34" cy="232" r="1.7" fill="#d4d4f0" stroke="#6070c0" stroke-width="0.6" />
<circle cx="40" cy="233" r="1.7" fill="#d4d4f0" stroke="#6070c0" stroke-width="0.6" />
<circle cx="14" cy="254" r="1.7" fill="#d4d4f0" stroke="#6070c0" stroke-width="0.6" />
<circle cx="22" cy="253" r="1.7" fill="#d4d4f0" stroke="#6070c0" stroke-width="0.6" />
<circle cx="28" cy="253" r="1.7" fill="#d4d4f0" stroke="#6070c0" stroke-width="0.6" />
<circle cx="41" cy="253" r="1.7" fill="#d4d4f0" stroke="#6070c0" stroke-width="0.6" />
<circle cx="47" cy="252" r="1.7" fill="#d4d4f0" stroke="#6070c0" stroke-width="0.6" />
<circle cx="55" cy="251" r="1.7" fill="#d4d4f0" stroke="#6070c0" stroke-width="0.6" />
<circle cx="58" cy="231" r="1.7" fill="#d4d4f0" stroke="#6070c0" stroke-width="0.6" />
<circle cx="49" cy="230" r="1.7" fill="#d4d4f0" stroke="#6070c0" stroke-width="0.6" />
<circle cx="31" cy="232" r="1.6" fill="#202c80" stroke="none" stroke-width="0.5" />
<circle cx="31" cy="253" r="1.6" fill="#202c80" stroke="none" stroke-width="0.5" />
<circle cx="47" cy="251" r="1.6" fill="#202c80" stroke="none" stroke-width="0.5" />
<circle cx="39" cy="233" r="1.3" fill="#202c80" stroke="none" stroke-width="0.5" />
<polygon points="27,222 35,217 37,219 29,224" fill="#ff1a60"/>
<circle cx="27" cy="222" r="1.8" fill="#ff1a60" stroke="none" stroke-width="0.5" />
<path d="M38 236 q8 -4 16 -2 q6 2 9 -4" fill="none" stroke="#8a6a50" stroke-width="1"/>
<line x1="52" y1="233" x2="63" y2="229.5" stroke="#8a5a30" stroke-width="0.8" />
<text x="64.2" y="232.5" font-family='"Liberation Serif",serif' font-size="8" font-weight="bold" fill="#000" text-anchor="start" textLength="33" lengthAdjust="spacingAndGlyphs">Stabilizer</text>
<text x="18.7" y="279.9" font-family='"Liberation Serif",serif' font-size="8" font-weight="bold" fill="#000" text-anchor="start" textLength="47.4" lengthAdjust="spacingAndGlyphs">Co-Zn<tspan font-size="5" dy="1.5">x</tspan><tspan dy="-1.5">MnO</tspan><tspan font-size="5" dy="1.5">2</tspan></text>
<line x1="92.2" y1="214.5" x2="114.5" y2="214.5" stroke="#dcd460" stroke-width="2.4" />
<line x1="104" y1="203.4" x2="104" y2="226.7" stroke="#dcd460" stroke-width="2.4" />
<rect x="119.8" y="200.8" width="56.5" height="71.6" fill="#9a58b8" stroke="none" stroke-width="1" />
<rect x="119.8" y="216.4" width="56.5" height="39" fill="#a848b0" stroke="none" stroke-width="1" />
<polygon points="147.1,200.6 158.8,209.6 147.1,218.6 135.4,209.6" fill="#9a50c0" fill-opacity="0.9" stroke="#6a3a80" stroke-width="0.4"/>
<polygon points="147.1,254.7 158.8,263.7 147.1,272.7 135.4,263.7" fill="#9a50c0" fill-opacity="0.9" stroke="#6a3a80" stroke-width="0.4"/>
<rect x="119.8" y="200.8" width="16" height="17" fill="#48b8c4" stroke="none" stroke-width="1" />
<polygon points="122.8,214.8 127.8,203.8 132.8,214.8" fill="#2a8aa0" fill-opacity="0.6"/>
<rect x="158.8" y="200.8" width="16" height="17" fill="#48b8c4" stroke="none" stroke-width="1" />
<polygon points="161.8,214.8 166.8,203.8 171.8,214.8" fill="#2a8aa0" fill-opacity="0.6"/>
<rect x="119.8" y="255.4" width="16" height="17" fill="#48b8c4" stroke="none" stroke-width="1" />
<polygon points="122.8,269.4 127.8,258.4 132.8,269.4" fill="#2a8aa0" fill-opacity="0.6"/>
<rect x="158.8" y="255.4" width="16" height="17" fill="#48b8c4" stroke="none" stroke-width="1" />
<polygon points="161.8,269.4 166.8,258.4 171.8,269.4" fill="#2a8aa0" fill-opacity="0.6"/>
<polygon points="133,219 144,230 133,241 122,230" fill="#c058c8" fill-opacity="0.7" stroke="#7a2080" stroke-width="0.4"/>
<polygon points="161,219 172,230 161,241 150,230" fill="#c058c8" fill-opacity="0.7" stroke="#7a2080" stroke-width="0.4"/>
<polygon points="133,235 144,246 133,257 122,246" fill="#c058c8" fill-opacity="0.7" stroke="#7a2080" stroke-width="0.4"/>
<polygon points="161,235 172,246 161,257 150,246" fill="#c058c8" fill-opacity="0.7" stroke="#7a2080" stroke-width="0.4"/>
<rect x="143.2" y="232" width="9.8" height="21.5" fill="#4a80c8" stroke="none" stroke-width="1" />
<rect x="143.2" y="242" width="9.8" height="11.5" fill="#50b8c8" stroke="none" stroke-width="1" />
<circle cx="121" cy="202.8" r="1.2" fill="#6a7a3a" stroke="none" stroke-width="0.5" />
<circle cx="127.6" cy="202.8" r="1.2" fill="#6a7a3a" stroke="none" stroke-width="0.5" />
<circle cx="134.2" cy="202.8" r="1.2" fill="#6a7a3a" stroke="none" stroke-width="0.5" />
<circle cx="140.8" cy="202.8" r="1.2" fill="#6a7a3a" stroke="none" stroke-width="0.5" />
<circle cx="147.4" cy="202.8" r="1.2" fill="#6a7a3a" stroke="none" stroke-width="0.5" />
<circle cx="154" cy="202.8" r="1.2" fill="#6a7a3a" stroke="none" stroke-width="0.5" />
<circle cx="160.6" cy="202.8" r="1.2" fill="#6a7a3a" stroke="none" stroke-width="0.5" />
<circle cx="167.2" cy="202.8" r="1.2" fill="#6a7a3a" stroke="none" stroke-width="0.5" />
<circle cx="173.8" cy="202.8" r="1.2" fill="#6a7a3a" stroke="none" stroke-width="0.5" />
<circle cx="121" cy="231" r="1.2" fill="#6a7a3a" stroke="none" stroke-width="0.5" />
<circle cx="127.6" cy="231" r="1.2" fill="#6a7a3a" stroke="none" stroke-width="0.5" />
<circle cx="134.2" cy="231" r="1.2" fill="#6a7a3a" stroke="none" stroke-width="0.5" />
<circle cx="140.8" cy="231" r="1.2" fill="#6a7a3a" stroke="none" stroke-width="0.5" />
<circle cx="147.4" cy="231" r="1.2" fill="#6a7a3a" stroke="none" stroke-width="0.5" />
<circle cx="154" cy="231" r="1.2" fill="#6a7a3a" stroke="none" stroke-width="0.5" />
<circle cx="160.6" cy="231" r="1.2" fill="#6a7a3a" stroke="none" stroke-width="0.5" />
<circle cx="167.2" cy="231" r="1.2" fill="#6a7a3a" stroke="none" stroke-width="0.5" />
<circle cx="173.8" cy="231" r="1.2" fill="#6a7a3a" stroke="none" stroke-width="0.5" />
<circle cx="121" cy="242.8" r="1.2" fill="#6a7a3a" stroke="none" stroke-width="0.5" />
<circle cx="127.6" cy="242.8" r="1.2" fill="#6a7a3a" stroke="none" stroke-width="0.5" />
<circle cx="134.2" cy="242.8" r="1.2" fill="#6a7a3a" stroke="none" stroke-width="0.5" />
<circle cx="140.8" cy="242.8" r="1.2" fill="#6a7a3a" stroke="none" stroke-width="0.5" />
<circle cx="147.4" cy="242.8" r="1.2" fill="#6a7a3a" stroke="none" stroke-width="0.5" />
<circle cx="154" cy="242.8" r="1.2" fill="#6a7a3a" stroke="none" stroke-width="0.5" />
<circle cx="160.6" cy="242.8" r="1.2" fill="#6a7a3a" stroke="none" stroke-width="0.5" />
<circle cx="167.2" cy="242.8" r="1.2" fill="#6a7a3a" stroke="none" stroke-width="0.5" />
<circle cx="173.8" cy="242.8" r="1.2" fill="#6a7a3a" stroke="none" stroke-width="0.5" />
<circle cx="121" cy="257.4" r="1.2" fill="#6a7a3a" stroke="none" stroke-width="0.5" />
<circle cx="127.6" cy="257.4" r="1.2" fill="#6a7a3a" stroke="none" stroke-width="0.5" />
<circle cx="134.2" cy="257.4" r="1.2" fill="#6a7a3a" stroke="none" stroke-width="0.5" />
<circle cx="140.8" cy="257.4" r="1.2" fill="#6a7a3a" stroke="none" stroke-width="0.5" />
<circle cx="147.4" cy="257.4" r="1.2" fill="#6a7a3a" stroke="none" stroke-width="0.5" />
<circle cx="154" cy="257.4" r="1.2" fill="#6a7a3a" stroke="none" stroke-width="0.5" />
<circle cx="160.6" cy="257.4" r="1.2" fill="#6a7a3a" stroke="none" stroke-width="0.5" />
<circle cx="167.2" cy="257.4" r="1.2" fill="#6a7a3a" stroke="none" stroke-width="0.5" />
<circle cx="173.8" cy="257.4" r="1.2" fill="#6a7a3a" stroke="none" stroke-width="0.5" />
<circle cx="121" cy="269" r="1.2" fill="#6a7a3a" stroke="none" stroke-width="0.5" />
<circle cx="127.6" cy="269" r="1.2" fill="#6a7a3a" stroke="none" stroke-width="0.5" />
<circle cx="134.2" cy="269" r="1.2" fill="#6a7a3a" stroke="none" stroke-width="0.5" />
<circle cx="140.8" cy="269" r="1.2" fill="#6a7a3a" stroke="none" stroke-width="0.5" />
<circle cx="147.4" cy="269" r="1.2" fill="#6a7a3a" stroke="none" stroke-width="0.5" />
<circle cx="154" cy="269" r="1.2" fill="#6a7a3a" stroke="none" stroke-width="0.5" />
<circle cx="160.6" cy="269" r="1.2" fill="#6a7a3a" stroke="none" stroke-width="0.5" />
<circle cx="167.2" cy="269" r="1.2" fill="#6a7a3a" stroke="none" stroke-width="0.5" />
<circle cx="173.8" cy="269" r="1.2" fill="#6a7a3a" stroke="none" stroke-width="0.5" />
<circle cx="118.5" cy="231" r="1.4" fill="#8a5a2a" stroke="none" stroke-width="0.5" />
<circle cx="118.5" cy="243" r="1.4" fill="#8a5a2a" stroke="none" stroke-width="0.5" />
<circle cx="176.5" cy="231" r="1.4" fill="#8a5a2a" stroke="none" stroke-width="0.5" />
<circle cx="176.5" cy="243" r="1.4" fill="#8a5a2a" stroke="none" stroke-width="0.5" />
<circle cx="147" cy="200" r="1.4" fill="#8a5a2a" stroke="none" stroke-width="0.5" />
<circle cx="147" cy="272.5" r="1.4" fill="#8a5a2a" stroke="none" stroke-width="0.5" />
<circle cx="125" cy="199" r="1.6" fill="#5a6a4a" stroke="none" stroke-width="0.5" />
<circle cx="132" cy="199" r="1.6" fill="#5a6a4a" stroke="none" stroke-width="0.5" />
<circle cx="163" cy="199" r="1.6" fill="#5a6a4a" stroke="none" stroke-width="0.5" />
<circle cx="170" cy="199" r="1.6" fill="#5a6a4a" stroke="none" stroke-width="0.5" />
<line x1="162" y1="228" x2="182" y2="250" stroke="#8a4a30" stroke-width="0.8" />
<text x="168.5" y="269" font-family='"Liberation Serif",serif' font-size="7.5" font-weight="bold" fill="#222" text-anchor="start" >Zn<tspan font-size="4.5" dy="-3">2+</tspan></text>
<text x="148.5" y="154.9" font-family='"Liberation Serif",serif' font-size="8" font-weight="bold" fill="#000" text-anchor="middle" textLength="34" lengthAdjust="spacingAndGlyphs">Co<tspan font-size="5" dy="-3.2">2+</tspan><tspan dy="3.2">/Co</tspan><tspan font-size="5" dy="-3.2">3+</tspan></text>
<text x="148.5" y="162.6" font-family='"Liberation Serif",serif' font-size="8" font-weight="bold" fill="#000" text-anchor="middle" >promote</text>
<text x="148.5" y="171.6" font-family='"Liberation Serif",serif' font-size="8" font-weight="bold" fill="#000" text-anchor="middle" textLength="41.7" lengthAdjust="spacingAndGlyphs">H<tspan font-size="5" dy="-3.2">+</tspan><tspan dy="3.2"> diffusion</tspan></text>
<text x="148.3" y="187.6" font-family='"Liberation Serif",serif' font-size="8" font-weight="bold" fill="#000" text-anchor="middle" >Inhibit</text>
<text x="149.2" y="196.6" font-family='"Liberation Serif",serif' font-size="8" font-weight="bold" fill="#000" text-anchor="middle" textLength="40.4" lengthAdjust="spacingAndGlyphs">&#8220;J-T&#8221; effect</text>
<text x="89.7" y="253.2" font-family='"Liberation Serif",serif' font-size="7.7" font-weight="bold" fill="#000" text-anchor="start" >Co<tspan font-size="5" dy="-3.2">2+</tspan><tspan dy="3.2">/Co</tspan><tspan font-size="5" dy="-3.2">3+</tspan></text>
<text x="89.7" y="260.8" font-family='"Liberation Sans",sans-serif' font-size="7.4" font-weight="bold" fill="#000" text-anchor="start" textLength="29.5" lengthAdjust="spacingAndGlyphs">promote</text>
<text x="89.7" y="267.4" font-family='"Liberation Sans",sans-serif' font-size="7.2" font-weight="bold" fill="#000" text-anchor="start" textLength="30.2" lengthAdjust="spacingAndGlyphs">diffusion</text>
<text x="125" y="280" font-family='"Liberation Serif",serif' font-size="8" font-weight="bold" fill="#000" text-anchor="start" textLength="49" lengthAdjust="spacingAndGlyphs">Co-ZnMn<tspan font-size="5" dy="1.5">2</tspan><tspan dy="-1.5">O</tspan><tspan font-size="5" dy="1.5">4</tspan></text>
<text x="12" y="166" font-family='"Liberation Serif",serif' font-size="15" font-weight="bold" fill="#000" text-anchor="start" >e</text>
</svg>
</body></html>
